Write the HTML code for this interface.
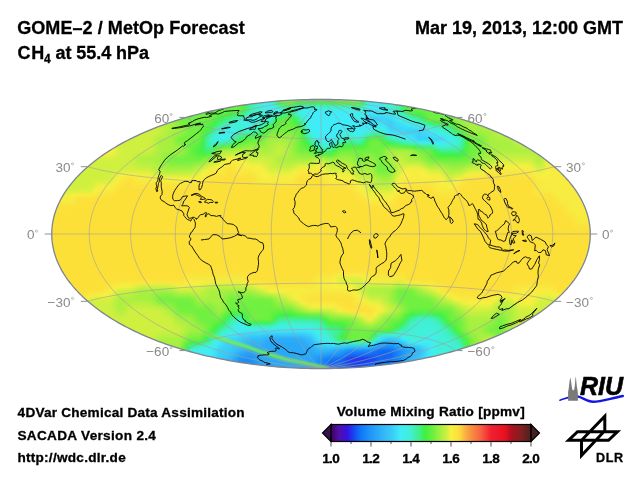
<!DOCTYPE html>
<html><head><meta charset="utf-8"><style>
html,body{margin:0;padding:0;background:#fff;width:640px;height:480px;overflow:hidden}
svg{position:absolute;left:0;top:0}
text{font-family:"Liberation Sans",Arial,Helvetica,sans-serif}
.b{font-weight:bold;fill:#000;stroke:#000;stroke-width:0.3px}
.lab{font-size:13.5px;fill:#8a8a8a}
.lab circle{fill:none;stroke:#a0a0a0;stroke-width:0.7}
.deg{font-size:7px}
</style></head><body>
<svg width="640" height="480" viewBox="0 0 640 480">
<defs><filter id="bl" x="-5%" y="-5%" width="110%" height="110%" color-interpolation-filters="sRGB"><feGaussianBlur stdDeviation="1.5"/></filter><filter id="bl1" x="-10%" y="-50%" width="120%" height="200%"><feGaussianBlur stdDeviation="1"/></filter><clipPath id="ec"><path d="M590.27,234 590.23,231.65 590.1,229.3 589.9,226.95 589.61,224.61 589.24,222.27 588.79,219.93 588.26,217.59 587.65,215.26 586.95,212.94 586.18,210.62 585.32,208.31 584.38,206.01 583.36,203.71 582.27,201.43 581.09,199.15 579.84,196.89 578.5,194.64 577.09,192.4 575.6,190.17 574.03,187.95 572.38,185.75 570.66,183.57 568.86,181.39 566.99,179.24 565.04,177.1 563.01,174.98 560.92,172.88 558.75,170.79 556.51,168.73 554.19,166.68 551.81,164.66 549.35,162.66 546.83,160.67 544.23,158.71 541.57,156.78 538.84,154.86 536.05,152.98 533.18,151.11 530.26,149.27 527.27,147.46 524.22,145.67 521.1,143.91 517.93,142.18 514.69,140.48 511.4,138.8 508.05,137.15 504.64,135.54 501.17,133.95 497.65,132.39 494.08,130.87 490.45,129.37 486.78,127.91 483.05,126.48 479.27,125.08 475.44,123.71 471.57,122.38 467.65,121.09 463.69,119.82 459.68,118.6 455.63,117.4 451.54,116.25 447.41,115.13 443.24,114.04 439.04,112.99 434.8,111.98 430.52,111.01 426.21,110.07 421.87,109.17 417.5,108.31 413.09,107.49 408.66,106.7 404.21,105.96 399.73,105.25 395.22,104.58 390.69,103.95 386.14,103.37 381.57,102.82 376.98,102.31 372.38,101.84 367.76,101.41 363.12,101.02 358.47,100.68 353.82,100.37 349.15,100.1 344.47,99.88 339.78,99.69 335.09,99.55 330.4,99.45 325.7,99.39 321,99.37 316.3,99.39 311.6,99.45 306.91,99.55 302.22,99.69 297.53,99.88 292.85,100.1 288.18,100.37 283.53,100.68 278.88,101.02 274.24,101.41 269.62,101.84 265.02,102.31 260.43,102.82 255.86,103.37 251.31,103.95 246.78,104.58 242.27,105.25 237.79,105.96 233.34,106.7 228.91,107.49 224.5,108.31 220.13,109.17 215.79,110.07 211.48,111.01 207.2,111.98 202.96,112.99 198.76,114.04 194.59,115.13 190.46,116.25 186.37,117.4 182.32,118.6 178.31,119.82 174.35,121.09 170.43,122.38 166.56,123.71 162.73,125.08 158.95,126.48 155.22,127.91 151.55,129.37 147.92,130.87 144.35,132.39 140.83,133.95 137.36,135.54 133.95,137.15 130.6,138.8 127.31,140.48 124.07,142.18 120.9,143.91 117.78,145.67 114.73,147.46 111.74,149.27 108.82,151.11 105.95,152.98 103.16,154.86 100.43,156.78 97.77,158.71 95.17,160.67 92.65,162.66 90.19,164.66 87.81,166.68 85.49,168.73 83.25,170.79 81.08,172.88 78.99,174.98 76.96,177.1 75.01,179.24 73.14,181.39 71.34,183.57 69.62,185.75 67.97,187.95 66.4,190.17 64.91,192.4 63.5,194.64 62.16,196.89 60.91,199.15 59.73,201.43 58.64,203.71 57.62,206.01 56.68,208.31 55.82,210.62 55.05,212.94 54.35,215.26 53.74,217.59 53.21,219.93 52.76,222.27 52.39,224.61 52.1,226.95 51.9,229.3 51.77,231.65 51.73,234 51.77,236.35 51.9,238.7 52.1,241.05 52.39,243.39 52.76,245.73 53.21,248.07 53.74,250.41 54.35,252.74 55.05,255.06 55.82,257.38 56.68,259.69 57.62,261.99 58.64,264.29 59.73,266.57 60.91,268.85 62.16,271.11 63.5,273.36 64.91,275.6 66.4,277.83 67.97,280.05 69.62,282.25 71.34,284.43 73.14,286.61 75.01,288.76 76.96,290.9 78.99,293.02 81.08,295.12 83.25,297.21 85.49,299.27 87.81,301.32 90.19,303.34 92.65,305.34 95.17,307.33 97.77,309.29 100.43,311.22 103.16,313.14 105.95,315.02 108.82,316.89 111.74,318.73 114.73,320.54 117.78,322.33 120.9,324.09 124.07,325.82 127.31,327.52 130.6,329.2 133.95,330.85 137.36,332.46 140.83,334.05 144.35,335.61 147.92,337.13 151.55,338.63 155.22,340.09 158.95,341.52 162.73,342.92 166.56,344.29 170.43,345.62 174.35,346.91 178.31,348.18 182.32,349.4 186.37,350.6 190.46,351.75 194.59,352.87 198.76,353.96 202.96,355.01 207.2,356.02 211.48,356.99 215.79,357.93 220.13,358.83 224.5,359.69 228.91,360.51 233.34,361.3 237.79,362.04 242.27,362.75 246.78,363.42 251.31,364.05 255.86,364.63 260.43,365.18 265.02,365.69 269.62,366.16 274.24,366.59 278.88,366.98 283.53,367.32 288.18,367.63 292.85,367.9 297.53,368.12 302.22,368.31 306.91,368.45 311.6,368.55 316.3,368.61 321,368.63 325.7,368.61 330.4,368.55 335.09,368.45 339.78,368.31 344.47,368.12 349.15,367.9 353.82,367.63 358.47,367.32 363.12,366.98 367.76,366.59 372.38,366.16 376.98,365.69 381.57,365.18 386.14,364.63 390.69,364.05 395.22,363.42 399.73,362.75 404.21,362.04 408.66,361.3 413.09,360.51 417.5,359.69 421.87,358.83 426.21,357.93 430.52,356.99 434.8,356.02 439.04,355.01 443.24,353.96 447.41,352.87 451.54,351.75 455.63,350.6 459.68,349.4 463.69,348.18 467.65,346.91 471.57,345.62 475.44,344.29 479.27,342.92 483.05,341.52 486.78,340.09 490.45,338.63 494.08,337.13 497.65,335.61 501.17,334.05 504.64,332.46 508.05,330.85 511.4,329.2 514.69,327.52 517.93,325.82 521.1,324.09 524.22,322.33 527.27,320.54 530.26,318.73 533.18,316.89 536.05,315.02 538.84,313.14 541.57,311.22 544.23,309.29 546.83,307.33 549.35,305.34 551.81,303.34 554.19,301.32 556.51,299.27 558.75,297.21 560.92,295.12 563.01,293.02 565.04,290.9 566.99,288.76 568.86,286.61 570.66,284.43 572.38,282.25 574.03,280.05 575.6,277.83 577.09,275.6 578.5,273.36 579.84,271.11 581.09,268.85 582.27,266.57 583.36,264.29 584.38,261.99 585.32,259.69 586.18,257.38 586.95,255.06 587.65,252.74 588.26,250.41 588.79,248.07 589.24,245.73 589.61,243.39 589.9,241.05 590.1,238.7 590.23,236.35 590.27,234Z"/></clipPath></defs>
<g clip-path="url(#ec)"><g filter="url(#bl)"><rect x="181" y="97" width="60" height="4" fill="#70f040"/><rect x="241" y="97" width="4" height="4" fill="#50f040"/><rect x="245" y="97" width="4" height="4" fill="#40f068"/><rect x="249" y="97" width="4" height="4" fill="#40f0a4"/><rect x="253" y="97" width="4" height="4" fill="#40f0c0"/><rect x="257" y="97" width="4" height="4" fill="#40f0d4"/><rect x="261" y="97" width="4" height="4" fill="#40f0e0"/><rect x="265" y="97" width="4" height="4" fill="#40ecf0"/><rect x="269" y="97" width="4" height="4" fill="#40f0e8"/><rect x="273" y="97" width="4" height="4" fill="#40f074"/><rect x="277" y="97" width="4" height="4" fill="#8cf040"/><rect x="281" y="97" width="8" height="4" fill="#a8f040"/><rect x="289" y="97" width="4" height="4" fill="#a0f040"/><rect x="293" y="97" width="4" height="4" fill="#8cf040"/><rect x="297" y="97" width="4" height="4" fill="#74f040"/><rect x="301" y="97" width="28" height="4" fill="#70f040"/><rect x="329" y="97" width="4" height="4" fill="#74f040"/><rect x="333" y="97" width="4" height="4" fill="#8cf040"/><rect x="337" y="97" width="4" height="4" fill="#a0f040"/><rect x="341" y="97" width="20" height="4" fill="#a8f040"/><rect x="361" y="97" width="4" height="4" fill="#54f040"/><rect x="365" y="97" width="4" height="4" fill="#40f0c0"/><rect x="369" y="97" width="12" height="4" fill="#40ecf8"/><rect x="381" y="97" width="4" height="4" fill="#40ecf0"/><rect x="385" y="97" width="4" height="4" fill="#40f0e0"/><rect x="389" y="97" width="4" height="4" fill="#40f0d4"/><rect x="393" y="97" width="4" height="4" fill="#40f0c0"/><rect x="397" y="97" width="4" height="4" fill="#40f0a4"/><rect x="401" y="97" width="4" height="4" fill="#40f068"/><rect x="405" y="97" width="4" height="4" fill="#50f040"/><rect x="409" y="97" width="40" height="4" fill="#70f040"/><rect x="181" y="101" width="60" height="4" fill="#70f040"/><rect x="241" y="101" width="4" height="4" fill="#50f040"/><rect x="245" y="101" width="4" height="4" fill="#40f068"/><rect x="249" y="101" width="4" height="4" fill="#40f0a4"/><rect x="253" y="101" width="4" height="4" fill="#40f0c0"/><rect x="257" y="101" width="4" height="4" fill="#40f0d4"/><rect x="261" y="101" width="4" height="4" fill="#40f0e0"/><rect x="265" y="101" width="4" height="4" fill="#40ecf0"/><rect x="269" y="101" width="4" height="4" fill="#40ecec"/><rect x="273" y="101" width="4" height="4" fill="#40f0b0"/><rect x="277" y="101" width="4" height="4" fill="#48f040"/><rect x="281" y="101" width="4" height="4" fill="#5cf040"/><rect x="285" y="101" width="4" height="4" fill="#68f040"/><rect x="289" y="101" width="4" height="4" fill="#6cf040"/><rect x="293" y="101" width="4" height="4" fill="#54f040"/><rect x="297" y="101" width="4" height="4" fill="#40f048"/><rect x="301" y="101" width="28" height="4" fill="#40f054"/><rect x="329" y="101" width="4" height="4" fill="#40f04c"/><rect x="333" y="101" width="4" height="4" fill="#48f040"/><rect x="337" y="101" width="4" height="4" fill="#50f040"/><rect x="341" y="101" width="8" height="4" fill="#54f040"/><rect x="349" y="101" width="4" height="4" fill="#58f040"/><rect x="353" y="101" width="4" height="4" fill="#5cf040"/><rect x="357" y="101" width="4" height="4" fill="#60f040"/><rect x="361" y="101" width="4" height="4" fill="#40f060"/><rect x="365" y="101" width="4" height="4" fill="#40f0d4"/><rect x="369" y="101" width="12" height="4" fill="#40ecf8"/><rect x="381" y="101" width="4" height="4" fill="#40ecf0"/><rect x="385" y="101" width="4" height="4" fill="#40f0e0"/><rect x="389" y="101" width="4" height="4" fill="#40f0d4"/><rect x="393" y="101" width="4" height="4" fill="#40f0c0"/><rect x="397" y="101" width="4" height="4" fill="#40f0a4"/><rect x="401" y="101" width="4" height="4" fill="#40f068"/><rect x="405" y="101" width="4" height="4" fill="#50f040"/><rect x="409" y="101" width="40" height="4" fill="#70f040"/><rect x="181" y="105" width="60" height="4" fill="#70f040"/><rect x="241" y="105" width="4" height="4" fill="#50f040"/><rect x="245" y="105" width="4" height="4" fill="#40f068"/><rect x="249" y="105" width="4" height="4" fill="#40f0a4"/><rect x="253" y="105" width="4" height="4" fill="#40f0c0"/><rect x="257" y="105" width="4" height="4" fill="#40f0d4"/><rect x="261" y="105" width="4" height="4" fill="#40f0e0"/><rect x="265" y="105" width="4" height="4" fill="#40ecf0"/><rect x="269" y="105" width="4" height="4" fill="#40ecf4"/><rect x="273" y="105" width="4" height="4" fill="#40f0e0"/><rect x="277" y="105" width="4" height="4" fill="#40f0c8"/><rect x="281" y="105" width="4" height="4" fill="#40f0a0"/><rect x="285" y="105" width="4" height="4" fill="#40f074"/><rect x="289" y="105" width="4" height="4" fill="#40f05c"/><rect x="293" y="105" width="4" height="4" fill="#40f098"/><rect x="297" y="105" width="4" height="4" fill="#40f0c8"/><rect x="301" y="105" width="32" height="4" fill="#40f0d0"/><rect x="333" y="105" width="4" height="4" fill="#40f0c8"/><rect x="337" y="105" width="12" height="4" fill="#40f0c0"/><rect x="349" y="105" width="4" height="4" fill="#40f0b8"/><rect x="353" y="105" width="4" height="4" fill="#40f0a8"/><rect x="357" y="105" width="4" height="4" fill="#40f094"/><rect x="361" y="105" width="4" height="4" fill="#40f0bc"/><rect x="365" y="105" width="4" height="4" fill="#40f0e4"/><rect x="369" y="105" width="12" height="4" fill="#40ecf8"/><rect x="381" y="105" width="4" height="4" fill="#40ecf0"/><rect x="385" y="105" width="4" height="4" fill="#40f0e0"/><rect x="389" y="105" width="4" height="4" fill="#40f0d4"/><rect x="393" y="105" width="4" height="4" fill="#40f0c0"/><rect x="397" y="105" width="4" height="4" fill="#40f0a4"/><rect x="401" y="105" width="4" height="4" fill="#40f068"/><rect x="405" y="105" width="4" height="4" fill="#50f040"/><rect x="409" y="105" width="40" height="4" fill="#70f040"/><rect x="449" y="105" width="4" height="4" fill="#74f040"/><rect x="453" y="105" width="4" height="4" fill="#8cf040"/><rect x="173" y="109" width="4" height="4" fill="#8cf040"/><rect x="177" y="109" width="4" height="4" fill="#74f040"/><rect x="181" y="109" width="32" height="4" fill="#70f040"/><rect x="213" y="109" width="4" height="4" fill="#6cf040"/><rect x="217" y="109" width="8" height="4" fill="#68f040"/><rect x="225" y="109" width="4" height="4" fill="#64f040"/><rect x="229" y="109" width="12" height="4" fill="#60f040"/><rect x="241" y="109" width="4" height="4" fill="#48f040"/><rect x="245" y="109" width="4" height="4" fill="#40f080"/><rect x="249" y="109" width="4" height="4" fill="#40f0b0"/><rect x="253" y="109" width="4" height="4" fill="#40f0c8"/><rect x="257" y="109" width="4" height="4" fill="#40f0d4"/><rect x="261" y="109" width="4" height="4" fill="#40f0e0"/><rect x="265" y="109" width="4" height="4" fill="#40ecec"/><rect x="269" y="109" width="4" height="4" fill="#40ecf4"/><rect x="273" y="109" width="4" height="4" fill="#40ecf0"/><rect x="277" y="109" width="4" height="4" fill="#40ecec"/><rect x="281" y="109" width="4" height="4" fill="#40f0d8"/><rect x="285" y="109" width="4" height="4" fill="#40f0b4"/><rect x="289" y="109" width="4" height="4" fill="#40f09c"/><rect x="293" y="109" width="4" height="4" fill="#40f0d0"/><rect x="297" y="109" width="4" height="4" fill="#40ecec"/><rect x="301" y="109" width="4" height="4" fill="#40ecf4"/><rect x="305" y="109" width="44" height="4" fill="#40ecf8"/><rect x="349" y="109" width="4" height="4" fill="#40ecf4"/><rect x="353" y="109" width="4" height="4" fill="#40ece8"/><rect x="357" y="109" width="4" height="4" fill="#40f0e0"/><rect x="361" y="109" width="4" height="4" fill="#40f0e4"/><rect x="365" y="109" width="4" height="4" fill="#40ecf0"/><rect x="369" y="109" width="12" height="4" fill="#40e8f8"/><rect x="381" y="109" width="4" height="4" fill="#40ecf4"/><rect x="385" y="109" width="4" height="4" fill="#40f0e8"/><rect x="389" y="109" width="4" height="4" fill="#40f0dc"/><rect x="393" y="109" width="4" height="4" fill="#40f0cc"/><rect x="397" y="109" width="4" height="4" fill="#40f0b0"/><rect x="401" y="109" width="4" height="4" fill="#40f080"/><rect x="405" y="109" width="4" height="4" fill="#48f040"/><rect x="409" y="109" width="12" height="4" fill="#60f040"/><rect x="421" y="109" width="4" height="4" fill="#68f040"/><rect x="425" y="109" width="4" height="4" fill="#6cf040"/><rect x="429" y="109" width="20" height="4" fill="#70f040"/><rect x="449" y="109" width="4" height="4" fill="#74f040"/><rect x="453" y="109" width="4" height="4" fill="#8cf040"/><rect x="457" y="109" width="4" height="4" fill="#a0f040"/><rect x="461" y="109" width="28" height="4" fill="#a8f040"/><rect x="161" y="113" width="8" height="4" fill="#a8f040"/><rect x="169" y="113" width="4" height="4" fill="#a0f040"/><rect x="173" y="113" width="4" height="4" fill="#8cf040"/><rect x="177" y="113" width="4" height="4" fill="#74f040"/><rect x="181" y="113" width="28" height="4" fill="#70f040"/><rect x="209" y="113" width="4" height="4" fill="#6cf040"/><rect x="213" y="113" width="4" height="4" fill="#60f040"/><rect x="217" y="113" width="4" height="4" fill="#58f040"/><rect x="221" y="113" width="4" height="4" fill="#50f040"/><rect x="225" y="113" width="4" height="4" fill="#48f040"/><rect x="229" y="113" width="4" height="4" fill="#40f044"/><rect x="233" y="113" width="4" height="4" fill="#40f058"/><rect x="237" y="113" width="4" height="4" fill="#40f070"/><rect x="241" y="113" width="4" height="4" fill="#40f098"/><rect x="245" y="113" width="4" height="4" fill="#40f0c0"/><rect x="249" y="113" width="12" height="4" fill="#40f0d8"/><rect x="261" y="113" width="4" height="4" fill="#40f0dc"/><rect x="265" y="113" width="8" height="4" fill="#40f0e4"/><rect x="273" y="113" width="4" height="4" fill="#40f0d0"/><rect x="277" y="113" width="4" height="4" fill="#40f0a8"/><rect x="281" y="113" width="4" height="4" fill="#40f088"/><rect x="285" y="113" width="4" height="4" fill="#40f060"/><rect x="289" y="113" width="4" height="4" fill="#40f054"/><rect x="293" y="113" width="4" height="4" fill="#40f09c"/><rect x="297" y="113" width="4" height="4" fill="#40f0d0"/><rect x="301" y="113" width="4" height="4" fill="#40f0e0"/><rect x="305" y="113" width="4" height="4" fill="#40ecf0"/><rect x="309" y="113" width="44" height="4" fill="#40ecf8"/><rect x="353" y="113" width="4" height="4" fill="#40ecf0"/><rect x="357" y="113" width="4" height="4" fill="#40ece8"/><rect x="361" y="113" width="4" height="4" fill="#40ecf0"/><rect x="365" y="113" width="4" height="4" fill="#40e8f8"/><rect x="369" y="113" width="12" height="4" fill="#3ce0f8"/><rect x="381" y="113" width="4" height="4" fill="#40e0f8"/><rect x="385" y="113" width="4" height="4" fill="#40e8f8"/><rect x="389" y="113" width="4" height="4" fill="#40ecf4"/><rect x="393" y="113" width="4" height="4" fill="#40f0e8"/><rect x="397" y="113" width="4" height="4" fill="#40f0dc"/><rect x="401" y="113" width="4" height="4" fill="#40f0c0"/><rect x="405" y="113" width="4" height="4" fill="#40f098"/><rect x="409" y="113" width="4" height="4" fill="#40f070"/><rect x="413" y="113" width="4" height="4" fill="#40f058"/><rect x="417" y="113" width="4" height="4" fill="#40f044"/><rect x="421" y="113" width="4" height="4" fill="#4cf040"/><rect x="425" y="113" width="4" height="4" fill="#60f040"/><rect x="429" y="113" width="20" height="4" fill="#70f040"/><rect x="449" y="113" width="4" height="4" fill="#74f040"/><rect x="453" y="113" width="4" height="4" fill="#8cf040"/><rect x="457" y="113" width="4" height="4" fill="#a0f040"/><rect x="461" y="113" width="28" height="4" fill="#a8f040"/><rect x="149" y="117" width="4" height="4" fill="#ccf040"/><rect x="153" y="117" width="4" height="4" fill="#bcf040"/><rect x="157" y="117" width="4" height="4" fill="#acf040"/><rect x="161" y="117" width="8" height="4" fill="#a8f040"/><rect x="169" y="117" width="4" height="4" fill="#a0f040"/><rect x="173" y="117" width="4" height="4" fill="#8cf040"/><rect x="177" y="117" width="4" height="4" fill="#74f040"/><rect x="181" y="117" width="28" height="4" fill="#70f040"/><rect x="209" y="117" width="4" height="4" fill="#68f040"/><rect x="213" y="117" width="4" height="4" fill="#58f040"/><rect x="217" y="117" width="4" height="4" fill="#48f040"/><rect x="221" y="117" width="4" height="4" fill="#40f050"/><rect x="225" y="117" width="4" height="4" fill="#40f078"/><rect x="229" y="117" width="4" height="4" fill="#40f098"/><rect x="233" y="117" width="4" height="4" fill="#40f0b0"/><rect x="237" y="117" width="4" height="4" fill="#40f0c8"/><rect x="241" y="117" width="4" height="4" fill="#40f0d8"/><rect x="245" y="117" width="4" height="4" fill="#40f0e8"/><rect x="249" y="117" width="4" height="4" fill="#40ecf0"/><rect x="253" y="117" width="4" height="4" fill="#40f0e4"/><rect x="257" y="117" width="4" height="4" fill="#40f0dc"/><rect x="261" y="117" width="8" height="4" fill="#40f0d8"/><rect x="269" y="117" width="4" height="4" fill="#40f0d4"/><rect x="273" y="117" width="4" height="4" fill="#40f08c"/><rect x="277" y="117" width="4" height="4" fill="#50f040"/><rect x="281" y="117" width="4" height="4" fill="#5cf040"/><rect x="285" y="117" width="4" height="4" fill="#60f040"/><rect x="289" y="117" width="4" height="4" fill="#58f040"/><rect x="293" y="117" width="4" height="4" fill="#40f054"/><rect x="297" y="117" width="4" height="4" fill="#40f09c"/><rect x="301" y="117" width="4" height="4" fill="#40f0d0"/><rect x="305" y="117" width="4" height="4" fill="#40f0e8"/><rect x="309" y="117" width="48" height="4" fill="#40ecf8"/><rect x="357" y="117" width="4" height="4" fill="#40ecf4"/><rect x="361" y="117" width="4" height="4" fill="#40e8f8"/><rect x="365" y="117" width="4" height="4" fill="#3cdcf8"/><rect x="369" y="117" width="12" height="4" fill="#38d0f8"/><rect x="381" y="117" width="4" height="4" fill="#38d4f8"/><rect x="385" y="117" width="4" height="4" fill="#3cd4f8"/><rect x="389" y="117" width="4" height="4" fill="#3cd8f8"/><rect x="393" y="117" width="4" height="4" fill="#40e4f8"/><rect x="397" y="117" width="4" height="4" fill="#40ecf4"/><rect x="401" y="117" width="4" height="4" fill="#40f0e8"/><rect x="405" y="117" width="4" height="4" fill="#40f0d8"/><rect x="409" y="117" width="4" height="4" fill="#40f0c8"/><rect x="413" y="117" width="4" height="4" fill="#40f0b0"/><rect x="417" y="117" width="4" height="4" fill="#40f098"/><rect x="421" y="117" width="4" height="4" fill="#40f058"/><rect x="425" y="117" width="4" height="4" fill="#54f040"/><rect x="429" y="117" width="20" height="4" fill="#70f040"/><rect x="449" y="117" width="4" height="4" fill="#74f040"/><rect x="453" y="117" width="4" height="4" fill="#8cf040"/><rect x="457" y="117" width="4" height="4" fill="#a0f040"/><rect x="461" y="117" width="28" height="4" fill="#a8f040"/><rect x="489" y="117" width="4" height="4" fill="#acf040"/><rect x="97" y="121" width="52" height="4" fill="#d0f040"/><rect x="149" y="121" width="4" height="4" fill="#ccf040"/><rect x="153" y="121" width="4" height="4" fill="#c0f040"/><rect x="157" y="121" width="4" height="4" fill="#b8f040"/><rect x="161" y="121" width="4" height="4" fill="#b0f040"/><rect x="165" y="121" width="4" height="4" fill="#acf040"/><rect x="169" y="121" width="4" height="4" fill="#a4f040"/><rect x="173" y="121" width="4" height="4" fill="#94f040"/><rect x="177" y="121" width="4" height="4" fill="#84f040"/><rect x="181" y="121" width="4" height="4" fill="#78f040"/><rect x="185" y="121" width="4" height="4" fill="#74f040"/><rect x="189" y="121" width="12" height="4" fill="#70f040"/><rect x="201" y="121" width="4" height="4" fill="#68f040"/><rect x="205" y="121" width="4" height="4" fill="#60f040"/><rect x="209" y="121" width="4" height="4" fill="#58f040"/><rect x="213" y="121" width="4" height="4" fill="#40f040"/><rect x="217" y="121" width="4" height="4" fill="#40f070"/><rect x="221" y="121" width="4" height="4" fill="#40f098"/><rect x="225" y="121" width="4" height="4" fill="#40f0b0"/><rect x="229" y="121" width="4" height="4" fill="#40f0c8"/><rect x="233" y="121" width="4" height="4" fill="#40f0d0"/><rect x="237" y="121" width="4" height="4" fill="#40f0d8"/><rect x="241" y="121" width="4" height="4" fill="#40f0e0"/><rect x="245" y="121" width="4" height="4" fill="#40f0e8"/><rect x="249" y="121" width="4" height="4" fill="#40ecec"/><rect x="253" y="121" width="4" height="4" fill="#40f0e0"/><rect x="257" y="121" width="4" height="4" fill="#40f0d0"/><rect x="261" y="121" width="4" height="4" fill="#40f0c0"/><rect x="265" y="121" width="4" height="4" fill="#40f0b0"/><rect x="269" y="121" width="4" height="4" fill="#40f098"/><rect x="273" y="121" width="4" height="4" fill="#40f044"/><rect x="277" y="121" width="4" height="4" fill="#60f040"/><rect x="281" y="121" width="8" height="4" fill="#70f040"/><rect x="289" y="121" width="4" height="4" fill="#68f040"/><rect x="293" y="121" width="4" height="4" fill="#4cf040"/><rect x="297" y="121" width="4" height="4" fill="#40f058"/><rect x="301" y="121" width="4" height="4" fill="#40f0a8"/><rect x="305" y="121" width="4" height="4" fill="#40f0e0"/><rect x="309" y="121" width="52" height="4" fill="#40ecf8"/><rect x="361" y="121" width="4" height="4" fill="#40e8f8"/><rect x="365" y="121" width="4" height="4" fill="#3ce0f8"/><rect x="369" y="121" width="4" height="4" fill="#3cd8f8"/><rect x="373" y="121" width="4" height="4" fill="#3cdcf8"/><rect x="377" y="121" width="4" height="4" fill="#3ce0f8"/><rect x="381" y="121" width="4" height="4" fill="#3cdcf8"/><rect x="385" y="121" width="4" height="4" fill="#3cd4f8"/><rect x="389" y="121" width="4" height="4" fill="#38d0f8"/><rect x="393" y="121" width="4" height="4" fill="#3cd8f8"/><rect x="397" y="121" width="4" height="4" fill="#40e0f8"/><rect x="401" y="121" width="4" height="4" fill="#40e8f8"/><rect x="405" y="121" width="4" height="4" fill="#40ecf0"/><rect x="409" y="121" width="4" height="4" fill="#40f0e8"/><rect x="413" y="121" width="4" height="4" fill="#40f0e0"/><rect x="417" y="121" width="4" height="4" fill="#40f0d8"/><rect x="421" y="121" width="4" height="4" fill="#40f0b8"/><rect x="425" y="121" width="4" height="4" fill="#40f088"/><rect x="429" y="121" width="4" height="4" fill="#40f050"/><rect x="433" y="121" width="4" height="4" fill="#40f044"/><rect x="437" y="121" width="4" height="4" fill="#44f040"/><rect x="441" y="121" width="4" height="4" fill="#48f040"/><rect x="445" y="121" width="4" height="4" fill="#4cf040"/><rect x="449" y="121" width="4" height="4" fill="#58f040"/><rect x="453" y="121" width="4" height="4" fill="#70f040"/><rect x="457" y="121" width="4" height="4" fill="#90f040"/><rect x="461" y="121" width="4" height="4" fill="#9cf040"/><rect x="465" y="121" width="4" height="4" fill="#a4f040"/><rect x="469" y="121" width="20" height="4" fill="#a8f040"/><rect x="489" y="121" width="4" height="4" fill="#acf040"/><rect x="493" y="121" width="4" height="4" fill="#bcf040"/><rect x="497" y="121" width="4" height="4" fill="#ccf040"/><rect x="101" y="125" width="52" height="4" fill="#d0f040"/><rect x="153" y="125" width="4" height="4" fill="#c8f040"/><rect x="157" y="125" width="4" height="4" fill="#c4f040"/><rect x="161" y="125" width="4" height="4" fill="#bcf040"/><rect x="165" y="125" width="4" height="4" fill="#b0f040"/><rect x="169" y="125" width="4" height="4" fill="#a8f040"/><rect x="173" y="125" width="4" height="4" fill="#a0f040"/><rect x="177" y="125" width="4" height="4" fill="#98f040"/><rect x="181" y="125" width="4" height="4" fill="#8cf040"/><rect x="185" y="125" width="4" height="4" fill="#78f040"/><rect x="189" y="125" width="12" height="4" fill="#70f040"/><rect x="201" y="125" width="4" height="4" fill="#60f040"/><rect x="205" y="125" width="4" height="4" fill="#58f040"/><rect x="209" y="125" width="4" height="4" fill="#48f040"/><rect x="213" y="125" width="4" height="4" fill="#40f078"/><rect x="217" y="125" width="4" height="4" fill="#40f0ac"/><rect x="221" y="125" width="4" height="4" fill="#40f0cc"/><rect x="225" y="125" width="4" height="4" fill="#40f0dc"/><rect x="229" y="125" width="4" height="4" fill="#40f0e4"/><rect x="233" y="125" width="4" height="4" fill="#40f0e0"/><rect x="237" y="125" width="4" height="4" fill="#40f0d8"/><rect x="241" y="125" width="4" height="4" fill="#40f0dc"/><rect x="245" y="125" width="8" height="4" fill="#40f0e0"/><rect x="253" y="125" width="4" height="4" fill="#40f0d0"/><rect x="257" y="125" width="4" height="4" fill="#40f0b8"/><rect x="261" y="125" width="4" height="4" fill="#40f094"/><rect x="265" y="125" width="4" height="4" fill="#40f060"/><rect x="269" y="125" width="4" height="4" fill="#48f040"/><rect x="273" y="125" width="4" height="4" fill="#58f040"/><rect x="277" y="125" width="4" height="4" fill="#68f040"/><rect x="281" y="125" width="8" height="4" fill="#70f040"/><rect x="289" y="125" width="4" height="4" fill="#6cf040"/><rect x="293" y="125" width="4" height="4" fill="#60f040"/><rect x="297" y="125" width="4" height="4" fill="#54f040"/><rect x="301" y="125" width="4" height="4" fill="#40f080"/><rect x="305" y="125" width="4" height="4" fill="#40f0d8"/><rect x="309" y="125" width="52" height="4" fill="#40ecf8"/><rect x="361" y="125" width="8" height="4" fill="#40e8f8"/><rect x="369" y="125" width="4" height="4" fill="#40e4f8"/><rect x="373" y="125" width="4" height="4" fill="#40ecf8"/><rect x="377" y="125" width="4" height="4" fill="#40ecec"/><rect x="381" y="125" width="4" height="4" fill="#40ecf8"/><rect x="385" y="125" width="4" height="4" fill="#3cdcf8"/><rect x="389" y="125" width="4" height="4" fill="#38d0f8"/><rect x="393" y="125" width="4" height="4" fill="#3cd4f8"/><rect x="397" y="125" width="8" height="4" fill="#3cd8f8"/><rect x="405" y="125" width="4" height="4" fill="#3ce0f8"/><rect x="409" y="125" width="4" height="4" fill="#40e0f8"/><rect x="413" y="125" width="4" height="4" fill="#40e4f8"/><rect x="417" y="125" width="4" height="4" fill="#40e8f8"/><rect x="421" y="125" width="4" height="4" fill="#40ecf0"/><rect x="425" y="125" width="4" height="4" fill="#40f0e0"/><rect x="429" y="125" width="4" height="4" fill="#40f0d0"/><rect x="433" y="125" width="4" height="4" fill="#40f0bc"/><rect x="437" y="125" width="4" height="4" fill="#40f0a8"/><rect x="441" y="125" width="4" height="4" fill="#40f098"/><rect x="445" y="125" width="4" height="4" fill="#40f080"/><rect x="449" y="125" width="4" height="4" fill="#40f058"/><rect x="453" y="125" width="4" height="4" fill="#54f040"/><rect x="457" y="125" width="4" height="4" fill="#78f040"/><rect x="461" y="125" width="4" height="4" fill="#8cf040"/><rect x="465" y="125" width="4" height="4" fill="#9cf040"/><rect x="469" y="125" width="20" height="4" fill="#a8f040"/><rect x="489" y="125" width="4" height="4" fill="#acf040"/><rect x="493" y="125" width="4" height="4" fill="#bcf040"/><rect x="497" y="125" width="4" height="4" fill="#ccf040"/><rect x="501" y="125" width="68" height="4" fill="#d0f040"/><rect x="105" y="129" width="52" height="4" fill="#d0f040"/><rect x="157" y="129" width="4" height="4" fill="#ccf040"/><rect x="161" y="129" width="4" height="4" fill="#c0f040"/><rect x="165" y="129" width="4" height="4" fill="#b4f040"/><rect x="169" y="129" width="4" height="4" fill="#a8f040"/><rect x="173" y="129" width="8" height="4" fill="#a4f040"/><rect x="181" y="129" width="4" height="4" fill="#94f040"/><rect x="185" y="129" width="4" height="4" fill="#80f040"/><rect x="189" y="129" width="12" height="4" fill="#70f040"/><rect x="201" y="129" width="4" height="4" fill="#5cf040"/><rect x="205" y="129" width="4" height="4" fill="#48f040"/><rect x="209" y="129" width="4" height="4" fill="#40f068"/><rect x="213" y="129" width="4" height="4" fill="#40f0a8"/><rect x="217" y="129" width="4" height="4" fill="#40f0d4"/><rect x="221" y="129" width="4" height="4" fill="#40f0e4"/><rect x="225" y="129" width="4" height="4" fill="#40ecec"/><rect x="229" y="129" width="4" height="4" fill="#40ecf0"/><rect x="233" y="129" width="4" height="4" fill="#40f0e4"/><rect x="237" y="129" width="4" height="4" fill="#40f0d4"/><rect x="241" y="129" width="8" height="4" fill="#40f0d0"/><rect x="249" y="129" width="4" height="4" fill="#40f0c8"/><rect x="253" y="129" width="4" height="4" fill="#40f0b0"/><rect x="257" y="129" width="4" height="4" fill="#40f098"/><rect x="261" y="129" width="4" height="4" fill="#40f058"/><rect x="265" y="129" width="4" height="4" fill="#58f040"/><rect x="269" y="129" width="24" height="4" fill="#74f040"/><rect x="293" y="129" width="8" height="4" fill="#70f040"/><rect x="301" y="129" width="4" height="4" fill="#40f050"/><rect x="305" y="129" width="4" height="4" fill="#40f0c8"/><rect x="309" y="129" width="4" height="4" fill="#40ecf0"/><rect x="313" y="129" width="4" height="4" fill="#40ecf4"/><rect x="317" y="129" width="20" height="4" fill="#40ecf8"/><rect x="337" y="129" width="12" height="4" fill="#40ecf4"/><rect x="349" y="129" width="4" height="4" fill="#40ecf0"/><rect x="353" y="129" width="8" height="4" fill="#40ecf4"/><rect x="361" y="129" width="8" height="4" fill="#40ecf0"/><rect x="369" y="129" width="4" height="4" fill="#40f0e8"/><rect x="373" y="129" width="4" height="4" fill="#40f0dc"/><rect x="377" y="129" width="4" height="4" fill="#40f0d0"/><rect x="381" y="129" width="4" height="4" fill="#40f0e0"/><rect x="385" y="129" width="4" height="4" fill="#40e8f8"/><rect x="389" y="129" width="8" height="4" fill="#3cd8f8"/><rect x="397" y="129" width="8" height="4" fill="#3cd4f8"/><rect x="405" y="129" width="4" height="4" fill="#38d4f8"/><rect x="409" y="129" width="12" height="4" fill="#38d0f8"/><rect x="421" y="129" width="4" height="4" fill="#3cd8f8"/><rect x="425" y="129" width="4" height="4" fill="#40e0f8"/><rect x="429" y="129" width="4" height="4" fill="#40ecf8"/><rect x="433" y="129" width="4" height="4" fill="#40ecec"/><rect x="437" y="129" width="4" height="4" fill="#40f0e0"/><rect x="441" y="129" width="4" height="4" fill="#40f0d4"/><rect x="445" y="129" width="4" height="4" fill="#40f0c0"/><rect x="449" y="129" width="4" height="4" fill="#40f0a0"/><rect x="453" y="129" width="4" height="4" fill="#40f058"/><rect x="457" y="129" width="4" height="4" fill="#58f040"/><rect x="461" y="129" width="4" height="4" fill="#70f040"/><rect x="465" y="129" width="4" height="4" fill="#90f040"/><rect x="469" y="129" width="12" height="4" fill="#a0f040"/><rect x="481" y="129" width="4" height="4" fill="#a4f040"/><rect x="485" y="129" width="4" height="4" fill="#a8f040"/><rect x="489" y="129" width="4" height="4" fill="#acf040"/><rect x="493" y="129" width="4" height="4" fill="#b8f040"/><rect x="497" y="129" width="4" height="4" fill="#c8f040"/><rect x="501" y="129" width="12" height="4" fill="#ccf040"/><rect x="513" y="129" width="52" height="4" fill="#d0f040"/><rect x="109" y="133" width="44" height="4" fill="#d0f040"/><rect x="153" y="133" width="4" height="4" fill="#c8f040"/><rect x="157" y="133" width="4" height="4" fill="#c0f040"/><rect x="161" y="133" width="4" height="4" fill="#b8f040"/><rect x="165" y="133" width="4" height="4" fill="#b0f040"/><rect x="169" y="133" width="4" height="4" fill="#a4f040"/><rect x="173" y="133" width="4" height="4" fill="#98f040"/><rect x="177" y="133" width="4" height="4" fill="#90f040"/><rect x="181" y="133" width="4" height="4" fill="#84f040"/><rect x="185" y="133" width="4" height="4" fill="#78f040"/><rect x="189" y="133" width="12" height="4" fill="#70f040"/><rect x="201" y="133" width="4" height="4" fill="#50f040"/><rect x="205" y="133" width="4" height="4" fill="#40f068"/><rect x="209" y="133" width="4" height="4" fill="#40f0a8"/><rect x="213" y="133" width="4" height="4" fill="#40f0d0"/><rect x="217" y="133" width="4" height="4" fill="#40f0e4"/><rect x="221" y="133" width="8" height="4" fill="#40f0e8"/><rect x="229" y="133" width="4" height="4" fill="#40f0e4"/><rect x="233" y="133" width="4" height="4" fill="#40f0d0"/><rect x="237" y="133" width="4" height="4" fill="#40f0a8"/><rect x="241" y="133" width="4" height="4" fill="#40f094"/><rect x="245" y="133" width="4" height="4" fill="#40f080"/><rect x="249" y="133" width="4" height="4" fill="#40f070"/><rect x="253" y="133" width="4" height="4" fill="#40f058"/><rect x="257" y="133" width="4" height="4" fill="#40f044"/><rect x="261" y="133" width="4" height="4" fill="#54f040"/><rect x="265" y="133" width="4" height="4" fill="#70f040"/><rect x="269" y="133" width="20" height="4" fill="#8cf040"/><rect x="289" y="133" width="4" height="4" fill="#88f040"/><rect x="293" y="133" width="4" height="4" fill="#7cf040"/><rect x="297" y="133" width="4" height="4" fill="#70f040"/><rect x="301" y="133" width="4" height="4" fill="#44f040"/><rect x="305" y="133" width="4" height="4" fill="#40f0a4"/><rect x="309" y="133" width="4" height="4" fill="#40f0dc"/><rect x="313" y="133" width="4" height="4" fill="#40f0e8"/><rect x="317" y="133" width="4" height="4" fill="#40ecf4"/><rect x="321" y="133" width="12" height="4" fill="#40ecf8"/><rect x="333" y="133" width="4" height="4" fill="#40ecf0"/><rect x="337" y="133" width="4" height="4" fill="#40ece8"/><rect x="341" y="133" width="4" height="4" fill="#40f0e4"/><rect x="345" y="133" width="4" height="4" fill="#40f0dc"/><rect x="349" y="133" width="4" height="4" fill="#40f0d8"/><rect x="353" y="133" width="4" height="4" fill="#40f0e0"/><rect x="357" y="133" width="4" height="4" fill="#40f0e8"/><rect x="361" y="133" width="4" height="4" fill="#40f0d8"/><rect x="365" y="133" width="4" height="4" fill="#40f0bc"/><rect x="369" y="133" width="4" height="4" fill="#40f098"/><rect x="373" y="133" width="4" height="4" fill="#40f08c"/><rect x="377" y="133" width="4" height="4" fill="#40f078"/><rect x="381" y="133" width="4" height="4" fill="#40f0a4"/><rect x="385" y="133" width="4" height="4" fill="#40f0d4"/><rect x="389" y="133" width="4" height="4" fill="#40ece8"/><rect x="393" y="133" width="4" height="4" fill="#40ecf0"/><rect x="397" y="133" width="4" height="4" fill="#40ecf8"/><rect x="401" y="133" width="4" height="4" fill="#40e8f8"/><rect x="405" y="133" width="4" height="4" fill="#40e0f8"/><rect x="409" y="133" width="4" height="4" fill="#3cdcf8"/><rect x="413" y="133" width="4" height="4" fill="#3cd8f8"/><rect x="417" y="133" width="4" height="4" fill="#38d0f8"/><rect x="421" y="133" width="4" height="4" fill="#3cd4f8"/><rect x="425" y="133" width="4" height="4" fill="#3cd8f8"/><rect x="429" y="133" width="4" height="4" fill="#3ce0f8"/><rect x="433" y="133" width="4" height="4" fill="#40e4f8"/><rect x="437" y="133" width="4" height="4" fill="#40ecf8"/><rect x="441" y="133" width="4" height="4" fill="#40ecf0"/><rect x="445" y="133" width="4" height="4" fill="#40f0e0"/><rect x="449" y="133" width="4" height="4" fill="#40f0d4"/><rect x="453" y="133" width="4" height="4" fill="#40f0b0"/><rect x="457" y="133" width="4" height="4" fill="#40f080"/><rect x="461" y="133" width="4" height="4" fill="#44f040"/><rect x="465" y="133" width="4" height="4" fill="#68f040"/><rect x="469" y="133" width="12" height="4" fill="#8cf040"/><rect x="481" y="133" width="4" height="4" fill="#94f040"/><rect x="485" y="133" width="4" height="4" fill="#a0f040"/><rect x="489" y="133" width="4" height="4" fill="#a8f040"/><rect x="493" y="133" width="4" height="4" fill="#b0f040"/><rect x="497" y="133" width="4" height="4" fill="#b8f040"/><rect x="501" y="133" width="8" height="4" fill="#bcf040"/><rect x="509" y="133" width="4" height="4" fill="#c0f040"/><rect x="513" y="133" width="4" height="4" fill="#c8f040"/><rect x="517" y="133" width="44" height="4" fill="#d0f040"/><rect x="109" y="137" width="40" height="4" fill="#d0f040"/><rect x="149" y="137" width="4" height="4" fill="#ccf040"/><rect x="153" y="137" width="4" height="4" fill="#c0f040"/><rect x="157" y="137" width="4" height="4" fill="#b0f040"/><rect x="161" y="137" width="4" height="4" fill="#acf040"/><rect x="165" y="137" width="4" height="4" fill="#a8f040"/><rect x="169" y="137" width="4" height="4" fill="#a4f040"/><rect x="173" y="137" width="4" height="4" fill="#90f040"/><rect x="177" y="137" width="4" height="4" fill="#78f040"/><rect x="181" y="137" width="20" height="4" fill="#70f040"/><rect x="201" y="137" width="4" height="4" fill="#48f040"/><rect x="205" y="137" width="4" height="4" fill="#40f098"/><rect x="209" y="137" width="4" height="4" fill="#40f0d4"/><rect x="213" y="137" width="4" height="4" fill="#40f0e4"/><rect x="217" y="137" width="4" height="4" fill="#40ecf0"/><rect x="221" y="137" width="4" height="4" fill="#40ecec"/><rect x="225" y="137" width="4" height="4" fill="#40f0e4"/><rect x="229" y="137" width="4" height="4" fill="#40f0d4"/><rect x="233" y="137" width="4" height="4" fill="#40f0a8"/><rect x="237" y="137" width="4" height="4" fill="#40f068"/><rect x="241" y="137" width="4" height="4" fill="#44f040"/><rect x="245" y="137" width="4" height="4" fill="#50f040"/><rect x="249" y="137" width="12" height="4" fill="#60f040"/><rect x="261" y="137" width="4" height="4" fill="#78f040"/><rect x="265" y="137" width="4" height="4" fill="#90f040"/><rect x="269" y="137" width="20" height="4" fill="#a0f040"/><rect x="289" y="137" width="4" height="4" fill="#9cf040"/><rect x="293" y="137" width="4" height="4" fill="#88f040"/><rect x="297" y="137" width="4" height="4" fill="#74f040"/><rect x="301" y="137" width="4" height="4" fill="#50f040"/><rect x="305" y="137" width="4" height="4" fill="#40f078"/><rect x="309" y="137" width="4" height="4" fill="#40f0b8"/><rect x="313" y="137" width="4" height="4" fill="#40f0dc"/><rect x="317" y="137" width="4" height="4" fill="#40ecf0"/><rect x="321" y="137" width="8" height="4" fill="#40ecf8"/><rect x="329" y="137" width="4" height="4" fill="#40ecf4"/><rect x="333" y="137" width="4" height="4" fill="#40ece8"/><rect x="337" y="137" width="4" height="4" fill="#40f0e0"/><rect x="341" y="137" width="4" height="4" fill="#40f0d4"/><rect x="345" y="137" width="4" height="4" fill="#40f0bc"/><rect x="349" y="137" width="4" height="4" fill="#40f0b0"/><rect x="353" y="137" width="4" height="4" fill="#40f0c8"/><rect x="357" y="137" width="4" height="4" fill="#40f0d8"/><rect x="361" y="137" width="4" height="4" fill="#40f0b0"/><rect x="365" y="137" width="4" height="4" fill="#40f054"/><rect x="369" y="137" width="4" height="4" fill="#58f040"/><rect x="373" y="137" width="8" height="4" fill="#5cf040"/><rect x="381" y="137" width="4" height="4" fill="#44f040"/><rect x="385" y="137" width="4" height="4" fill="#40f088"/><rect x="389" y="137" width="4" height="4" fill="#40f0b8"/><rect x="393" y="137" width="4" height="4" fill="#40f0d0"/><rect x="397" y="137" width="4" height="4" fill="#40f0dc"/><rect x="401" y="137" width="4" height="4" fill="#40f0e8"/><rect x="405" y="137" width="4" height="4" fill="#40ecf4"/><rect x="409" y="137" width="4" height="4" fill="#40e8f8"/><rect x="413" y="137" width="4" height="4" fill="#3cdcf8"/><rect x="417" y="137" width="16" height="4" fill="#38d0f8"/><rect x="433" y="137" width="8" height="4" fill="#3cd4f8"/><rect x="441" y="137" width="4" height="4" fill="#3ce0f8"/><rect x="445" y="137" width="4" height="4" fill="#40e8f8"/><rect x="449" y="137" width="4" height="4" fill="#40ecf0"/><rect x="453" y="137" width="4" height="4" fill="#40f0e0"/><rect x="457" y="137" width="4" height="4" fill="#40f0d0"/><rect x="461" y="137" width="4" height="4" fill="#40f094"/><rect x="465" y="137" width="4" height="4" fill="#4cf040"/><rect x="469" y="137" width="12" height="4" fill="#74f040"/><rect x="481" y="137" width="4" height="4" fill="#84f040"/><rect x="485" y="137" width="4" height="4" fill="#98f040"/><rect x="489" y="137" width="8" height="4" fill="#a8f040"/><rect x="497" y="137" width="12" height="4" fill="#acf040"/><rect x="509" y="137" width="4" height="4" fill="#b0f040"/><rect x="513" y="137" width="4" height="4" fill="#c0f040"/><rect x="517" y="137" width="4" height="4" fill="#ccf040"/><rect x="521" y="137" width="40" height="4" fill="#d0f040"/><rect x="101" y="141" width="4" height="4" fill="#f8f040"/><rect x="105" y="141" width="4" height="4" fill="#f0f040"/><rect x="109" y="141" width="4" height="4" fill="#e0f040"/><rect x="113" y="141" width="4" height="4" fill="#d8f040"/><rect x="117" y="141" width="32" height="4" fill="#d0f040"/><rect x="149" y="141" width="4" height="4" fill="#ccf040"/><rect x="153" y="141" width="4" height="4" fill="#bcf040"/><rect x="157" y="141" width="4" height="4" fill="#acf040"/><rect x="161" y="141" width="8" height="4" fill="#a8f040"/><rect x="169" y="141" width="4" height="4" fill="#a4f040"/><rect x="173" y="141" width="4" height="4" fill="#94f040"/><rect x="177" y="141" width="4" height="4" fill="#84f040"/><rect x="181" y="141" width="4" height="4" fill="#78f040"/><rect x="185" y="141" width="4" height="4" fill="#74f040"/><rect x="189" y="141" width="4" height="4" fill="#6cf040"/><rect x="193" y="141" width="4" height="4" fill="#68f040"/><rect x="197" y="141" width="4" height="4" fill="#60f040"/><rect x="201" y="141" width="4" height="4" fill="#40f040"/><rect x="205" y="141" width="4" height="4" fill="#40f09c"/><rect x="209" y="141" width="4" height="4" fill="#40f0cc"/><rect x="213" y="141" width="4" height="4" fill="#40f0c8"/><rect x="217" y="141" width="4" height="4" fill="#40f0c0"/><rect x="221" y="141" width="4" height="4" fill="#40f0b0"/><rect x="225" y="141" width="4" height="4" fill="#40f0a0"/><rect x="229" y="141" width="4" height="4" fill="#40f084"/><rect x="233" y="141" width="4" height="4" fill="#40f048"/><rect x="237" y="141" width="4" height="4" fill="#54f040"/><rect x="241" y="141" width="4" height="4" fill="#64f040"/><rect x="245" y="141" width="4" height="4" fill="#74f040"/><rect x="249" y="141" width="12" height="4" fill="#80f040"/><rect x="261" y="141" width="4" height="4" fill="#8cf040"/><rect x="265" y="141" width="4" height="4" fill="#9cf040"/><rect x="269" y="141" width="4" height="4" fill="#a8f040"/><rect x="273" y="141" width="4" height="4" fill="#b0f040"/><rect x="277" y="141" width="4" height="4" fill="#b4f040"/><rect x="281" y="141" width="4" height="4" fill="#b0f040"/><rect x="285" y="141" width="4" height="4" fill="#acf040"/><rect x="289" y="141" width="4" height="4" fill="#a0f040"/><rect x="293" y="141" width="4" height="4" fill="#8cf040"/><rect x="297" y="141" width="4" height="4" fill="#74f040"/><rect x="301" y="141" width="4" height="4" fill="#58f040"/><rect x="305" y="141" width="4" height="4" fill="#40f040"/><rect x="309" y="141" width="4" height="4" fill="#40f07c"/><rect x="313" y="141" width="4" height="4" fill="#40f0b8"/><rect x="317" y="141" width="4" height="4" fill="#40f0e0"/><rect x="321" y="141" width="8" height="4" fill="#40f0e4"/><rect x="329" y="141" width="4" height="4" fill="#40f0e0"/><rect x="333" y="141" width="4" height="4" fill="#40f0d0"/><rect x="337" y="141" width="4" height="4" fill="#40f0ac"/><rect x="341" y="141" width="4" height="4" fill="#40f098"/><rect x="345" y="141" width="4" height="4" fill="#40f080"/><rect x="349" y="141" width="4" height="4" fill="#40f070"/><rect x="353" y="141" width="4" height="4" fill="#40f08c"/><rect x="357" y="141" width="4" height="4" fill="#40f0a0"/><rect x="361" y="141" width="4" height="4" fill="#40f070"/><rect x="365" y="141" width="4" height="4" fill="#50f040"/><rect x="369" y="141" width="12" height="4" fill="#70f040"/><rect x="381" y="141" width="4" height="4" fill="#5cf040"/><rect x="385" y="141" width="4" height="4" fill="#48f040"/><rect x="389" y="141" width="4" height="4" fill="#40f050"/><rect x="393" y="141" width="4" height="4" fill="#40f070"/><rect x="397" y="141" width="4" height="4" fill="#40f088"/><rect x="401" y="141" width="4" height="4" fill="#40f0a0"/><rect x="405" y="141" width="4" height="4" fill="#40f0b0"/><rect x="409" y="141" width="4" height="4" fill="#40f0c8"/><rect x="413" y="141" width="4" height="4" fill="#40f0d8"/><rect x="417" y="141" width="4" height="4" fill="#40f0e4"/><rect x="421" y="141" width="8" height="4" fill="#40f0e8"/><rect x="429" y="141" width="4" height="4" fill="#40ece8"/><rect x="433" y="141" width="4" height="4" fill="#40ecf0"/><rect x="437" y="141" width="4" height="4" fill="#40ecf8"/><rect x="441" y="141" width="4" height="4" fill="#40ecf4"/><rect x="445" y="141" width="4" height="4" fill="#40ecec"/><rect x="449" y="141" width="4" height="4" fill="#40f0e4"/><rect x="453" y="141" width="4" height="4" fill="#40f0d8"/><rect x="457" y="141" width="4" height="4" fill="#40f0d0"/><rect x="461" y="141" width="4" height="4" fill="#40f098"/><rect x="465" y="141" width="4" height="4" fill="#48f040"/><rect x="469" y="141" width="12" height="4" fill="#70f040"/><rect x="481" y="141" width="4" height="4" fill="#80f040"/><rect x="485" y="141" width="4" height="4" fill="#98f040"/><rect x="489" y="141" width="20" height="4" fill="#a8f040"/><rect x="509" y="141" width="4" height="4" fill="#acf040"/><rect x="513" y="141" width="4" height="4" fill="#b8f040"/><rect x="517" y="141" width="4" height="4" fill="#c0f040"/><rect x="521" y="141" width="12" height="4" fill="#c4f040"/><rect x="533" y="141" width="4" height="4" fill="#c8f040"/><rect x="537" y="141" width="16" height="4" fill="#d0f040"/><rect x="97" y="145" width="8" height="4" fill="#f8ec40"/><rect x="105" y="145" width="8" height="4" fill="#f8f040"/><rect x="113" y="145" width="4" height="4" fill="#e4f040"/><rect x="117" y="145" width="4" height="4" fill="#d4f040"/><rect x="121" y="145" width="28" height="4" fill="#d0f040"/><rect x="149" y="145" width="4" height="4" fill="#ccf040"/><rect x="153" y="145" width="4" height="4" fill="#bcf040"/><rect x="157" y="145" width="4" height="4" fill="#acf040"/><rect x="161" y="145" width="12" height="4" fill="#a8f040"/><rect x="173" y="145" width="4" height="4" fill="#a0f040"/><rect x="177" y="145" width="4" height="4" fill="#98f040"/><rect x="181" y="145" width="4" height="4" fill="#8cf040"/><rect x="185" y="145" width="4" height="4" fill="#78f040"/><rect x="189" y="145" width="4" height="4" fill="#68f040"/><rect x="193" y="145" width="4" height="4" fill="#5cf040"/><rect x="197" y="145" width="4" height="4" fill="#50f040"/><rect x="201" y="145" width="4" height="4" fill="#40f050"/><rect x="205" y="145" width="4" height="4" fill="#40f090"/><rect x="209" y="145" width="4" height="4" fill="#40f0a4"/><rect x="213" y="145" width="4" height="4" fill="#40f068"/><rect x="217" y="145" width="4" height="4" fill="#50f040"/><rect x="221" y="145" width="4" height="4" fill="#58f040"/><rect x="225" y="145" width="4" height="4" fill="#60f040"/><rect x="229" y="145" width="4" height="4" fill="#68f040"/><rect x="233" y="145" width="4" height="4" fill="#74f040"/><rect x="237" y="145" width="4" height="4" fill="#80f040"/><rect x="241" y="145" width="4" height="4" fill="#8cf040"/><rect x="245" y="145" width="4" height="4" fill="#90f040"/><rect x="249" y="145" width="12" height="4" fill="#98f040"/><rect x="261" y="145" width="4" height="4" fill="#9cf040"/><rect x="265" y="145" width="4" height="4" fill="#a4f040"/><rect x="269" y="145" width="4" height="4" fill="#acf040"/><rect x="273" y="145" width="4" height="4" fill="#b8f040"/><rect x="277" y="145" width="4" height="4" fill="#c0f040"/><rect x="281" y="145" width="4" height="4" fill="#bcf040"/><rect x="285" y="145" width="4" height="4" fill="#b0f040"/><rect x="289" y="145" width="4" height="4" fill="#a0f040"/><rect x="293" y="145" width="4" height="4" fill="#8cf040"/><rect x="297" y="145" width="4" height="4" fill="#74f040"/><rect x="301" y="145" width="4" height="4" fill="#64f040"/><rect x="305" y="145" width="4" height="4" fill="#58f040"/><rect x="309" y="145" width="4" height="4" fill="#48f040"/><rect x="313" y="145" width="4" height="4" fill="#40f07c"/><rect x="317" y="145" width="4" height="4" fill="#40f0b8"/><rect x="321" y="145" width="8" height="4" fill="#40f0c8"/><rect x="329" y="145" width="4" height="4" fill="#40f0b8"/><rect x="333" y="145" width="4" height="4" fill="#40f08c"/><rect x="337" y="145" width="4" height="4" fill="#40f048"/><rect x="341" y="145" width="4" height="4" fill="#48f040"/><rect x="345" y="145" width="4" height="4" fill="#4cf040"/><rect x="349" y="145" width="4" height="4" fill="#50f040"/><rect x="353" y="145" width="4" height="4" fill="#4cf040"/><rect x="357" y="145" width="4" height="4" fill="#48f040"/><rect x="361" y="145" width="4" height="4" fill="#50f040"/><rect x="365" y="145" width="4" height="4" fill="#60f040"/><rect x="369" y="145" width="24" height="4" fill="#70f040"/><rect x="393" y="145" width="4" height="4" fill="#6cf040"/><rect x="397" y="145" width="4" height="4" fill="#64f040"/><rect x="401" y="145" width="4" height="4" fill="#60f040"/><rect x="405" y="145" width="4" height="4" fill="#58f040"/><rect x="409" y="145" width="4" height="4" fill="#50f040"/><rect x="413" y="145" width="4" height="4" fill="#40f040"/><rect x="417" y="145" width="4" height="4" fill="#40f068"/><rect x="421" y="145" width="8" height="4" fill="#40f074"/><rect x="429" y="145" width="4" height="4" fill="#40f080"/><rect x="433" y="145" width="4" height="4" fill="#40f0ac"/><rect x="437" y="145" width="8" height="4" fill="#40f0d0"/><rect x="445" y="145" width="4" height="4" fill="#40f0cc"/><rect x="449" y="145" width="4" height="4" fill="#40f0c4"/><rect x="453" y="145" width="4" height="4" fill="#40f0bc"/><rect x="457" y="145" width="4" height="4" fill="#40f0b4"/><rect x="461" y="145" width="4" height="4" fill="#40f080"/><rect x="465" y="145" width="4" height="4" fill="#4cf040"/><rect x="469" y="145" width="12" height="4" fill="#70f040"/><rect x="481" y="145" width="4" height="4" fill="#80f040"/><rect x="485" y="145" width="4" height="4" fill="#98f040"/><rect x="489" y="145" width="24" height="4" fill="#a8f040"/><rect x="513" y="145" width="4" height="4" fill="#b0f040"/><rect x="517" y="145" width="12" height="4" fill="#b4f040"/><rect x="529" y="145" width="4" height="4" fill="#b8f040"/><rect x="533" y="145" width="4" height="4" fill="#c0f040"/><rect x="537" y="145" width="4" height="4" fill="#ccf040"/><rect x="541" y="145" width="8" height="4" fill="#d0f040"/><rect x="89" y="149" width="4" height="4" fill="#d4f040"/><rect x="93" y="149" width="4" height="4" fill="#ecf040"/><rect x="97" y="149" width="4" height="4" fill="#f8f040"/><rect x="101" y="149" width="8" height="4" fill="#f8ec40"/><rect x="109" y="149" width="4" height="4" fill="#f8f040"/><rect x="113" y="149" width="4" height="4" fill="#ecf040"/><rect x="117" y="149" width="4" height="4" fill="#d4f040"/><rect x="121" y="149" width="16" height="4" fill="#d0f040"/><rect x="137" y="149" width="12" height="4" fill="#ccf040"/><rect x="149" y="149" width="4" height="4" fill="#c8f040"/><rect x="153" y="149" width="4" height="4" fill="#b8f040"/><rect x="157" y="149" width="4" height="4" fill="#acf040"/><rect x="161" y="149" width="4" height="4" fill="#a8f040"/><rect x="165" y="149" width="4" height="4" fill="#a4f040"/><rect x="169" y="149" width="12" height="4" fill="#a0f040"/><rect x="181" y="149" width="4" height="4" fill="#94f040"/><rect x="185" y="149" width="4" height="4" fill="#80f040"/><rect x="189" y="149" width="4" height="4" fill="#68f040"/><rect x="193" y="149" width="4" height="4" fill="#58f040"/><rect x="197" y="149" width="4" height="4" fill="#48f040"/><rect x="201" y="149" width="4" height="4" fill="#40f050"/><rect x="205" y="149" width="4" height="4" fill="#40f070"/><rect x="209" y="149" width="4" height="4" fill="#40f06c"/><rect x="213" y="149" width="4" height="4" fill="#5cf040"/><rect x="217" y="149" width="4" height="4" fill="#9cf040"/><rect x="221" y="149" width="4" height="4" fill="#acf040"/><rect x="225" y="149" width="20" height="4" fill="#b0f040"/><rect x="245" y="149" width="24" height="4" fill="#acf040"/><rect x="269" y="149" width="4" height="4" fill="#b0f040"/><rect x="273" y="149" width="4" height="4" fill="#bcf040"/><rect x="277" y="149" width="4" height="4" fill="#c8f040"/><rect x="281" y="149" width="4" height="4" fill="#c0f040"/><rect x="285" y="149" width="4" height="4" fill="#b4f040"/><rect x="289" y="149" width="4" height="4" fill="#a4f040"/><rect x="293" y="149" width="4" height="4" fill="#90f040"/><rect x="297" y="149" width="4" height="4" fill="#78f040"/><rect x="301" y="149" width="8" height="4" fill="#74f040"/><rect x="309" y="149" width="4" height="4" fill="#68f040"/><rect x="313" y="149" width="4" height="4" fill="#48f040"/><rect x="317" y="149" width="4" height="4" fill="#40f070"/><rect x="321" y="149" width="4" height="4" fill="#40f080"/><rect x="325" y="149" width="4" height="4" fill="#40f084"/><rect x="329" y="149" width="4" height="4" fill="#40f074"/><rect x="333" y="149" width="4" height="4" fill="#48f040"/><rect x="337" y="149" width="4" height="4" fill="#68f040"/><rect x="341" y="149" width="12" height="4" fill="#74f040"/><rect x="353" y="149" width="16" height="4" fill="#70f040"/><rect x="369" y="149" width="4" height="4" fill="#74f040"/><rect x="373" y="149" width="8" height="4" fill="#70f040"/><rect x="381" y="149" width="4" height="4" fill="#80f040"/><rect x="385" y="149" width="4" height="4" fill="#98f040"/><rect x="389" y="149" width="8" height="4" fill="#a8f040"/><rect x="397" y="149" width="8" height="4" fill="#acf040"/><rect x="405" y="149" width="4" height="4" fill="#a8f040"/><rect x="409" y="149" width="4" height="4" fill="#a4f040"/><rect x="413" y="149" width="4" height="4" fill="#90f040"/><rect x="417" y="149" width="4" height="4" fill="#78f040"/><rect x="421" y="149" width="8" height="4" fill="#70f040"/><rect x="429" y="149" width="4" height="4" fill="#64f040"/><rect x="433" y="149" width="4" height="4" fill="#44f040"/><rect x="437" y="149" width="4" height="4" fill="#40f080"/><rect x="441" y="149" width="20" height="4" fill="#40f090"/><rect x="461" y="149" width="4" height="4" fill="#40f058"/><rect x="465" y="149" width="4" height="4" fill="#54f040"/><rect x="469" y="149" width="8" height="4" fill="#70f040"/><rect x="477" y="149" width="4" height="4" fill="#74f040"/><rect x="481" y="149" width="4" height="4" fill="#84f040"/><rect x="485" y="149" width="4" height="4" fill="#98f040"/><rect x="489" y="149" width="8" height="4" fill="#a8f040"/><rect x="497" y="149" width="32" height="4" fill="#acf040"/><rect x="529" y="149" width="4" height="4" fill="#b0f040"/><rect x="533" y="149" width="4" height="4" fill="#bcf040"/><rect x="537" y="149" width="4" height="4" fill="#c8f040"/><rect x="541" y="149" width="8" height="4" fill="#d0f040"/><rect x="549" y="149" width="4" height="4" fill="#dcf040"/><rect x="49" y="153" width="40" height="4" fill="#d0f040"/><rect x="89" y="153" width="4" height="4" fill="#d4f040"/><rect x="93" y="153" width="4" height="4" fill="#e0f040"/><rect x="97" y="153" width="4" height="4" fill="#ecf040"/><rect x="101" y="153" width="8" height="4" fill="#f0f040"/><rect x="109" y="153" width="4" height="4" fill="#ecf040"/><rect x="113" y="153" width="4" height="4" fill="#e0f040"/><rect x="117" y="153" width="4" height="4" fill="#d4f040"/><rect x="121" y="153" width="12" height="4" fill="#d0f040"/><rect x="133" y="153" width="4" height="4" fill="#c8f040"/><rect x="137" y="153" width="4" height="4" fill="#c0f040"/><rect x="141" y="153" width="8" height="4" fill="#bcf040"/><rect x="149" y="153" width="4" height="4" fill="#b8f040"/><rect x="153" y="153" width="4" height="4" fill="#b0f040"/><rect x="157" y="153" width="4" height="4" fill="#a8f040"/><rect x="161" y="153" width="4" height="4" fill="#a0f040"/><rect x="165" y="153" width="4" height="4" fill="#94f040"/><rect x="169" y="153" width="12" height="4" fill="#8cf040"/><rect x="181" y="153" width="4" height="4" fill="#84f040"/><rect x="185" y="153" width="4" height="4" fill="#78f040"/><rect x="189" y="153" width="4" height="4" fill="#6cf040"/><rect x="193" y="153" width="4" height="4" fill="#60f040"/><rect x="197" y="153" width="4" height="4" fill="#58f040"/><rect x="201" y="153" width="8" height="4" fill="#54f040"/><rect x="209" y="153" width="4" height="4" fill="#5cf040"/><rect x="213" y="153" width="4" height="4" fill="#88f040"/><rect x="217" y="153" width="4" height="4" fill="#b0f040"/><rect x="221" y="153" width="4" height="4" fill="#c0f040"/><rect x="225" y="153" width="4" height="4" fill="#c8f040"/><rect x="229" y="153" width="12" height="4" fill="#d0f040"/><rect x="241" y="153" width="4" height="4" fill="#c8f040"/><rect x="245" y="153" width="4" height="4" fill="#c0f040"/><rect x="249" y="153" width="32" height="4" fill="#bcf040"/><rect x="281" y="153" width="4" height="4" fill="#b8f040"/><rect x="285" y="153" width="4" height="4" fill="#b0f040"/><rect x="289" y="153" width="4" height="4" fill="#a4f040"/><rect x="293" y="153" width="4" height="4" fill="#98f040"/><rect x="297" y="153" width="4" height="4" fill="#90f040"/><rect x="301" y="153" width="8" height="4" fill="#8cf040"/><rect x="309" y="153" width="4" height="4" fill="#88f040"/><rect x="313" y="153" width="4" height="4" fill="#78f040"/><rect x="317" y="153" width="4" height="4" fill="#6cf040"/><rect x="321" y="153" width="4" height="4" fill="#60f040"/><rect x="325" y="153" width="8" height="4" fill="#58f040"/><rect x="333" y="153" width="4" height="4" fill="#70f040"/><rect x="337" y="153" width="4" height="4" fill="#84f040"/><rect x="341" y="153" width="8" height="4" fill="#8cf040"/><rect x="349" y="153" width="4" height="4" fill="#88f040"/><rect x="353" y="153" width="4" height="4" fill="#7cf040"/><rect x="357" y="153" width="4" height="4" fill="#70f040"/><rect x="361" y="153" width="4" height="4" fill="#78f040"/><rect x="365" y="153" width="4" height="4" fill="#84f040"/><rect x="369" y="153" width="4" height="4" fill="#88f040"/><rect x="373" y="153" width="4" height="4" fill="#7cf040"/><rect x="377" y="153" width="4" height="4" fill="#70f040"/><rect x="381" y="153" width="4" height="4" fill="#80f040"/><rect x="385" y="153" width="4" height="4" fill="#98f040"/><rect x="389" y="153" width="4" height="4" fill="#a8f040"/><rect x="393" y="153" width="4" height="4" fill="#b0f040"/><rect x="397" y="153" width="8" height="4" fill="#b8f040"/><rect x="405" y="153" width="4" height="4" fill="#b0f040"/><rect x="409" y="153" width="4" height="4" fill="#a4f040"/><rect x="413" y="153" width="4" height="4" fill="#98f040"/><rect x="417" y="153" width="4" height="4" fill="#90f040"/><rect x="421" y="153" width="4" height="4" fill="#84f040"/><rect x="425" y="153" width="4" height="4" fill="#78f040"/><rect x="429" y="153" width="4" height="4" fill="#68f040"/><rect x="433" y="153" width="4" height="4" fill="#54f040"/><rect x="437" y="153" width="4" height="4" fill="#44f040"/><rect x="441" y="153" width="20" height="4" fill="#40f040"/><rect x="461" y="153" width="4" height="4" fill="#4cf040"/><rect x="465" y="153" width="4" height="4" fill="#60f040"/><rect x="469" y="153" width="4" height="4" fill="#70f040"/><rect x="473" y="153" width="4" height="4" fill="#7cf040"/><rect x="477" y="153" width="4" height="4" fill="#88f040"/><rect x="481" y="153" width="4" height="4" fill="#94f040"/><rect x="485" y="153" width="4" height="4" fill="#a0f040"/><rect x="489" y="153" width="4" height="4" fill="#a8f040"/><rect x="493" y="153" width="4" height="4" fill="#b0f040"/><rect x="497" y="153" width="4" height="4" fill="#b8f040"/><rect x="501" y="153" width="40" height="4" fill="#bcf040"/><rect x="541" y="153" width="4" height="4" fill="#c8f040"/><rect x="545" y="153" width="4" height="4" fill="#dcf040"/><rect x="549" y="153" width="4" height="4" fill="#f0f040"/><rect x="553" y="153" width="4" height="4" fill="#f8f040"/><rect x="49" y="157" width="44" height="4" fill="#d0f040"/><rect x="93" y="157" width="8" height="4" fill="#d4f040"/><rect x="101" y="157" width="8" height="4" fill="#d8f040"/><rect x="109" y="157" width="8" height="4" fill="#d4f040"/><rect x="117" y="157" width="12" height="4" fill="#d0f040"/><rect x="129" y="157" width="4" height="4" fill="#ccf040"/><rect x="133" y="157" width="4" height="4" fill="#c0f040"/><rect x="137" y="157" width="4" height="4" fill="#b0f040"/><rect x="141" y="157" width="12" height="4" fill="#acf040"/><rect x="153" y="157" width="8" height="4" fill="#a8f040"/><rect x="161" y="157" width="4" height="4" fill="#98f040"/><rect x="165" y="157" width="4" height="4" fill="#84f040"/><rect x="169" y="157" width="12" height="4" fill="#74f040"/><rect x="181" y="157" width="12" height="4" fill="#70f040"/><rect x="193" y="157" width="4" height="4" fill="#6cf040"/><rect x="197" y="157" width="4" height="4" fill="#68f040"/><rect x="201" y="157" width="4" height="4" fill="#78f040"/><rect x="205" y="157" width="4" height="4" fill="#88f040"/><rect x="209" y="157" width="4" height="4" fill="#9cf040"/><rect x="213" y="157" width="4" height="4" fill="#b0f040"/><rect x="217" y="157" width="4" height="4" fill="#c8f040"/><rect x="221" y="157" width="4" height="4" fill="#d8f040"/><rect x="225" y="157" width="4" height="4" fill="#f0f040"/><rect x="229" y="157" width="12" height="4" fill="#f8f040"/><rect x="241" y="157" width="4" height="4" fill="#f0f040"/><rect x="245" y="157" width="4" height="4" fill="#d8f040"/><rect x="249" y="157" width="20" height="4" fill="#ccf040"/><rect x="269" y="157" width="4" height="4" fill="#c8f040"/><rect x="273" y="157" width="4" height="4" fill="#bcf040"/><rect x="277" y="157" width="4" height="4" fill="#b0f040"/><rect x="281" y="157" width="4" height="4" fill="#acf040"/><rect x="285" y="157" width="8" height="4" fill="#a8f040"/><rect x="293" y="157" width="8" height="4" fill="#a4f040"/><rect x="301" y="157" width="8" height="4" fill="#a0f040"/><rect x="309" y="157" width="4" height="4" fill="#a4f040"/><rect x="313" y="157" width="4" height="4" fill="#b0f040"/><rect x="317" y="157" width="4" height="4" fill="#b8f040"/><rect x="321" y="157" width="4" height="4" fill="#b0f040"/><rect x="325" y="157" width="4" height="4" fill="#a0f040"/><rect x="329" y="157" width="4" height="4" fill="#98f040"/><rect x="333" y="157" width="4" height="4" fill="#9cf040"/><rect x="337" y="157" width="12" height="4" fill="#a0f040"/><rect x="349" y="157" width="4" height="4" fill="#9cf040"/><rect x="353" y="157" width="4" height="4" fill="#88f040"/><rect x="357" y="157" width="4" height="4" fill="#74f040"/><rect x="361" y="157" width="4" height="4" fill="#80f040"/><rect x="365" y="157" width="4" height="4" fill="#94f040"/><rect x="369" y="157" width="4" height="4" fill="#9cf040"/><rect x="373" y="157" width="4" height="4" fill="#88f040"/><rect x="377" y="157" width="4" height="4" fill="#74f040"/><rect x="381" y="157" width="4" height="4" fill="#80f040"/><rect x="385" y="157" width="4" height="4" fill="#98f040"/><rect x="389" y="157" width="4" height="4" fill="#acf040"/><rect x="393" y="157" width="4" height="4" fill="#b8f040"/><rect x="397" y="157" width="4" height="4" fill="#c8f040"/><rect x="401" y="157" width="4" height="4" fill="#c0f040"/><rect x="405" y="157" width="4" height="4" fill="#b4f040"/><rect x="409" y="157" width="4" height="4" fill="#a8f040"/><rect x="413" y="157" width="8" height="4" fill="#a4f040"/><rect x="421" y="157" width="4" height="4" fill="#94f040"/><rect x="425" y="157" width="4" height="4" fill="#80f040"/><rect x="429" y="157" width="4" height="4" fill="#6cf040"/><rect x="433" y="157" width="4" height="4" fill="#68f040"/><rect x="437" y="157" width="24" height="4" fill="#64f040"/><rect x="461" y="157" width="4" height="4" fill="#68f040"/><rect x="465" y="157" width="4" height="4" fill="#6cf040"/><rect x="469" y="157" width="4" height="4" fill="#74f040"/><rect x="473" y="157" width="4" height="4" fill="#88f040"/><rect x="477" y="157" width="4" height="4" fill="#9cf040"/><rect x="481" y="157" width="4" height="4" fill="#a4f040"/><rect x="485" y="157" width="4" height="4" fill="#a8f040"/><rect x="489" y="157" width="4" height="4" fill="#acf040"/><rect x="493" y="157" width="4" height="4" fill="#b8f040"/><rect x="497" y="157" width="4" height="4" fill="#c8f040"/><rect x="501" y="157" width="28" height="4" fill="#ccf040"/><rect x="529" y="157" width="4" height="4" fill="#c8f040"/><rect x="533" y="157" width="4" height="4" fill="#bcf040"/><rect x="537" y="157" width="4" height="4" fill="#b0f040"/><rect x="541" y="157" width="4" height="4" fill="#c0f040"/><rect x="545" y="157" width="4" height="4" fill="#e8f040"/><rect x="549" y="157" width="44" height="4" fill="#f8ec40"/><rect x="49" y="161" width="80" height="4" fill="#d0f040"/><rect x="129" y="161" width="4" height="4" fill="#ccf040"/><rect x="133" y="161" width="4" height="4" fill="#c0f040"/><rect x="137" y="161" width="4" height="4" fill="#b8f040"/><rect x="141" y="161" width="12" height="4" fill="#b4f040"/><rect x="153" y="161" width="4" height="4" fill="#b0f040"/><rect x="157" y="161" width="4" height="4" fill="#a8f040"/><rect x="161" y="161" width="4" height="4" fill="#9cf040"/><rect x="165" y="161" width="4" height="4" fill="#8cf040"/><rect x="169" y="161" width="24" height="4" fill="#80f040"/><rect x="193" y="161" width="4" height="4" fill="#88f040"/><rect x="197" y="161" width="4" height="4" fill="#8cf040"/><rect x="201" y="161" width="4" height="4" fill="#9cf040"/><rect x="205" y="161" width="4" height="4" fill="#b0f040"/><rect x="209" y="161" width="4" height="4" fill="#c4f040"/><rect x="213" y="161" width="4" height="4" fill="#d0f040"/><rect x="217" y="161" width="4" height="4" fill="#e0f040"/><rect x="221" y="161" width="4" height="4" fill="#f4f040"/><rect x="225" y="161" width="4" height="4" fill="#f8ec40"/><rect x="229" y="161" width="4" height="4" fill="#f8e83c"/><rect x="233" y="161" width="4" height="4" fill="#f8e840"/><rect x="237" y="161" width="4" height="4" fill="#f8ec40"/><rect x="241" y="161" width="4" height="4" fill="#f8f040"/><rect x="245" y="161" width="4" height="4" fill="#f0f040"/><rect x="249" y="161" width="12" height="4" fill="#e0f040"/><rect x="261" y="161" width="4" height="4" fill="#dcf040"/><rect x="265" y="161" width="4" height="4" fill="#d4f040"/><rect x="269" y="161" width="4" height="4" fill="#ccf040"/><rect x="273" y="161" width="4" height="4" fill="#c0f040"/><rect x="277" y="161" width="4" height="4" fill="#b8f040"/><rect x="281" y="161" width="12" height="4" fill="#b4f040"/><rect x="293" y="161" width="4" height="4" fill="#b8f040"/><rect x="297" y="161" width="12" height="4" fill="#c0f040"/><rect x="309" y="161" width="4" height="4" fill="#c4f040"/><rect x="313" y="161" width="4" height="4" fill="#d0f040"/><rect x="317" y="161" width="4" height="4" fill="#e0f040"/><rect x="321" y="161" width="4" height="4" fill="#d0f040"/><rect x="325" y="161" width="4" height="4" fill="#c0f040"/><rect x="329" y="161" width="20" height="4" fill="#b4f040"/><rect x="349" y="161" width="4" height="4" fill="#b0f040"/><rect x="353" y="161" width="4" height="4" fill="#98f040"/><rect x="357" y="161" width="4" height="4" fill="#84f040"/><rect x="361" y="161" width="4" height="4" fill="#8cf040"/><rect x="365" y="161" width="4" height="4" fill="#9cf040"/><rect x="369" y="161" width="4" height="4" fill="#a0f040"/><rect x="373" y="161" width="4" height="4" fill="#8cf040"/><rect x="377" y="161" width="4" height="4" fill="#74f040"/><rect x="381" y="161" width="4" height="4" fill="#78f040"/><rect x="385" y="161" width="4" height="4" fill="#8cf040"/><rect x="389" y="161" width="4" height="4" fill="#9cf040"/><rect x="393" y="161" width="4" height="4" fill="#b4f040"/><rect x="397" y="161" width="4" height="4" fill="#c8f040"/><rect x="401" y="161" width="4" height="4" fill="#ccf040"/><rect x="405" y="161" width="4" height="4" fill="#c4f040"/><rect x="409" y="161" width="12" height="4" fill="#c0f040"/><rect x="421" y="161" width="4" height="4" fill="#b0f040"/><rect x="425" y="161" width="4" height="4" fill="#9cf040"/><rect x="429" y="161" width="12" height="4" fill="#8cf040"/><rect x="441" y="161" width="4" height="4" fill="#88f040"/><rect x="445" y="161" width="4" height="4" fill="#84f040"/><rect x="449" y="161" width="12" height="4" fill="#80f040"/><rect x="461" y="161" width="4" height="4" fill="#84f040"/><rect x="465" y="161" width="4" height="4" fill="#88f040"/><rect x="469" y="161" width="4" height="4" fill="#90f040"/><rect x="473" y="161" width="4" height="4" fill="#a0f040"/><rect x="477" y="161" width="4" height="4" fill="#b0f040"/><rect x="481" y="161" width="4" height="4" fill="#b8f040"/><rect x="485" y="161" width="4" height="4" fill="#bcf040"/><rect x="489" y="161" width="4" height="4" fill="#c4f040"/><rect x="493" y="161" width="4" height="4" fill="#d0f040"/><rect x="497" y="161" width="32" height="4" fill="#e0f040"/><rect x="529" y="161" width="4" height="4" fill="#dcf040"/><rect x="533" y="161" width="4" height="4" fill="#c8f040"/><rect x="537" y="161" width="4" height="4" fill="#b8f040"/><rect x="541" y="161" width="4" height="4" fill="#c8f040"/><rect x="545" y="161" width="4" height="4" fill="#ecf040"/><rect x="549" y="161" width="44" height="4" fill="#f8ec40"/><rect x="49" y="165" width="84" height="4" fill="#d0f040"/><rect x="133" y="165" width="4" height="4" fill="#c8f040"/><rect x="137" y="165" width="12" height="4" fill="#c4f040"/><rect x="149" y="165" width="4" height="4" fill="#c0f040"/><rect x="153" y="165" width="4" height="4" fill="#b8f040"/><rect x="157" y="165" width="4" height="4" fill="#acf040"/><rect x="161" y="165" width="4" height="4" fill="#a4f040"/><rect x="165" y="165" width="4" height="4" fill="#9cf040"/><rect x="169" y="165" width="24" height="4" fill="#98f040"/><rect x="193" y="165" width="4" height="4" fill="#a8f040"/><rect x="197" y="165" width="4" height="4" fill="#b0f040"/><rect x="201" y="165" width="4" height="4" fill="#c0f040"/><rect x="205" y="165" width="4" height="4" fill="#d4f040"/><rect x="209" y="165" width="4" height="4" fill="#e8f040"/><rect x="213" y="165" width="4" height="4" fill="#f0f040"/><rect x="217" y="165" width="4" height="4" fill="#f8f040"/><rect x="221" y="165" width="4" height="4" fill="#f8ec40"/><rect x="225" y="165" width="4" height="4" fill="#f8e83c"/><rect x="229" y="165" width="4" height="4" fill="#fce43c"/><rect x="233" y="165" width="4" height="4" fill="#f8e83c"/><rect x="237" y="165" width="8" height="4" fill="#f8ec40"/><rect x="245" y="165" width="16" height="4" fill="#f8f040"/><rect x="261" y="165" width="4" height="4" fill="#ecf040"/><rect x="265" y="165" width="4" height="4" fill="#dcf040"/><rect x="269" y="165" width="4" height="4" fill="#d0f040"/><rect x="273" y="165" width="4" height="4" fill="#c8f040"/><rect x="277" y="165" width="12" height="4" fill="#c4f040"/><rect x="289" y="165" width="4" height="4" fill="#c8f040"/><rect x="293" y="165" width="4" height="4" fill="#d4f040"/><rect x="297" y="165" width="4" height="4" fill="#e4f040"/><rect x="301" y="165" width="12" height="4" fill="#e8f040"/><rect x="313" y="165" width="4" height="4" fill="#f0f040"/><rect x="317" y="165" width="4" height="4" fill="#f8f040"/><rect x="321" y="165" width="4" height="4" fill="#e8f040"/><rect x="325" y="165" width="4" height="4" fill="#d0f040"/><rect x="329" y="165" width="20" height="4" fill="#c4f040"/><rect x="349" y="165" width="4" height="4" fill="#c0f040"/><rect x="353" y="165" width="4" height="4" fill="#b0f040"/><rect x="357" y="165" width="8" height="4" fill="#9cf040"/><rect x="365" y="165" width="4" height="4" fill="#a4f040"/><rect x="369" y="165" width="4" height="4" fill="#a0f040"/><rect x="373" y="165" width="4" height="4" fill="#8cf040"/><rect x="377" y="165" width="8" height="4" fill="#74f040"/><rect x="385" y="165" width="4" height="4" fill="#78f040"/><rect x="389" y="165" width="4" height="4" fill="#88f040"/><rect x="393" y="165" width="4" height="4" fill="#a8f040"/><rect x="397" y="165" width="4" height="4" fill="#c8f040"/><rect x="401" y="165" width="4" height="4" fill="#d8f040"/><rect x="405" y="165" width="4" height="4" fill="#e0f040"/><rect x="409" y="165" width="12" height="4" fill="#e8f040"/><rect x="421" y="165" width="4" height="4" fill="#d4f040"/><rect x="425" y="165" width="4" height="4" fill="#c0f040"/><rect x="429" y="165" width="12" height="4" fill="#b4f040"/><rect x="441" y="165" width="4" height="4" fill="#acf040"/><rect x="445" y="165" width="4" height="4" fill="#a0f040"/><rect x="449" y="165" width="12" height="4" fill="#98f040"/><rect x="461" y="165" width="4" height="4" fill="#a0f040"/><rect x="465" y="165" width="4" height="4" fill="#acf040"/><rect x="469" y="165" width="4" height="4" fill="#b8f040"/><rect x="473" y="165" width="4" height="4" fill="#bcf040"/><rect x="477" y="165" width="4" height="4" fill="#c0f040"/><rect x="481" y="165" width="4" height="4" fill="#ccf040"/><rect x="485" y="165" width="4" height="4" fill="#dcf040"/><rect x="489" y="165" width="4" height="4" fill="#e8f040"/><rect x="493" y="165" width="4" height="4" fill="#f0f040"/><rect x="497" y="165" width="32" height="4" fill="#f8f040"/><rect x="529" y="165" width="4" height="4" fill="#f4f040"/><rect x="533" y="165" width="4" height="4" fill="#dcf040"/><rect x="537" y="165" width="4" height="4" fill="#c8f040"/><rect x="541" y="165" width="4" height="4" fill="#d4f040"/><rect x="545" y="165" width="4" height="4" fill="#f4f040"/><rect x="549" y="165" width="44" height="4" fill="#f8ec40"/><rect x="49" y="169" width="64" height="4" fill="#d0f040"/><rect x="113" y="169" width="8" height="4" fill="#d4f040"/><rect x="121" y="169" width="8" height="4" fill="#d8f040"/><rect x="129" y="169" width="4" height="4" fill="#dcf040"/><rect x="133" y="169" width="16" height="4" fill="#d8f040"/><rect x="149" y="169" width="4" height="4" fill="#d0f040"/><rect x="153" y="169" width="4" height="4" fill="#c0f040"/><rect x="157" y="169" width="4" height="4" fill="#b4f040"/><rect x="161" y="169" width="28" height="4" fill="#b0f040"/><rect x="189" y="169" width="4" height="4" fill="#b4f040"/><rect x="193" y="169" width="4" height="4" fill="#c0f040"/><rect x="197" y="169" width="4" height="4" fill="#d0f040"/><rect x="201" y="169" width="4" height="4" fill="#e8f040"/><rect x="205" y="169" width="4" height="4" fill="#f8f040"/><rect x="209" y="169" width="12" height="4" fill="#f8e840"/><rect x="221" y="169" width="4" height="4" fill="#f8e83c"/><rect x="225" y="169" width="4" height="4" fill="#fce03c"/><rect x="229" y="169" width="4" height="4" fill="#fce038"/><rect x="233" y="169" width="4" height="4" fill="#fce43c"/><rect x="237" y="169" width="16" height="4" fill="#f8e840"/><rect x="253" y="169" width="8" height="4" fill="#f8ec40"/><rect x="261" y="169" width="4" height="4" fill="#f8f040"/><rect x="265" y="169" width="4" height="4" fill="#e8f040"/><rect x="269" y="169" width="20" height="4" fill="#d8f040"/><rect x="289" y="169" width="4" height="4" fill="#dcf040"/><rect x="293" y="169" width="4" height="4" fill="#f4f040"/><rect x="297" y="169" width="4" height="4" fill="#f8ec40"/><rect x="301" y="169" width="20" height="4" fill="#f8e840"/><rect x="321" y="169" width="4" height="4" fill="#f8f040"/><rect x="325" y="169" width="4" height="4" fill="#e8f040"/><rect x="329" y="169" width="20" height="4" fill="#d8f040"/><rect x="349" y="169" width="4" height="4" fill="#d0f040"/><rect x="353" y="169" width="4" height="4" fill="#c0f040"/><rect x="357" y="169" width="4" height="4" fill="#b0f040"/><rect x="361" y="169" width="8" height="4" fill="#acf040"/><rect x="369" y="169" width="4" height="4" fill="#a8f040"/><rect x="373" y="169" width="4" height="4" fill="#90f040"/><rect x="377" y="169" width="4" height="4" fill="#78f040"/><rect x="381" y="169" width="8" height="4" fill="#74f040"/><rect x="389" y="169" width="4" height="4" fill="#80f040"/><rect x="393" y="169" width="4" height="4" fill="#a8f040"/><rect x="397" y="169" width="4" height="4" fill="#ccf040"/><rect x="401" y="169" width="4" height="4" fill="#e8f040"/><rect x="405" y="169" width="4" height="4" fill="#f8f040"/><rect x="409" y="169" width="12" height="4" fill="#f8ec40"/><rect x="421" y="169" width="4" height="4" fill="#f8f040"/><rect x="425" y="169" width="4" height="4" fill="#e8f040"/><rect x="429" y="169" width="12" height="4" fill="#d8f040"/><rect x="441" y="169" width="4" height="4" fill="#c8f040"/><rect x="445" y="169" width="4" height="4" fill="#b8f040"/><rect x="449" y="169" width="4" height="4" fill="#acf040"/><rect x="453" y="169" width="8" height="4" fill="#b0f040"/><rect x="461" y="169" width="4" height="4" fill="#bcf040"/><rect x="465" y="169" width="4" height="4" fill="#ccf040"/><rect x="469" y="169" width="12" height="4" fill="#dcf040"/><rect x="481" y="169" width="4" height="4" fill="#ecf040"/><rect x="485" y="169" width="4" height="4" fill="#f8f040"/><rect x="489" y="169" width="40" height="4" fill="#f8e840"/><rect x="529" y="169" width="4" height="4" fill="#f8ec40"/><rect x="533" y="169" width="4" height="4" fill="#f4f040"/><rect x="537" y="169" width="4" height="4" fill="#dcf040"/><rect x="541" y="169" width="4" height="4" fill="#e8f040"/><rect x="545" y="169" width="4" height="4" fill="#f8f040"/><rect x="549" y="169" width="44" height="4" fill="#f8ec40"/><rect x="49" y="173" width="60" height="4" fill="#d0f040"/><rect x="109" y="173" width="4" height="4" fill="#d4f040"/><rect x="113" y="173" width="4" height="4" fill="#e0f040"/><rect x="117" y="173" width="4" height="4" fill="#ecf040"/><rect x="121" y="173" width="8" height="4" fill="#f8f040"/><rect x="129" y="173" width="4" height="4" fill="#f8ec40"/><rect x="133" y="173" width="4" height="4" fill="#f8f040"/><rect x="137" y="173" width="12" height="4" fill="#f0f040"/><rect x="149" y="173" width="4" height="4" fill="#ecf040"/><rect x="153" y="173" width="4" height="4" fill="#e0f040"/><rect x="157" y="173" width="4" height="4" fill="#d4f040"/><rect x="161" y="173" width="28" height="4" fill="#d0f040"/><rect x="189" y="173" width="4" height="4" fill="#d4f040"/><rect x="193" y="173" width="4" height="4" fill="#e0f040"/><rect x="197" y="173" width="4" height="4" fill="#ecf040"/><rect x="201" y="173" width="4" height="4" fill="#f8f040"/><rect x="205" y="173" width="4" height="4" fill="#f8e840"/><rect x="209" y="173" width="12" height="4" fill="#f8e43c"/><rect x="221" y="173" width="4" height="4" fill="#fce43c"/><rect x="225" y="173" width="4" height="4" fill="#fce03c"/><rect x="229" y="173" width="4" height="4" fill="#fce038"/><rect x="233" y="173" width="4" height="4" fill="#fce03c"/><rect x="237" y="173" width="8" height="4" fill="#fce43c"/><rect x="245" y="173" width="8" height="4" fill="#f8e43c"/><rect x="253" y="173" width="4" height="4" fill="#f8e83c"/><rect x="257" y="173" width="4" height="4" fill="#f8ec40"/><rect x="261" y="173" width="8" height="4" fill="#f8f040"/><rect x="269" y="173" width="20" height="4" fill="#f0f040"/><rect x="289" y="173" width="4" height="4" fill="#f4f040"/><rect x="293" y="173" width="4" height="4" fill="#f8ec40"/><rect x="297" y="173" width="4" height="4" fill="#f8e83c"/><rect x="301" y="173" width="4" height="4" fill="#fce43c"/><rect x="305" y="173" width="16" height="4" fill="#f8e43c"/><rect x="321" y="173" width="4" height="4" fill="#f8e840"/><rect x="325" y="173" width="4" height="4" fill="#f8f040"/><rect x="329" y="173" width="20" height="4" fill="#f0f040"/><rect x="349" y="173" width="4" height="4" fill="#e8f040"/><rect x="353" y="173" width="4" height="4" fill="#d0f040"/><rect x="357" y="173" width="4" height="4" fill="#c0f040"/><rect x="361" y="173" width="8" height="4" fill="#bcf040"/><rect x="369" y="173" width="4" height="4" fill="#b8f040"/><rect x="373" y="173" width="4" height="4" fill="#a4f040"/><rect x="377" y="173" width="4" height="4" fill="#90f040"/><rect x="381" y="173" width="8" height="4" fill="#8cf040"/><rect x="389" y="173" width="4" height="4" fill="#94f040"/><rect x="393" y="173" width="4" height="4" fill="#b8f040"/><rect x="397" y="173" width="4" height="4" fill="#e0f040"/><rect x="401" y="173" width="8" height="4" fill="#f8f040"/><rect x="409" y="173" width="12" height="4" fill="#f8ec40"/><rect x="421" y="173" width="8" height="4" fill="#f8f040"/><rect x="429" y="173" width="12" height="4" fill="#f0f040"/><rect x="441" y="173" width="4" height="4" fill="#dcf040"/><rect x="445" y="173" width="4" height="4" fill="#c8f040"/><rect x="449" y="173" width="4" height="4" fill="#c0f040"/><rect x="453" y="173" width="4" height="4" fill="#c8f040"/><rect x="457" y="173" width="4" height="4" fill="#d0f040"/><rect x="461" y="173" width="4" height="4" fill="#e0f040"/><rect x="465" y="173" width="4" height="4" fill="#f8f040"/><rect x="469" y="173" width="12" height="4" fill="#f8ec40"/><rect x="481" y="173" width="4" height="4" fill="#f8e840"/><rect x="485" y="173" width="4" height="4" fill="#f8e83c"/><rect x="489" y="173" width="40" height="4" fill="#f8e43c"/><rect x="529" y="173" width="4" height="4" fill="#f8e83c"/><rect x="533" y="173" width="4" height="4" fill="#f8ec40"/><rect x="537" y="173" width="4" height="4" fill="#f4f040"/><rect x="541" y="173" width="8" height="4" fill="#f8f040"/><rect x="549" y="173" width="44" height="4" fill="#f8ec40"/><rect x="49" y="177" width="60" height="4" fill="#d0f040"/><rect x="109" y="177" width="4" height="4" fill="#d4f040"/><rect x="113" y="177" width="4" height="4" fill="#ecf040"/><rect x="117" y="177" width="4" height="4" fill="#f8f040"/><rect x="121" y="177" width="4" height="4" fill="#f8e840"/><rect x="125" y="177" width="4" height="4" fill="#fce43c"/><rect x="129" y="177" width="4" height="4" fill="#fce03c"/><rect x="133" y="177" width="4" height="4" fill="#f8e83c"/><rect x="137" y="177" width="16" height="4" fill="#f8ec40"/><rect x="153" y="177" width="44" height="4" fill="#f8f040"/><rect x="197" y="177" width="4" height="4" fill="#f8ec40"/><rect x="201" y="177" width="4" height="4" fill="#f8e840"/><rect x="205" y="177" width="4" height="4" fill="#fce43c"/><rect x="209" y="177" width="40" height="4" fill="#fce038"/><rect x="249" y="177" width="4" height="4" fill="#fce03c"/><rect x="253" y="177" width="4" height="4" fill="#f8e43c"/><rect x="257" y="177" width="4" height="4" fill="#f8e840"/><rect x="261" y="177" width="32" height="4" fill="#f8ec40"/><rect x="293" y="177" width="4" height="4" fill="#f8e83c"/><rect x="297" y="177" width="4" height="4" fill="#fce03c"/><rect x="301" y="177" width="20" height="4" fill="#fce038"/><rect x="321" y="177" width="4" height="4" fill="#fce43c"/><rect x="325" y="177" width="4" height="4" fill="#f8e840"/><rect x="329" y="177" width="20" height="4" fill="#f8ec40"/><rect x="349" y="177" width="4" height="4" fill="#f8f040"/><rect x="353" y="177" width="4" height="4" fill="#e8f040"/><rect x="357" y="177" width="4" height="4" fill="#d0f040"/><rect x="361" y="177" width="8" height="4" fill="#ccf040"/><rect x="369" y="177" width="4" height="4" fill="#c8f040"/><rect x="373" y="177" width="4" height="4" fill="#b8f040"/><rect x="377" y="177" width="4" height="4" fill="#a8f040"/><rect x="381" y="177" width="8" height="4" fill="#a0f040"/><rect x="389" y="177" width="4" height="4" fill="#acf040"/><rect x="393" y="177" width="4" height="4" fill="#ccf040"/><rect x="397" y="177" width="4" height="4" fill="#f8f040"/><rect x="401" y="177" width="40" height="4" fill="#f8ec40"/><rect x="441" y="177" width="4" height="4" fill="#f4f040"/><rect x="445" y="177" width="4" height="4" fill="#dcf040"/><rect x="449" y="177" width="4" height="4" fill="#d0f040"/><rect x="453" y="177" width="4" height="4" fill="#e4f040"/><rect x="457" y="177" width="4" height="4" fill="#f8f040"/><rect x="461" y="177" width="4" height="4" fill="#f8e840"/><rect x="465" y="177" width="4" height="4" fill="#f8e43c"/><rect x="469" y="177" width="20" height="4" fill="#fce03c"/><rect x="489" y="177" width="40" height="4" fill="#fce038"/><rect x="529" y="177" width="4" height="4" fill="#fce03c"/><rect x="533" y="177" width="4" height="4" fill="#f8e83c"/><rect x="537" y="177" width="56" height="4" fill="#f8ec40"/><rect x="49" y="181" width="44" height="4" fill="#d0f040"/><rect x="93" y="181" width="4" height="4" fill="#d8f040"/><rect x="97" y="181" width="12" height="4" fill="#e0f040"/><rect x="109" y="181" width="4" height="4" fill="#e8f040"/><rect x="113" y="181" width="4" height="4" fill="#f8f040"/><rect x="117" y="181" width="4" height="4" fill="#f8e840"/><rect x="121" y="181" width="4" height="4" fill="#fce43c"/><rect x="125" y="181" width="4" height="4" fill="#fce03c"/><rect x="129" y="181" width="4" height="4" fill="#fce038"/><rect x="133" y="181" width="4" height="4" fill="#fce43c"/><rect x="137" y="181" width="64" height="4" fill="#f8e83c"/><rect x="201" y="181" width="4" height="4" fill="#fce43c"/><rect x="205" y="181" width="4" height="4" fill="#fce03c"/><rect x="209" y="181" width="44" height="4" fill="#fce038"/><rect x="253" y="181" width="4" height="4" fill="#fce43c"/><rect x="257" y="181" width="36" height="4" fill="#f8e83c"/><rect x="293" y="181" width="4" height="4" fill="#fce43c"/><rect x="297" y="181" width="24" height="4" fill="#fce038"/><rect x="321" y="181" width="4" height="4" fill="#fce03c"/><rect x="325" y="181" width="4" height="4" fill="#fce43c"/><rect x="329" y="181" width="20" height="4" fill="#f8e83c"/><rect x="349" y="181" width="4" height="4" fill="#f8e840"/><rect x="353" y="181" width="4" height="4" fill="#f8f040"/><rect x="357" y="181" width="4" height="4" fill="#e8f040"/><rect x="361" y="181" width="4" height="4" fill="#dcf040"/><rect x="365" y="181" width="4" height="4" fill="#d4f040"/><rect x="369" y="181" width="4" height="4" fill="#ccf040"/><rect x="373" y="181" width="4" height="4" fill="#c0f040"/><rect x="377" y="181" width="4" height="4" fill="#b8f040"/><rect x="381" y="181" width="8" height="4" fill="#b4f040"/><rect x="389" y="181" width="4" height="4" fill="#bcf040"/><rect x="393" y="181" width="4" height="4" fill="#d8f040"/><rect x="397" y="181" width="4" height="4" fill="#f8f040"/><rect x="401" y="181" width="8" height="4" fill="#f8e840"/><rect x="409" y="181" width="24" height="4" fill="#f8e83c"/><rect x="433" y="181" width="4" height="4" fill="#f8e840"/><rect x="437" y="181" width="4" height="4" fill="#f8ec40"/><rect x="441" y="181" width="4" height="4" fill="#f8f040"/><rect x="445" y="181" width="4" height="4" fill="#f0f040"/><rect x="449" y="181" width="4" height="4" fill="#e8f040"/><rect x="453" y="181" width="4" height="4" fill="#f8f040"/><rect x="457" y="181" width="4" height="4" fill="#f8e840"/><rect x="461" y="181" width="4" height="4" fill="#fce43c"/><rect x="465" y="181" width="4" height="4" fill="#fce03c"/><rect x="469" y="181" width="64" height="4" fill="#fce038"/><rect x="533" y="181" width="4" height="4" fill="#f8e43c"/><rect x="537" y="181" width="4" height="4" fill="#f8e840"/><rect x="541" y="181" width="52" height="4" fill="#f8ec40"/><rect x="49" y="185" width="40" height="4" fill="#d0f040"/><rect x="89" y="185" width="4" height="4" fill="#d4f040"/><rect x="93" y="185" width="4" height="4" fill="#e4f040"/><rect x="97" y="185" width="16" height="4" fill="#f8f040"/><rect x="113" y="185" width="4" height="4" fill="#f8e840"/><rect x="117" y="185" width="4" height="4" fill="#fce43c"/><rect x="121" y="185" width="4" height="4" fill="#fce03c"/><rect x="125" y="185" width="8" height="4" fill="#fce038"/><rect x="133" y="185" width="72" height="4" fill="#fce03c"/><rect x="205" y="185" width="48" height="4" fill="#fce038"/><rect x="253" y="185" width="44" height="4" fill="#fce03c"/><rect x="297" y="185" width="28" height="4" fill="#fce038"/><rect x="325" y="185" width="24" height="4" fill="#fce03c"/><rect x="349" y="185" width="4" height="4" fill="#fce43c"/><rect x="353" y="185" width="4" height="4" fill="#f8e840"/><rect x="357" y="185" width="4" height="4" fill="#f8f040"/><rect x="361" y="185" width="4" height="4" fill="#ecf040"/><rect x="365" y="185" width="4" height="4" fill="#dcf040"/><rect x="369" y="185" width="4" height="4" fill="#d0f040"/><rect x="373" y="185" width="4" height="4" fill="#c8f040"/><rect x="377" y="185" width="12" height="4" fill="#c4f040"/><rect x="389" y="185" width="4" height="4" fill="#c8f040"/><rect x="393" y="185" width="4" height="4" fill="#e4f040"/><rect x="397" y="185" width="4" height="4" fill="#f8ec40"/><rect x="401" y="185" width="4" height="4" fill="#f8e840"/><rect x="405" y="185" width="4" height="4" fill="#f8e43c"/><rect x="409" y="185" width="20" height="4" fill="#fce03c"/><rect x="429" y="185" width="4" height="4" fill="#fce43c"/><rect x="433" y="185" width="4" height="4" fill="#f8e83c"/><rect x="437" y="185" width="8" height="4" fill="#f8ec40"/><rect x="445" y="185" width="8" height="4" fill="#f8f040"/><rect x="453" y="185" width="4" height="4" fill="#f8e840"/><rect x="457" y="185" width="4" height="4" fill="#fce43c"/><rect x="461" y="185" width="4" height="4" fill="#fce03c"/><rect x="465" y="185" width="68" height="4" fill="#fce038"/><rect x="533" y="185" width="4" height="4" fill="#f8e43c"/><rect x="537" y="185" width="4" height="4" fill="#f8e840"/><rect x="541" y="185" width="52" height="4" fill="#f8ec40"/><rect x="49" y="189" width="28" height="4" fill="#d8f040"/><rect x="77" y="189" width="12" height="4" fill="#dcf040"/><rect x="89" y="189" width="4" height="4" fill="#e0f040"/><rect x="93" y="189" width="4" height="4" fill="#f8f040"/><rect x="97" y="189" width="4" height="4" fill="#f8ec40"/><rect x="101" y="189" width="12" height="4" fill="#f8e840"/><rect x="113" y="189" width="4" height="4" fill="#fce43c"/><rect x="117" y="189" width="236" height="4" fill="#fce038"/><rect x="353" y="189" width="4" height="4" fill="#fce43c"/><rect x="357" y="189" width="4" height="4" fill="#f8e840"/><rect x="361" y="189" width="4" height="4" fill="#f8f040"/><rect x="365" y="189" width="4" height="4" fill="#e8f040"/><rect x="369" y="189" width="20" height="4" fill="#d8f040"/><rect x="389" y="189" width="4" height="4" fill="#dcf040"/><rect x="393" y="189" width="4" height="4" fill="#f4f040"/><rect x="397" y="189" width="4" height="4" fill="#f8ec40"/><rect x="401" y="189" width="4" height="4" fill="#f8e83c"/><rect x="405" y="189" width="4" height="4" fill="#fce03c"/><rect x="409" y="189" width="24" height="4" fill="#fce038"/><rect x="433" y="189" width="4" height="4" fill="#fce43c"/><rect x="437" y="189" width="16" height="4" fill="#f8e840"/><rect x="453" y="189" width="4" height="4" fill="#fce43c"/><rect x="457" y="189" width="76" height="4" fill="#fce038"/><rect x="533" y="189" width="4" height="4" fill="#fce43c"/><rect x="537" y="189" width="16" height="4" fill="#f8e840"/><rect x="553" y="189" width="40" height="4" fill="#f8ec40"/><rect x="49" y="193" width="24" height="4" fill="#f0f040"/><rect x="73" y="193" width="4" height="4" fill="#f8f040"/><rect x="77" y="193" width="16" height="4" fill="#f8ec40"/><rect x="93" y="193" width="4" height="4" fill="#f8e83c"/><rect x="97" y="193" width="12" height="4" fill="#f8e43c"/><rect x="109" y="193" width="4" height="4" fill="#fce43c"/><rect x="113" y="193" width="4" height="4" fill="#fce03c"/><rect x="117" y="193" width="236" height="4" fill="#fce038"/><rect x="353" y="193" width="4" height="4" fill="#fce03c"/><rect x="357" y="193" width="4" height="4" fill="#fce43c"/><rect x="361" y="193" width="4" height="4" fill="#f8e840"/><rect x="365" y="193" width="4" height="4" fill="#f8f040"/><rect x="369" y="193" width="20" height="4" fill="#f0f040"/><rect x="389" y="193" width="4" height="4" fill="#f4f040"/><rect x="393" y="193" width="4" height="4" fill="#f8ec40"/><rect x="397" y="193" width="4" height="4" fill="#f8e83c"/><rect x="401" y="193" width="4" height="4" fill="#fce43c"/><rect x="405" y="193" width="4" height="4" fill="#fce03c"/><rect x="409" y="193" width="24" height="4" fill="#fce038"/><rect x="433" y="193" width="4" height="4" fill="#fce03c"/><rect x="437" y="193" width="4" height="4" fill="#fce43c"/><rect x="441" y="193" width="8" height="4" fill="#f8e43c"/><rect x="449" y="193" width="4" height="4" fill="#fce43c"/><rect x="453" y="193" width="4" height="4" fill="#fce03c"/><rect x="457" y="193" width="76" height="4" fill="#fce038"/><rect x="533" y="193" width="4" height="4" fill="#fce03c"/><rect x="537" y="193" width="4" height="4" fill="#fce43c"/><rect x="541" y="193" width="12" height="4" fill="#f8e43c"/><rect x="553" y="193" width="4" height="4" fill="#f8e83c"/><rect x="557" y="193" width="36" height="4" fill="#f8ec40"/><rect x="49" y="197" width="24" height="4" fill="#f8ec40"/><rect x="73" y="197" width="4" height="4" fill="#f8e83c"/><rect x="77" y="197" width="20" height="4" fill="#fce03c"/><rect x="97" y="197" width="264" height="4" fill="#fce038"/><rect x="361" y="197" width="4" height="4" fill="#fce43c"/><rect x="365" y="197" width="4" height="4" fill="#f8e840"/><rect x="369" y="197" width="24" height="4" fill="#f8ec40"/><rect x="393" y="197" width="4" height="4" fill="#f8e83c"/><rect x="397" y="197" width="4" height="4" fill="#fce03c"/><rect x="401" y="197" width="148" height="4" fill="#fce038"/><rect x="549" y="197" width="4" height="4" fill="#fce03c"/><rect x="553" y="197" width="4" height="4" fill="#f8e43c"/><rect x="557" y="197" width="4" height="4" fill="#f8e840"/><rect x="561" y="197" width="32" height="4" fill="#f8ec40"/><rect x="49" y="201" width="24" height="4" fill="#f8e83c"/><rect x="73" y="201" width="4" height="4" fill="#fce43c"/><rect x="77" y="201" width="284" height="4" fill="#fce038"/><rect x="361" y="201" width="4" height="4" fill="#fce03c"/><rect x="365" y="201" width="4" height="4" fill="#fce43c"/><rect x="369" y="201" width="24" height="4" fill="#f8e83c"/><rect x="393" y="201" width="4" height="4" fill="#fce43c"/><rect x="397" y="201" width="156" height="4" fill="#fce038"/><rect x="553" y="201" width="4" height="4" fill="#fce43c"/><rect x="557" y="201" width="4" height="4" fill="#f8e83c"/><rect x="561" y="201" width="8" height="4" fill="#f8e840"/><rect x="569" y="201" width="24" height="4" fill="#f8ec40"/><rect x="49" y="205" width="28" height="4" fill="#fce03c"/><rect x="77" y="205" width="288" height="4" fill="#fce038"/><rect x="365" y="205" width="32" height="4" fill="#fce03c"/><rect x="397" y="205" width="156" height="4" fill="#fce038"/><rect x="553" y="205" width="8" height="4" fill="#fce03c"/><rect x="561" y="205" width="4" height="4" fill="#f8e43c"/><rect x="565" y="205" width="4" height="4" fill="#f8e840"/><rect x="569" y="205" width="24" height="4" fill="#f8ec40"/><rect x="49" y="209" width="512" height="4" fill="#fce038"/><rect x="561" y="209" width="4" height="4" fill="#fce03c"/><rect x="565" y="209" width="4" height="4" fill="#f8e83c"/><rect x="569" y="209" width="4" height="4" fill="#f8e840"/><rect x="573" y="209" width="20" height="4" fill="#f8ec40"/><rect x="49" y="213" width="512" height="4" fill="#fce038"/><rect x="561" y="213" width="4" height="4" fill="#fce03c"/><rect x="565" y="213" width="4" height="4" fill="#fce43c"/><rect x="569" y="213" width="4" height="4" fill="#f8e43c"/><rect x="573" y="213" width="4" height="4" fill="#f8e83c"/><rect x="577" y="213" width="16" height="4" fill="#f8ec40"/><rect x="49" y="217" width="520" height="4" fill="#fce038"/><rect x="569" y="217" width="4" height="4" fill="#fce03c"/><rect x="573" y="217" width="4" height="4" fill="#f8e43c"/><rect x="577" y="217" width="4" height="4" fill="#f8e840"/><rect x="581" y="217" width="12" height="4" fill="#f8ec40"/><rect x="49" y="221" width="524" height="4" fill="#fce038"/><rect x="573" y="221" width="4" height="4" fill="#fce43c"/><rect x="577" y="221" width="16" height="4" fill="#f8e83c"/><rect x="49" y="225" width="524" height="4" fill="#fce038"/><rect x="573" y="225" width="20" height="4" fill="#fce03c"/><rect x="49" y="229" width="544" height="4" fill="#fce038"/><rect x="49" y="233" width="544" height="4" fill="#fce038"/><rect x="49" y="237" width="544" height="4" fill="#fce038"/><rect x="49" y="241" width="544" height="4" fill="#fce038"/><rect x="49" y="245" width="544" height="4" fill="#fce038"/><rect x="49" y="249" width="544" height="4" fill="#fce038"/><rect x="49" y="253" width="544" height="4" fill="#fce038"/><rect x="49" y="257" width="544" height="4" fill="#fce038"/><rect x="49" y="261" width="544" height="4" fill="#fce038"/><rect x="49" y="265" width="544" height="4" fill="#fce038"/><rect x="49" y="269" width="284" height="4" fill="#fce038"/><rect x="333" y="269" width="36" height="4" fill="#fce03c"/><rect x="369" y="269" width="224" height="4" fill="#fce038"/><rect x="49" y="273" width="132" height="4" fill="#fce038"/><rect x="181" y="273" width="4" height="4" fill="#fce03c"/><rect x="185" y="273" width="4" height="4" fill="#fce43c"/><rect x="189" y="273" width="52" height="4" fill="#f8e43c"/><rect x="241" y="273" width="4" height="4" fill="#fce43c"/><rect x="245" y="273" width="4" height="4" fill="#fce03c"/><rect x="249" y="273" width="64" height="4" fill="#fce038"/><rect x="313" y="273" width="4" height="4" fill="#fce03c"/><rect x="317" y="273" width="4" height="4" fill="#fce43c"/><rect x="321" y="273" width="12" height="4" fill="#f8e43c"/><rect x="333" y="273" width="4" height="4" fill="#f8e83c"/><rect x="337" y="273" width="24" height="4" fill="#f8ec40"/><rect x="361" y="273" width="4" height="4" fill="#f8e840"/><rect x="365" y="273" width="4" height="4" fill="#f8e83c"/><rect x="369" y="273" width="32" height="4" fill="#f8e43c"/><rect x="401" y="273" width="4" height="4" fill="#fce43c"/><rect x="405" y="273" width="4" height="4" fill="#fce03c"/><rect x="409" y="273" width="184" height="4" fill="#fce038"/><rect x="49" y="277" width="132" height="4" fill="#fce038"/><rect x="181" y="277" width="4" height="4" fill="#fce03c"/><rect x="185" y="277" width="4" height="4" fill="#f8e83c"/><rect x="189" y="277" width="52" height="4" fill="#f8e840"/><rect x="241" y="277" width="4" height="4" fill="#f8e83c"/><rect x="245" y="277" width="4" height="4" fill="#fce03c"/><rect x="249" y="277" width="64" height="4" fill="#fce038"/><rect x="313" y="277" width="4" height="4" fill="#fce43c"/><rect x="317" y="277" width="12" height="4" fill="#f8e840"/><rect x="329" y="277" width="4" height="4" fill="#f8ec40"/><rect x="333" y="277" width="4" height="4" fill="#f8f040"/><rect x="337" y="277" width="4" height="4" fill="#e0f040"/><rect x="341" y="277" width="20" height="4" fill="#dcf040"/><rect x="361" y="277" width="4" height="4" fill="#ecf040"/><rect x="365" y="277" width="4" height="4" fill="#f8f040"/><rect x="369" y="277" width="32" height="4" fill="#f8e840"/><rect x="401" y="277" width="4" height="4" fill="#f8e83c"/><rect x="405" y="277" width="4" height="4" fill="#fce03c"/><rect x="409" y="277" width="184" height="4" fill="#fce038"/><rect x="49" y="281" width="56" height="4" fill="#fce038"/><rect x="105" y="281" width="8" height="4" fill="#fce03c"/><rect x="113" y="281" width="4" height="4" fill="#fce43c"/><rect x="117" y="281" width="20" height="4" fill="#f8e83c"/><rect x="137" y="281" width="36" height="4" fill="#f8e840"/><rect x="173" y="281" width="8" height="4" fill="#f8e83c"/><rect x="181" y="281" width="4" height="4" fill="#f8e840"/><rect x="185" y="281" width="4" height="4" fill="#f8ec40"/><rect x="189" y="281" width="12" height="4" fill="#f8f040"/><rect x="201" y="281" width="4" height="4" fill="#f4f040"/><rect x="205" y="281" width="4" height="4" fill="#ecf040"/><rect x="209" y="281" width="32" height="4" fill="#e8f040"/><rect x="241" y="281" width="4" height="4" fill="#f4f040"/><rect x="245" y="281" width="4" height="4" fill="#f8ec40"/><rect x="249" y="281" width="4" height="4" fill="#f8e840"/><rect x="253" y="281" width="8" height="4" fill="#f8e83c"/><rect x="261" y="281" width="4" height="4" fill="#f8e43c"/><rect x="265" y="281" width="4" height="4" fill="#fce43c"/><rect x="269" y="281" width="40" height="4" fill="#fce03c"/><rect x="309" y="281" width="4" height="4" fill="#fce43c"/><rect x="313" y="281" width="4" height="4" fill="#f8e83c"/><rect x="317" y="281" width="16" height="4" fill="#f8ec40"/><rect x="333" y="281" width="4" height="4" fill="#f8f040"/><rect x="337" y="281" width="4" height="4" fill="#e8f040"/><rect x="341" y="281" width="12" height="4" fill="#e0f040"/><rect x="353" y="281" width="4" height="4" fill="#d8f040"/><rect x="357" y="281" width="4" height="4" fill="#d0f040"/><rect x="361" y="281" width="4" height="4" fill="#d8f040"/><rect x="365" y="281" width="4" height="4" fill="#e0f040"/><rect x="369" y="281" width="24" height="4" fill="#e8f040"/><rect x="393" y="281" width="4" height="4" fill="#dcf040"/><rect x="397" y="281" width="4" height="4" fill="#d0f040"/><rect x="401" y="281" width="4" height="4" fill="#dcf040"/><rect x="405" y="281" width="4" height="4" fill="#ecf040"/><rect x="409" y="281" width="4" height="4" fill="#f8f040"/><rect x="413" y="281" width="8" height="4" fill="#f8ec40"/><rect x="421" y="281" width="4" height="4" fill="#f8e840"/><rect x="425" y="281" width="8" height="4" fill="#f8e83c"/><rect x="433" y="281" width="4" height="4" fill="#fce43c"/><rect x="437" y="281" width="8" height="4" fill="#fce03c"/><rect x="445" y="281" width="68" height="4" fill="#fce038"/><rect x="513" y="281" width="44" height="4" fill="#fce03c"/><rect x="557" y="281" width="36" height="4" fill="#fce038"/><rect x="49" y="285" width="52" height="4" fill="#fce038"/><rect x="101" y="285" width="4" height="4" fill="#fce03c"/><rect x="105" y="285" width="4" height="4" fill="#fce43c"/><rect x="109" y="285" width="4" height="4" fill="#f8e83c"/><rect x="113" y="285" width="4" height="4" fill="#f8ec40"/><rect x="117" y="285" width="4" height="4" fill="#f8f040"/><rect x="121" y="285" width="8" height="4" fill="#f4f040"/><rect x="129" y="285" width="4" height="4" fill="#f0f040"/><rect x="133" y="285" width="4" height="4" fill="#e0f040"/><rect x="137" y="285" width="4" height="4" fill="#d0f040"/><rect x="141" y="285" width="28" height="4" fill="#ccf040"/><rect x="169" y="285" width="4" height="4" fill="#d0f040"/><rect x="173" y="285" width="4" height="4" fill="#e0f040"/><rect x="177" y="285" width="8" height="4" fill="#f0f040"/><rect x="185" y="285" width="4" height="4" fill="#e8f040"/><rect x="189" y="285" width="12" height="4" fill="#e0f040"/><rect x="201" y="285" width="4" height="4" fill="#d4f040"/><rect x="205" y="285" width="4" height="4" fill="#c8f040"/><rect x="209" y="285" width="32" height="4" fill="#c0f040"/><rect x="241" y="285" width="4" height="4" fill="#c4f040"/><rect x="245" y="285" width="4" height="4" fill="#c8f040"/><rect x="249" y="285" width="4" height="4" fill="#d0f040"/><rect x="253" y="285" width="4" height="4" fill="#e0f040"/><rect x="257" y="285" width="4" height="4" fill="#f0f040"/><rect x="261" y="285" width="4" height="4" fill="#f8f040"/><rect x="265" y="285" width="4" height="4" fill="#f8e840"/><rect x="269" y="285" width="44" height="4" fill="#f8e83c"/><rect x="313" y="285" width="4" height="4" fill="#f8e840"/><rect x="317" y="285" width="16" height="4" fill="#f8ec40"/><rect x="333" y="285" width="20" height="4" fill="#f8f040"/><rect x="353" y="285" width="4" height="4" fill="#e4f040"/><rect x="357" y="285" width="4" height="4" fill="#d4f040"/><rect x="361" y="285" width="4" height="4" fill="#ccf040"/><rect x="365" y="285" width="4" height="4" fill="#c4f040"/><rect x="369" y="285" width="20" height="4" fill="#c0f040"/><rect x="389" y="285" width="4" height="4" fill="#bcf040"/><rect x="393" y="285" width="4" height="4" fill="#acf040"/><rect x="397" y="285" width="4" height="4" fill="#a0f040"/><rect x="401" y="285" width="4" height="4" fill="#9cf040"/><rect x="405" y="285" width="4" height="4" fill="#a4f040"/><rect x="409" y="285" width="4" height="4" fill="#a8f040"/><rect x="413" y="285" width="4" height="4" fill="#b8f040"/><rect x="417" y="285" width="4" height="4" fill="#c8f040"/><rect x="421" y="285" width="4" height="4" fill="#d8f040"/><rect x="425" y="285" width="4" height="4" fill="#e8f040"/><rect x="429" y="285" width="4" height="4" fill="#f8f040"/><rect x="433" y="285" width="4" height="4" fill="#f8ec40"/><rect x="437" y="285" width="4" height="4" fill="#f8e83c"/><rect x="441" y="285" width="4" height="4" fill="#fce43c"/><rect x="445" y="285" width="4" height="4" fill="#fce03c"/><rect x="449" y="285" width="64" height="4" fill="#fce038"/><rect x="513" y="285" width="4" height="4" fill="#fce43c"/><rect x="517" y="285" width="36" height="4" fill="#f8e83c"/><rect x="553" y="285" width="4" height="4" fill="#fce43c"/><rect x="557" y="285" width="36" height="4" fill="#fce038"/><rect x="49" y="289" width="36" height="4" fill="#fce038"/><rect x="85" y="289" width="16" height="4" fill="#fce03c"/><rect x="101" y="289" width="4" height="4" fill="#fce43c"/><rect x="105" y="289" width="4" height="4" fill="#f8e840"/><rect x="109" y="289" width="4" height="4" fill="#f8f040"/><rect x="113" y="289" width="4" height="4" fill="#e8f040"/><rect x="117" y="289" width="4" height="4" fill="#d0f040"/><rect x="121" y="289" width="8" height="4" fill="#ccf040"/><rect x="129" y="289" width="4" height="4" fill="#c8f040"/><rect x="133" y="289" width="4" height="4" fill="#b8f040"/><rect x="137" y="289" width="4" height="4" fill="#acf040"/><rect x="141" y="289" width="12" height="4" fill="#a8f040"/><rect x="153" y="289" width="8" height="4" fill="#a4f040"/><rect x="161" y="289" width="8" height="4" fill="#a0f040"/><rect x="169" y="289" width="4" height="4" fill="#a8f040"/><rect x="173" y="289" width="4" height="4" fill="#b4f040"/><rect x="177" y="289" width="4" height="4" fill="#c4f040"/><rect x="181" y="289" width="16" height="4" fill="#c8f040"/><rect x="197" y="289" width="4" height="4" fill="#ccf040"/><rect x="201" y="289" width="4" height="4" fill="#c0f040"/><rect x="205" y="289" width="4" height="4" fill="#b4f040"/><rect x="209" y="289" width="16" height="4" fill="#a8f040"/><rect x="225" y="289" width="4" height="4" fill="#a4f040"/><rect x="229" y="289" width="20" height="4" fill="#a0f040"/><rect x="249" y="289" width="4" height="4" fill="#a8f040"/><rect x="253" y="289" width="4" height="4" fill="#b4f040"/><rect x="257" y="289" width="4" height="4" fill="#c4f040"/><rect x="261" y="289" width="4" height="4" fill="#d0f040"/><rect x="265" y="289" width="4" height="4" fill="#e8f040"/><rect x="269" y="289" width="16" height="4" fill="#f8f040"/><rect x="285" y="289" width="24" height="4" fill="#f8ec40"/><rect x="309" y="289" width="40" height="4" fill="#f8e840"/><rect x="349" y="289" width="4" height="4" fill="#f8ec40"/><rect x="353" y="289" width="4" height="4" fill="#f4f040"/><rect x="357" y="289" width="4" height="4" fill="#dcf040"/><rect x="361" y="289" width="4" height="4" fill="#c8f040"/><rect x="365" y="289" width="4" height="4" fill="#b8f040"/><rect x="369" y="289" width="16" height="4" fill="#acf040"/><rect x="385" y="289" width="4" height="4" fill="#a8f040"/><rect x="389" y="289" width="4" height="4" fill="#a0f040"/><rect x="393" y="289" width="4" height="4" fill="#8cf040"/><rect x="397" y="289" width="4" height="4" fill="#74f040"/><rect x="401" y="289" width="8" height="4" fill="#70f040"/><rect x="409" y="289" width="4" height="4" fill="#74f040"/><rect x="413" y="289" width="4" height="4" fill="#88f040"/><rect x="417" y="289" width="4" height="4" fill="#9cf040"/><rect x="421" y="289" width="4" height="4" fill="#acf040"/><rect x="425" y="289" width="4" height="4" fill="#bcf040"/><rect x="429" y="289" width="4" height="4" fill="#ccf040"/><rect x="433" y="289" width="4" height="4" fill="#e0f040"/><rect x="437" y="289" width="4" height="4" fill="#f8f040"/><rect x="441" y="289" width="4" height="4" fill="#f8e840"/><rect x="445" y="289" width="4" height="4" fill="#f8e43c"/><rect x="449" y="289" width="8" height="4" fill="#fce03c"/><rect x="457" y="289" width="36" height="4" fill="#fce038"/><rect x="493" y="289" width="20" height="4" fill="#fce03c"/><rect x="513" y="289" width="4" height="4" fill="#f8e83c"/><rect x="517" y="289" width="4" height="4" fill="#f8e840"/><rect x="521" y="289" width="32" height="4" fill="#f8ec40"/><rect x="553" y="289" width="4" height="4" fill="#f8e83c"/><rect x="557" y="289" width="28" height="4" fill="#fce03c"/><rect x="49" y="293" width="32" height="4" fill="#fce038"/><rect x="81" y="293" width="4" height="4" fill="#fce03c"/><rect x="85" y="293" width="4" height="4" fill="#f8e83c"/><rect x="89" y="293" width="12" height="4" fill="#f8ec40"/><rect x="101" y="293" width="8" height="4" fill="#f8f040"/><rect x="109" y="293" width="4" height="4" fill="#e8f040"/><rect x="113" y="293" width="4" height="4" fill="#d0f040"/><rect x="117" y="293" width="4" height="4" fill="#c0f040"/><rect x="121" y="293" width="8" height="4" fill="#bcf040"/><rect x="129" y="293" width="4" height="4" fill="#b8f040"/><rect x="133" y="293" width="4" height="4" fill="#b0f040"/><rect x="137" y="293" width="12" height="4" fill="#a8f040"/><rect x="149" y="293" width="4" height="4" fill="#a4f040"/><rect x="153" y="293" width="4" height="4" fill="#98f040"/><rect x="157" y="293" width="4" height="4" fill="#90f040"/><rect x="161" y="293" width="12" height="4" fill="#8cf040"/><rect x="173" y="293" width="4" height="4" fill="#98f040"/><rect x="177" y="293" width="12" height="4" fill="#a0f040"/><rect x="189" y="293" width="4" height="4" fill="#a4f040"/><rect x="193" y="293" width="4" height="4" fill="#b0f040"/><rect x="197" y="293" width="8" height="4" fill="#b8f040"/><rect x="205" y="293" width="4" height="4" fill="#b0f040"/><rect x="209" y="293" width="12" height="4" fill="#a8f040"/><rect x="221" y="293" width="4" height="4" fill="#a0f040"/><rect x="225" y="293" width="4" height="4" fill="#94f040"/><rect x="229" y="293" width="24" height="4" fill="#8cf040"/><rect x="253" y="293" width="4" height="4" fill="#98f040"/><rect x="257" y="293" width="4" height="4" fill="#a0f040"/><rect x="261" y="293" width="4" height="4" fill="#a8f040"/><rect x="265" y="293" width="4" height="4" fill="#b0f040"/><rect x="269" y="293" width="4" height="4" fill="#b8f040"/><rect x="273" y="293" width="4" height="4" fill="#c4f040"/><rect x="277" y="293" width="4" height="4" fill="#ccf040"/><rect x="281" y="293" width="4" height="4" fill="#d8f040"/><rect x="285" y="293" width="4" height="4" fill="#e4f040"/><rect x="289" y="293" width="4" height="4" fill="#f0f040"/><rect x="293" y="293" width="4" height="4" fill="#f8f040"/><rect x="297" y="293" width="4" height="4" fill="#f8ec40"/><rect x="301" y="293" width="4" height="4" fill="#f8e840"/><rect x="305" y="293" width="4" height="4" fill="#f8e83c"/><rect x="309" y="293" width="12" height="4" fill="#f8e43c"/><rect x="321" y="293" width="4" height="4" fill="#fce43c"/><rect x="325" y="293" width="16" height="4" fill="#f8e43c"/><rect x="341" y="293" width="4" height="4" fill="#fce43c"/><rect x="345" y="293" width="4" height="4" fill="#f8e43c"/><rect x="349" y="293" width="4" height="4" fill="#f8e83c"/><rect x="353" y="293" width="4" height="4" fill="#f8ec40"/><rect x="357" y="293" width="4" height="4" fill="#f4f040"/><rect x="361" y="293" width="4" height="4" fill="#dcf040"/><rect x="365" y="293" width="4" height="4" fill="#c8f040"/><rect x="369" y="293" width="12" height="4" fill="#bcf040"/><rect x="381" y="293" width="4" height="4" fill="#b8f040"/><rect x="385" y="293" width="4" height="4" fill="#b0f040"/><rect x="389" y="293" width="4" height="4" fill="#a0f040"/><rect x="393" y="293" width="4" height="4" fill="#8cf040"/><rect x="397" y="293" width="4" height="4" fill="#74f040"/><rect x="401" y="293" width="12" height="4" fill="#70f040"/><rect x="413" y="293" width="4" height="4" fill="#7cf040"/><rect x="417" y="293" width="4" height="4" fill="#88f040"/><rect x="421" y="293" width="4" height="4" fill="#90f040"/><rect x="425" y="293" width="4" height="4" fill="#98f040"/><rect x="429" y="293" width="4" height="4" fill="#a8f040"/><rect x="433" y="293" width="4" height="4" fill="#b8f040"/><rect x="437" y="293" width="4" height="4" fill="#ccf040"/><rect x="441" y="293" width="4" height="4" fill="#e0f040"/><rect x="445" y="293" width="4" height="4" fill="#f8f040"/><rect x="449" y="293" width="4" height="4" fill="#f8ec40"/><rect x="453" y="293" width="4" height="4" fill="#f8e83c"/><rect x="457" y="293" width="36" height="4" fill="#f8e43c"/><rect x="493" y="293" width="4" height="4" fill="#f8e83c"/><rect x="497" y="293" width="36" height="4" fill="#f8ec40"/><rect x="533" y="293" width="4" height="4" fill="#f8f040"/><rect x="537" y="293" width="16" height="4" fill="#f0f040"/><rect x="553" y="293" width="4" height="4" fill="#f8f040"/><rect x="557" y="293" width="24" height="4" fill="#f8ec40"/><rect x="49" y="297" width="32" height="4" fill="#fce038"/><rect x="81" y="297" width="4" height="4" fill="#f8e43c"/><rect x="85" y="297" width="4" height="4" fill="#f8f040"/><rect x="89" y="297" width="12" height="4" fill="#dcf040"/><rect x="101" y="297" width="8" height="4" fill="#d8f040"/><rect x="109" y="297" width="4" height="4" fill="#d0f040"/><rect x="113" y="297" width="4" height="4" fill="#c0f040"/><rect x="117" y="297" width="4" height="4" fill="#b0f040"/><rect x="121" y="297" width="12" height="4" fill="#acf040"/><rect x="133" y="297" width="16" height="4" fill="#a8f040"/><rect x="149" y="297" width="4" height="4" fill="#a4f040"/><rect x="153" y="297" width="4" height="4" fill="#90f040"/><rect x="157" y="297" width="4" height="4" fill="#78f040"/><rect x="161" y="297" width="12" height="4" fill="#74f040"/><rect x="173" y="297" width="16" height="4" fill="#78f040"/><rect x="189" y="297" width="4" height="4" fill="#80f040"/><rect x="193" y="297" width="4" height="4" fill="#90f040"/><rect x="197" y="297" width="4" height="4" fill="#a8f040"/><rect x="201" y="297" width="4" height="4" fill="#acf040"/><rect x="205" y="297" width="16" height="4" fill="#a8f040"/><rect x="221" y="297" width="4" height="4" fill="#98f040"/><rect x="225" y="297" width="4" height="4" fill="#84f040"/><rect x="229" y="297" width="24" height="4" fill="#74f040"/><rect x="253" y="297" width="12" height="4" fill="#78f040"/><rect x="265" y="297" width="4" height="4" fill="#7cf040"/><rect x="269" y="297" width="4" height="4" fill="#80f040"/><rect x="273" y="297" width="4" height="4" fill="#98f040"/><rect x="277" y="297" width="4" height="4" fill="#acf040"/><rect x="281" y="297" width="4" height="4" fill="#bcf040"/><rect x="285" y="297" width="4" height="4" fill="#c8f040"/><rect x="289" y="297" width="4" height="4" fill="#dcf040"/><rect x="293" y="297" width="4" height="4" fill="#f0f040"/><rect x="297" y="297" width="4" height="4" fill="#f8ec40"/><rect x="301" y="297" width="4" height="4" fill="#f8e83c"/><rect x="305" y="297" width="4" height="4" fill="#fce43c"/><rect x="309" y="297" width="40" height="4" fill="#fce038"/><rect x="349" y="297" width="4" height="4" fill="#fce03c"/><rect x="353" y="297" width="4" height="4" fill="#f8e83c"/><rect x="357" y="297" width="4" height="4" fill="#f8ec40"/><rect x="361" y="297" width="4" height="4" fill="#f4f040"/><rect x="365" y="297" width="4" height="4" fill="#dcf040"/><rect x="369" y="297" width="12" height="4" fill="#ccf040"/><rect x="381" y="297" width="4" height="4" fill="#c0f040"/><rect x="385" y="297" width="4" height="4" fill="#b4f040"/><rect x="389" y="297" width="4" height="4" fill="#a0f040"/><rect x="393" y="297" width="4" height="4" fill="#8cf040"/><rect x="397" y="297" width="4" height="4" fill="#74f040"/><rect x="401" y="297" width="16" height="4" fill="#70f040"/><rect x="417" y="297" width="8" height="4" fill="#74f040"/><rect x="425" y="297" width="4" height="4" fill="#78f040"/><rect x="429" y="297" width="4" height="4" fill="#80f040"/><rect x="433" y="297" width="4" height="4" fill="#94f040"/><rect x="437" y="297" width="4" height="4" fill="#acf040"/><rect x="441" y="297" width="4" height="4" fill="#bcf040"/><rect x="445" y="297" width="4" height="4" fill="#ccf040"/><rect x="449" y="297" width="4" height="4" fill="#e0f040"/><rect x="453" y="297" width="4" height="4" fill="#f8f040"/><rect x="457" y="297" width="4" height="4" fill="#f8ec40"/><rect x="461" y="297" width="28" height="4" fill="#f8e840"/><rect x="489" y="297" width="4" height="4" fill="#f8ec40"/><rect x="493" y="297" width="4" height="4" fill="#f8f040"/><rect x="497" y="297" width="4" height="4" fill="#e0f040"/><rect x="501" y="297" width="8" height="4" fill="#dcf040"/><rect x="509" y="297" width="4" height="4" fill="#e0f040"/><rect x="513" y="297" width="4" height="4" fill="#f4f040"/><rect x="517" y="297" width="16" height="4" fill="#f8ec40"/><rect x="533" y="297" width="4" height="4" fill="#f0f040"/><rect x="537" y="297" width="4" height="4" fill="#dcf040"/><rect x="541" y="297" width="16" height="4" fill="#d8f040"/><rect x="557" y="297" width="24" height="4" fill="#dcf040"/><rect x="73" y="301" width="4" height="4" fill="#fce03c"/><rect x="77" y="301" width="4" height="4" fill="#f8e43c"/><rect x="81" y="301" width="4" height="4" fill="#f8ec40"/><rect x="85" y="301" width="4" height="4" fill="#e8f040"/><rect x="89" y="301" width="20" height="4" fill="#d0f040"/><rect x="109" y="301" width="4" height="4" fill="#ccf040"/><rect x="113" y="301" width="4" height="4" fill="#bcf040"/><rect x="117" y="301" width="8" height="4" fill="#acf040"/><rect x="125" y="301" width="4" height="4" fill="#b0f040"/><rect x="129" y="301" width="20" height="4" fill="#b4f040"/><rect x="149" y="301" width="4" height="4" fill="#b0f040"/><rect x="153" y="301" width="4" height="4" fill="#a0f040"/><rect x="157" y="301" width="4" height="4" fill="#90f040"/><rect x="161" y="301" width="4" height="4" fill="#88f040"/><rect x="165" y="301" width="4" height="4" fill="#84f040"/><rect x="169" y="301" width="4" height="4" fill="#80f040"/><rect x="173" y="301" width="4" height="4" fill="#78f040"/><rect x="177" y="301" width="16" height="4" fill="#70f040"/><rect x="193" y="301" width="4" height="4" fill="#84f040"/><rect x="197" y="301" width="4" height="4" fill="#94f040"/><rect x="201" y="301" width="12" height="4" fill="#98f040"/><rect x="213" y="301" width="4" height="4" fill="#a0f040"/><rect x="217" y="301" width="4" height="4" fill="#a8f040"/><rect x="221" y="301" width="4" height="4" fill="#98f040"/><rect x="225" y="301" width="4" height="4" fill="#80f040"/><rect x="229" y="301" width="44" height="4" fill="#70f040"/><rect x="273" y="301" width="4" height="4" fill="#84f040"/><rect x="277" y="301" width="4" height="4" fill="#94f040"/><rect x="281" y="301" width="4" height="4" fill="#a0f040"/><rect x="285" y="301" width="4" height="4" fill="#acf040"/><rect x="289" y="301" width="4" height="4" fill="#b8f040"/><rect x="293" y="301" width="4" height="4" fill="#c8f040"/><rect x="297" y="301" width="4" height="4" fill="#e0f040"/><rect x="301" y="301" width="4" height="4" fill="#f8f040"/><rect x="305" y="301" width="4" height="4" fill="#f8e840"/><rect x="309" y="301" width="24" height="4" fill="#f8e83c"/><rect x="333" y="301" width="4" height="4" fill="#fce43c"/><rect x="337" y="301" width="8" height="4" fill="#fce03c"/><rect x="345" y="301" width="8" height="4" fill="#fce038"/><rect x="353" y="301" width="4" height="4" fill="#fce43c"/><rect x="357" y="301" width="4" height="4" fill="#f8e83c"/><rect x="361" y="301" width="4" height="4" fill="#f8e840"/><rect x="365" y="301" width="4" height="4" fill="#f8f040"/><rect x="369" y="301" width="4" height="4" fill="#f0f040"/><rect x="373" y="301" width="4" height="4" fill="#ecf040"/><rect x="377" y="301" width="4" height="4" fill="#e4f040"/><rect x="381" y="301" width="4" height="4" fill="#d0f040"/><rect x="385" y="301" width="4" height="4" fill="#c0f040"/><rect x="389" y="301" width="4" height="4" fill="#b0f040"/><rect x="393" y="301" width="4" height="4" fill="#98f040"/><rect x="397" y="301" width="4" height="4" fill="#84f040"/><rect x="401" y="301" width="4" height="4" fill="#78f040"/><rect x="405" y="301" width="4" height="4" fill="#74f040"/><rect x="409" y="301" width="24" height="4" fill="#70f040"/><rect x="433" y="301" width="4" height="4" fill="#84f040"/><rect x="437" y="301" width="4" height="4" fill="#94f040"/><rect x="441" y="301" width="4" height="4" fill="#a0f040"/><rect x="445" y="301" width="4" height="4" fill="#acf040"/><rect x="449" y="301" width="4" height="4" fill="#b8f040"/><rect x="453" y="301" width="4" height="4" fill="#c8f040"/><rect x="457" y="301" width="4" height="4" fill="#e0f040"/><rect x="461" y="301" width="4" height="4" fill="#ecf040"/><rect x="465" y="301" width="4" height="4" fill="#f4f040"/><rect x="469" y="301" width="20" height="4" fill="#f8f040"/><rect x="489" y="301" width="4" height="4" fill="#f4f040"/><rect x="493" y="301" width="4" height="4" fill="#dcf040"/><rect x="497" y="301" width="4" height="4" fill="#c8f040"/><rect x="501" y="301" width="8" height="4" fill="#c4f040"/><rect x="509" y="301" width="4" height="4" fill="#c8f040"/><rect x="513" y="301" width="4" height="4" fill="#dcf040"/><rect x="517" y="301" width="4" height="4" fill="#f4f040"/><rect x="521" y="301" width="12" height="4" fill="#f8f040"/><rect x="533" y="301" width="4" height="4" fill="#e4f040"/><rect x="537" y="301" width="4" height="4" fill="#d4f040"/><rect x="541" y="301" width="40" height="4" fill="#d0f040"/><rect x="77" y="305" width="4" height="4" fill="#f8f040"/><rect x="81" y="305" width="4" height="4" fill="#e8f040"/><rect x="85" y="305" width="4" height="4" fill="#dcf040"/><rect x="89" y="305" width="20" height="4" fill="#d0f040"/><rect x="109" y="305" width="4" height="4" fill="#ccf040"/><rect x="113" y="305" width="4" height="4" fill="#bcf040"/><rect x="117" y="305" width="4" height="4" fill="#acf040"/><rect x="121" y="305" width="4" height="4" fill="#b0f040"/><rect x="125" y="305" width="4" height="4" fill="#bcf040"/><rect x="129" y="305" width="20" height="4" fill="#c4f040"/><rect x="149" y="305" width="4" height="4" fill="#c0f040"/><rect x="153" y="305" width="4" height="4" fill="#bcf040"/><rect x="157" y="305" width="4" height="4" fill="#b8f040"/><rect x="161" y="305" width="4" height="4" fill="#acf040"/><rect x="165" y="305" width="4" height="4" fill="#a0f040"/><rect x="169" y="305" width="4" height="4" fill="#94f040"/><rect x="173" y="305" width="4" height="4" fill="#84f040"/><rect x="177" y="305" width="16" height="4" fill="#70f040"/><rect x="193" y="305" width="4" height="4" fill="#78f040"/><rect x="197" y="305" width="12" height="4" fill="#80f040"/><rect x="209" y="305" width="4" height="4" fill="#84f040"/><rect x="213" y="305" width="4" height="4" fill="#94f040"/><rect x="217" y="305" width="4" height="4" fill="#a4f040"/><rect x="221" y="305" width="4" height="4" fill="#98f040"/><rect x="225" y="305" width="4" height="4" fill="#80f040"/><rect x="229" y="305" width="44" height="4" fill="#70f040"/><rect x="273" y="305" width="4" height="4" fill="#78f040"/><rect x="277" y="305" width="4" height="4" fill="#80f040"/><rect x="281" y="305" width="4" height="4" fill="#84f040"/><rect x="285" y="305" width="4" height="4" fill="#88f040"/><rect x="289" y="305" width="4" height="4" fill="#90f040"/><rect x="293" y="305" width="4" height="4" fill="#a8f040"/><rect x="297" y="305" width="4" height="4" fill="#bcf040"/><rect x="301" y="305" width="4" height="4" fill="#ccf040"/><rect x="305" y="305" width="4" height="4" fill="#e0f040"/><rect x="309" y="305" width="20" height="4" fill="#f4f040"/><rect x="329" y="305" width="4" height="4" fill="#f8f040"/><rect x="333" y="305" width="4" height="4" fill="#f8ec40"/><rect x="337" y="305" width="4" height="4" fill="#f8e83c"/><rect x="341" y="305" width="4" height="4" fill="#fce43c"/><rect x="345" y="305" width="4" height="4" fill="#fce03c"/><rect x="349" y="305" width="4" height="4" fill="#fce038"/><rect x="353" y="305" width="8" height="4" fill="#fce03c"/><rect x="361" y="305" width="4" height="4" fill="#fce43c"/><rect x="365" y="305" width="4" height="4" fill="#f8e43c"/><rect x="369" y="305" width="4" height="4" fill="#f8e83c"/><rect x="373" y="305" width="4" height="4" fill="#f8ec40"/><rect x="377" y="305" width="4" height="4" fill="#f8f040"/><rect x="381" y="305" width="4" height="4" fill="#e8f040"/><rect x="385" y="305" width="4" height="4" fill="#d0f040"/><rect x="389" y="305" width="4" height="4" fill="#c0f040"/><rect x="393" y="305" width="4" height="4" fill="#b0f040"/><rect x="397" y="305" width="4" height="4" fill="#9cf040"/><rect x="401" y="305" width="4" height="4" fill="#8cf040"/><rect x="405" y="305" width="4" height="4" fill="#78f040"/><rect x="409" y="305" width="24" height="4" fill="#70f040"/><rect x="433" y="305" width="4" height="4" fill="#78f040"/><rect x="437" y="305" width="4" height="4" fill="#80f040"/><rect x="441" y="305" width="4" height="4" fill="#84f040"/><rect x="445" y="305" width="4" height="4" fill="#88f040"/><rect x="449" y="305" width="4" height="4" fill="#90f040"/><rect x="453" y="305" width="4" height="4" fill="#a8f040"/><rect x="457" y="305" width="4" height="4" fill="#bcf040"/><rect x="461" y="305" width="4" height="4" fill="#c8f040"/><rect x="465" y="305" width="4" height="4" fill="#d4f040"/><rect x="469" y="305" width="20" height="4" fill="#e0f040"/><rect x="489" y="305" width="4" height="4" fill="#dcf040"/><rect x="493" y="305" width="4" height="4" fill="#c8f040"/><rect x="497" y="305" width="4" height="4" fill="#b8f040"/><rect x="501" y="305" width="8" height="4" fill="#b4f040"/><rect x="509" y="305" width="4" height="4" fill="#b8f040"/><rect x="513" y="305" width="4" height="4" fill="#c8f040"/><rect x="517" y="305" width="4" height="4" fill="#dcf040"/><rect x="521" y="305" width="12" height="4" fill="#e0f040"/><rect x="533" y="305" width="4" height="4" fill="#d8f040"/><rect x="537" y="305" width="44" height="4" fill="#d0f040"/><rect x="81" y="309" width="28" height="4" fill="#d0f040"/><rect x="109" y="309" width="4" height="4" fill="#ccf040"/><rect x="113" y="309" width="4" height="4" fill="#c0f040"/><rect x="117" y="309" width="4" height="4" fill="#b0f040"/><rect x="121" y="309" width="4" height="4" fill="#b8f040"/><rect x="125" y="309" width="4" height="4" fill="#c4f040"/><rect x="129" y="309" width="32" height="4" fill="#d0f040"/><rect x="161" y="309" width="4" height="4" fill="#c4f040"/><rect x="165" y="309" width="4" height="4" fill="#b8f040"/><rect x="169" y="309" width="4" height="4" fill="#a8f040"/><rect x="173" y="309" width="4" height="4" fill="#90f040"/><rect x="177" y="309" width="4" height="4" fill="#78f040"/><rect x="181" y="309" width="12" height="4" fill="#74f040"/><rect x="193" y="309" width="16" height="4" fill="#70f040"/><rect x="209" y="309" width="4" height="4" fill="#74f040"/><rect x="213" y="309" width="4" height="4" fill="#88f040"/><rect x="217" y="309" width="4" height="4" fill="#9cf040"/><rect x="221" y="309" width="4" height="4" fill="#90f040"/><rect x="225" y="309" width="4" height="4" fill="#78f040"/><rect x="229" y="309" width="16" height="4" fill="#60f040"/><rect x="245" y="309" width="4" height="4" fill="#68f040"/><rect x="249" y="309" width="20" height="4" fill="#70f040"/><rect x="269" y="309" width="4" height="4" fill="#6cf040"/><rect x="273" y="309" width="4" height="4" fill="#68f040"/><rect x="277" y="309" width="12" height="4" fill="#64f040"/><rect x="289" y="309" width="4" height="4" fill="#68f040"/><rect x="293" y="309" width="4" height="4" fill="#7cf040"/><rect x="297" y="309" width="4" height="4" fill="#90f040"/><rect x="301" y="309" width="4" height="4" fill="#a0f040"/><rect x="305" y="309" width="4" height="4" fill="#b0f040"/><rect x="309" y="309" width="12" height="4" fill="#bcf040"/><rect x="321" y="309" width="4" height="4" fill="#c0f040"/><rect x="325" y="309" width="4" height="4" fill="#c4f040"/><rect x="329" y="309" width="4" height="4" fill="#c8f040"/><rect x="333" y="309" width="4" height="4" fill="#dcf040"/><rect x="337" y="309" width="4" height="4" fill="#f4f040"/><rect x="341" y="309" width="4" height="4" fill="#f8ec40"/><rect x="345" y="309" width="4" height="4" fill="#f8e83c"/><rect x="349" y="309" width="8" height="4" fill="#fce43c"/><rect x="357" y="309" width="16" height="4" fill="#fce03c"/><rect x="373" y="309" width="4" height="4" fill="#f8e83c"/><rect x="377" y="309" width="4" height="4" fill="#f8ec40"/><rect x="381" y="309" width="4" height="4" fill="#ecf040"/><rect x="385" y="309" width="4" height="4" fill="#d4f040"/><rect x="389" y="309" width="4" height="4" fill="#c4f040"/><rect x="393" y="309" width="4" height="4" fill="#b4f040"/><rect x="397" y="309" width="4" height="4" fill="#a8f040"/><rect x="401" y="309" width="4" height="4" fill="#90f040"/><rect x="405" y="309" width="4" height="4" fill="#78f040"/><rect x="409" y="309" width="32" height="4" fill="#60f040"/><rect x="441" y="309" width="4" height="4" fill="#68f040"/><rect x="445" y="309" width="4" height="4" fill="#6cf040"/><rect x="449" y="309" width="4" height="4" fill="#74f040"/><rect x="453" y="309" width="4" height="4" fill="#88f040"/><rect x="457" y="309" width="4" height="4" fill="#9cf040"/><rect x="461" y="309" width="4" height="4" fill="#b0f040"/><rect x="465" y="309" width="4" height="4" fill="#c0f040"/><rect x="469" y="309" width="20" height="4" fill="#ccf040"/><rect x="489" y="309" width="4" height="4" fill="#c8f040"/><rect x="493" y="309" width="4" height="4" fill="#b8f040"/><rect x="497" y="309" width="4" height="4" fill="#a8f040"/><rect x="501" y="309" width="4" height="4" fill="#a4f040"/><rect x="505" y="309" width="4" height="4" fill="#a8f040"/><rect x="509" y="309" width="4" height="4" fill="#acf040"/><rect x="513" y="309" width="4" height="4" fill="#bcf040"/><rect x="517" y="309" width="4" height="4" fill="#ccf040"/><rect x="521" y="309" width="72" height="4" fill="#d0f040"/><rect x="81" y="313" width="32" height="4" fill="#d0f040"/><rect x="113" y="313" width="4" height="4" fill="#c8f040"/><rect x="117" y="313" width="8" height="4" fill="#c0f040"/><rect x="125" y="313" width="4" height="4" fill="#c8f040"/><rect x="129" y="313" width="32" height="4" fill="#d0f040"/><rect x="161" y="313" width="4" height="4" fill="#c8f040"/><rect x="165" y="313" width="4" height="4" fill="#c0f040"/><rect x="169" y="313" width="4" height="4" fill="#b8f040"/><rect x="173" y="313" width="4" height="4" fill="#a4f040"/><rect x="177" y="313" width="4" height="4" fill="#90f040"/><rect x="181" y="313" width="8" height="4" fill="#8cf040"/><rect x="189" y="313" width="4" height="4" fill="#88f040"/><rect x="193" y="313" width="4" height="4" fill="#7cf040"/><rect x="197" y="313" width="16" height="4" fill="#70f040"/><rect x="213" y="313" width="4" height="4" fill="#7cf040"/><rect x="217" y="313" width="4" height="4" fill="#88f040"/><rect x="221" y="313" width="4" height="4" fill="#70f040"/><rect x="225" y="313" width="4" height="4" fill="#54f040"/><rect x="229" y="313" width="4" height="4" fill="#40f044"/><rect x="233" y="313" width="4" height="4" fill="#40f058"/><rect x="237" y="313" width="4" height="4" fill="#40f070"/><rect x="241" y="313" width="4" height="4" fill="#40f044"/><rect x="245" y="313" width="4" height="4" fill="#58f040"/><rect x="249" y="313" width="20" height="4" fill="#70f040"/><rect x="269" y="313" width="4" height="4" fill="#68f040"/><rect x="273" y="313" width="4" height="4" fill="#54f040"/><rect x="277" y="313" width="4" height="4" fill="#44f040"/><rect x="281" y="313" width="12" height="4" fill="#40f040"/><rect x="293" y="313" width="4" height="4" fill="#4cf040"/><rect x="297" y="313" width="4" height="4" fill="#54f040"/><rect x="301" y="313" width="4" height="4" fill="#58f040"/><rect x="305" y="313" width="4" height="4" fill="#60f040"/><rect x="309" y="313" width="12" height="4" fill="#68f040"/><rect x="321" y="313" width="4" height="4" fill="#78f040"/><rect x="325" y="313" width="4" height="4" fill="#90f040"/><rect x="329" y="313" width="4" height="4" fill="#a4f040"/><rect x="333" y="313" width="4" height="4" fill="#acf040"/><rect x="337" y="313" width="4" height="4" fill="#b4f040"/><rect x="341" y="313" width="4" height="4" fill="#bcf040"/><rect x="345" y="313" width="4" height="4" fill="#c4f040"/><rect x="349" y="313" width="4" height="4" fill="#ccf040"/><rect x="353" y="313" width="4" height="4" fill="#d8f040"/><rect x="357" y="313" width="4" height="4" fill="#e8f040"/><rect x="361" y="313" width="4" height="4" fill="#f8f040"/><rect x="365" y="313" width="4" height="4" fill="#f8e840"/><rect x="369" y="313" width="4" height="4" fill="#f8e83c"/><rect x="373" y="313" width="4" height="4" fill="#f8f040"/><rect x="377" y="313" width="4" height="4" fill="#d8f040"/><rect x="381" y="313" width="4" height="4" fill="#c0f040"/><rect x="385" y="313" width="4" height="4" fill="#b0f040"/><rect x="389" y="313" width="4" height="4" fill="#a0f040"/><rect x="393" y="313" width="4" height="4" fill="#98f040"/><rect x="397" y="313" width="4" height="4" fill="#8cf040"/><rect x="401" y="313" width="4" height="4" fill="#70f040"/><rect x="405" y="313" width="4" height="4" fill="#54f040"/><rect x="409" y="313" width="4" height="4" fill="#40f044"/><rect x="413" y="313" width="4" height="4" fill="#40f058"/><rect x="417" y="313" width="4" height="4" fill="#40f070"/><rect x="421" y="313" width="8" height="4" fill="#40f074"/><rect x="429" y="313" width="4" height="4" fill="#40f070"/><rect x="433" y="313" width="4" height="4" fill="#40f058"/><rect x="437" y="313" width="4" height="4" fill="#40f044"/><rect x="441" y="313" width="4" height="4" fill="#4cf040"/><rect x="445" y="313" width="4" height="4" fill="#60f040"/><rect x="449" y="313" width="4" height="4" fill="#70f040"/><rect x="453" y="313" width="4" height="4" fill="#7cf040"/><rect x="457" y="313" width="4" height="4" fill="#88f040"/><rect x="461" y="313" width="4" height="4" fill="#98f040"/><rect x="465" y="313" width="4" height="4" fill="#b0f040"/><rect x="469" y="313" width="20" height="4" fill="#bcf040"/><rect x="489" y="313" width="4" height="4" fill="#b8f040"/><rect x="493" y="313" width="4" height="4" fill="#a4f040"/><rect x="497" y="313" width="4" height="4" fill="#90f040"/><rect x="501" y="313" width="4" height="4" fill="#94f040"/><rect x="505" y="313" width="4" height="4" fill="#a0f040"/><rect x="509" y="313" width="4" height="4" fill="#acf040"/><rect x="513" y="313" width="4" height="4" fill="#bcf040"/><rect x="517" y="313" width="4" height="4" fill="#ccf040"/><rect x="521" y="313" width="72" height="4" fill="#d0f040"/><rect x="77" y="317" width="40" height="4" fill="#d0f040"/><rect x="117" y="317" width="8" height="4" fill="#ccf040"/><rect x="125" y="317" width="40" height="4" fill="#d0f040"/><rect x="165" y="317" width="4" height="4" fill="#ccf040"/><rect x="169" y="317" width="4" height="4" fill="#c8f040"/><rect x="173" y="317" width="4" height="4" fill="#b8f040"/><rect x="177" y="317" width="4" height="4" fill="#a8f040"/><rect x="181" y="317" width="8" height="4" fill="#a0f040"/><rect x="189" y="317" width="4" height="4" fill="#9cf040"/><rect x="193" y="317" width="4" height="4" fill="#88f040"/><rect x="197" y="317" width="4" height="4" fill="#74f040"/><rect x="201" y="317" width="16" height="4" fill="#70f040"/><rect x="217" y="317" width="4" height="4" fill="#74f040"/><rect x="221" y="317" width="4" height="4" fill="#58f040"/><rect x="225" y="317" width="4" height="4" fill="#40f058"/><rect x="229" y="317" width="4" height="4" fill="#40f098"/><rect x="233" y="317" width="4" height="4" fill="#40f0b0"/><rect x="237" y="317" width="4" height="4" fill="#40f0c8"/><rect x="241" y="317" width="4" height="4" fill="#40f098"/><rect x="245" y="317" width="4" height="4" fill="#48f040"/><rect x="249" y="317" width="20" height="4" fill="#70f040"/><rect x="269" y="317" width="4" height="4" fill="#64f040"/><rect x="273" y="317" width="4" height="4" fill="#44f040"/><rect x="277" y="317" width="4" height="4" fill="#40f080"/><rect x="281" y="317" width="12" height="4" fill="#40f090"/><rect x="293" y="317" width="4" height="4" fill="#40f08c"/><rect x="297" y="317" width="4" height="4" fill="#40f088"/><rect x="301" y="317" width="4" height="4" fill="#40f084"/><rect x="305" y="317" width="16" height="4" fill="#40f080"/><rect x="321" y="317" width="4" height="4" fill="#40f048"/><rect x="325" y="317" width="4" height="4" fill="#5cf040"/><rect x="329" y="317" width="4" height="4" fill="#78f040"/><rect x="333" y="317" width="8" height="4" fill="#7cf040"/><rect x="341" y="317" width="8" height="4" fill="#80f040"/><rect x="349" y="317" width="4" height="4" fill="#88f040"/><rect x="353" y="317" width="4" height="4" fill="#9cf040"/><rect x="357" y="317" width="4" height="4" fill="#b0f040"/><rect x="361" y="317" width="4" height="4" fill="#c8f040"/><rect x="365" y="317" width="4" height="4" fill="#f0f040"/><rect x="369" y="317" width="4" height="4" fill="#f8ec40"/><rect x="373" y="317" width="4" height="4" fill="#d8f040"/><rect x="377" y="317" width="4" height="4" fill="#b8f040"/><rect x="381" y="317" width="4" height="4" fill="#a0f040"/><rect x="385" y="317" width="4" height="4" fill="#88f040"/><rect x="389" y="317" width="8" height="4" fill="#78f040"/><rect x="397" y="317" width="4" height="4" fill="#74f040"/><rect x="401" y="317" width="4" height="4" fill="#58f040"/><rect x="405" y="317" width="4" height="4" fill="#40f058"/><rect x="409" y="317" width="4" height="4" fill="#40f098"/><rect x="413" y="317" width="4" height="4" fill="#40f0b0"/><rect x="417" y="317" width="4" height="4" fill="#40f0c8"/><rect x="421" y="317" width="8" height="4" fill="#40f0cc"/><rect x="429" y="317" width="4" height="4" fill="#40f0c8"/><rect x="433" y="317" width="4" height="4" fill="#40f0b0"/><rect x="437" y="317" width="4" height="4" fill="#40f098"/><rect x="441" y="317" width="4" height="4" fill="#40f058"/><rect x="445" y="317" width="4" height="4" fill="#54f040"/><rect x="449" y="317" width="8" height="4" fill="#70f040"/><rect x="457" y="317" width="4" height="4" fill="#74f040"/><rect x="461" y="317" width="4" height="4" fill="#84f040"/><rect x="465" y="317" width="4" height="4" fill="#9cf040"/><rect x="469" y="317" width="20" height="4" fill="#acf040"/><rect x="489" y="317" width="4" height="4" fill="#a8f040"/><rect x="493" y="317" width="4" height="4" fill="#90f040"/><rect x="497" y="317" width="4" height="4" fill="#78f040"/><rect x="501" y="317" width="4" height="4" fill="#84f040"/><rect x="505" y="317" width="4" height="4" fill="#98f040"/><rect x="509" y="317" width="4" height="4" fill="#acf040"/><rect x="513" y="317" width="4" height="4" fill="#bcf040"/><rect x="517" y="317" width="4" height="4" fill="#ccf040"/><rect x="521" y="317" width="72" height="4" fill="#d0f040"/><rect x="69" y="321" width="100" height="4" fill="#d0f040"/><rect x="169" y="321" width="4" height="4" fill="#ccf040"/><rect x="173" y="321" width="4" height="4" fill="#c0f040"/><rect x="177" y="321" width="4" height="4" fill="#b8f040"/><rect x="181" y="321" width="4" height="4" fill="#b0f040"/><rect x="185" y="321" width="4" height="4" fill="#acf040"/><rect x="189" y="321" width="4" height="4" fill="#a4f040"/><rect x="193" y="321" width="4" height="4" fill="#94f040"/><rect x="197" y="321" width="4" height="4" fill="#84f040"/><rect x="201" y="321" width="4" height="4" fill="#78f040"/><rect x="205" y="321" width="4" height="4" fill="#74f040"/><rect x="209" y="321" width="4" height="4" fill="#6cf040"/><rect x="213" y="321" width="4" height="4" fill="#60f040"/><rect x="217" y="321" width="4" height="4" fill="#54f040"/><rect x="221" y="321" width="4" height="4" fill="#40f04c"/><rect x="225" y="321" width="4" height="4" fill="#40f090"/><rect x="229" y="321" width="4" height="4" fill="#40f0b8"/><rect x="233" y="321" width="4" height="4" fill="#40f0d0"/><rect x="237" y="321" width="4" height="4" fill="#40f0e0"/><rect x="241" y="321" width="4" height="4" fill="#40f0cc"/><rect x="245" y="321" width="4" height="4" fill="#40f090"/><rect x="249" y="321" width="20" height="4" fill="#40f054"/><rect x="269" y="321" width="4" height="4" fill="#40f060"/><rect x="273" y="321" width="4" height="4" fill="#40f098"/><rect x="277" y="321" width="4" height="4" fill="#40f0bc"/><rect x="281" y="321" width="28" height="4" fill="#40f0c8"/><rect x="309" y="321" width="4" height="4" fill="#40f0c4"/><rect x="313" y="321" width="4" height="4" fill="#40f0bc"/><rect x="317" y="321" width="4" height="4" fill="#40f0b4"/><rect x="321" y="321" width="4" height="4" fill="#40f090"/><rect x="325" y="321" width="4" height="4" fill="#40f04c"/><rect x="329" y="321" width="12" height="4" fill="#50f040"/><rect x="341" y="321" width="4" height="4" fill="#58f040"/><rect x="345" y="321" width="4" height="4" fill="#64f040"/><rect x="349" y="321" width="4" height="4" fill="#70f040"/><rect x="353" y="321" width="4" height="4" fill="#84f040"/><rect x="357" y="321" width="4" height="4" fill="#94f040"/><rect x="361" y="321" width="4" height="4" fill="#a8f040"/><rect x="365" y="321" width="4" height="4" fill="#c0f040"/><rect x="369" y="321" width="4" height="4" fill="#c8f040"/><rect x="373" y="321" width="4" height="4" fill="#b4f040"/><rect x="377" y="321" width="4" height="4" fill="#9cf040"/><rect x="381" y="321" width="4" height="4" fill="#8cf040"/><rect x="385" y="321" width="4" height="4" fill="#78f040"/><rect x="389" y="321" width="4" height="4" fill="#6cf040"/><rect x="393" y="321" width="4" height="4" fill="#60f040"/><rect x="397" y="321" width="4" height="4" fill="#54f040"/><rect x="401" y="321" width="4" height="4" fill="#40f04c"/><rect x="405" y="321" width="4" height="4" fill="#40f090"/><rect x="409" y="321" width="4" height="4" fill="#40f0b8"/><rect x="413" y="321" width="4" height="4" fill="#40f0c8"/><rect x="417" y="321" width="16" height="4" fill="#40f0d8"/><rect x="433" y="321" width="4" height="4" fill="#40f0c8"/><rect x="437" y="321" width="4" height="4" fill="#40f0b8"/><rect x="441" y="321" width="4" height="4" fill="#40f090"/><rect x="445" y="321" width="4" height="4" fill="#40f04c"/><rect x="449" y="321" width="4" height="4" fill="#54f040"/><rect x="453" y="321" width="4" height="4" fill="#60f040"/><rect x="457" y="321" width="4" height="4" fill="#6cf040"/><rect x="461" y="321" width="4" height="4" fill="#80f040"/><rect x="465" y="321" width="4" height="4" fill="#98f040"/><rect x="469" y="321" width="12" height="4" fill="#a8f040"/><rect x="481" y="321" width="4" height="4" fill="#a4f040"/><rect x="485" y="321" width="4" height="4" fill="#9cf040"/><rect x="489" y="321" width="4" height="4" fill="#94f040"/><rect x="493" y="321" width="4" height="4" fill="#84f040"/><rect x="497" y="321" width="4" height="4" fill="#70f040"/><rect x="501" y="321" width="4" height="4" fill="#80f040"/><rect x="505" y="321" width="4" height="4" fill="#98f040"/><rect x="509" y="321" width="4" height="4" fill="#acf040"/><rect x="513" y="321" width="4" height="4" fill="#bcf040"/><rect x="517" y="321" width="4" height="4" fill="#ccf040"/><rect x="521" y="321" width="72" height="4" fill="#d0f040"/><rect x="69" y="325" width="104" height="4" fill="#d0f040"/><rect x="173" y="325" width="4" height="4" fill="#c8f040"/><rect x="177" y="325" width="4" height="4" fill="#c4f040"/><rect x="181" y="325" width="4" height="4" fill="#bcf040"/><rect x="185" y="325" width="4" height="4" fill="#b0f040"/><rect x="189" y="325" width="4" height="4" fill="#a8f040"/><rect x="193" y="325" width="4" height="4" fill="#a0f040"/><rect x="197" y="325" width="4" height="4" fill="#98f040"/><rect x="201" y="325" width="4" height="4" fill="#8cf040"/><rect x="205" y="325" width="4" height="4" fill="#78f040"/><rect x="209" y="325" width="4" height="4" fill="#68f040"/><rect x="213" y="325" width="4" height="4" fill="#4cf040"/><rect x="217" y="325" width="4" height="4" fill="#40f058"/><rect x="221" y="325" width="4" height="4" fill="#40f090"/><rect x="225" y="325" width="4" height="4" fill="#40f0b0"/><rect x="229" y="325" width="4" height="4" fill="#40f0d0"/><rect x="233" y="325" width="4" height="4" fill="#40f0e0"/><rect x="237" y="325" width="4" height="4" fill="#40ecec"/><rect x="241" y="325" width="4" height="4" fill="#40f0e8"/><rect x="245" y="325" width="4" height="4" fill="#40f0d8"/><rect x="249" y="325" width="20" height="4" fill="#40f0d0"/><rect x="269" y="325" width="4" height="4" fill="#40f0d4"/><rect x="273" y="325" width="4" height="4" fill="#40f0dc"/><rect x="277" y="325" width="36" height="4" fill="#40f0e4"/><rect x="313" y="325" width="4" height="4" fill="#40f0d8"/><rect x="317" y="325" width="4" height="4" fill="#40f0d0"/><rect x="321" y="325" width="4" height="4" fill="#40f0b0"/><rect x="325" y="325" width="4" height="4" fill="#40f090"/><rect x="329" y="325" width="12" height="4" fill="#40f068"/><rect x="341" y="325" width="4" height="4" fill="#40f040"/><rect x="345" y="325" width="4" height="4" fill="#58f040"/><rect x="349" y="325" width="4" height="4" fill="#70f040"/><rect x="353" y="325" width="4" height="4" fill="#78f040"/><rect x="357" y="325" width="4" height="4" fill="#80f040"/><rect x="361" y="325" width="4" height="4" fill="#88f040"/><rect x="365" y="325" width="4" height="4" fill="#90f040"/><rect x="369" y="325" width="4" height="4" fill="#98f040"/><rect x="373" y="325" width="4" height="4" fill="#8cf040"/><rect x="377" y="325" width="4" height="4" fill="#80f040"/><rect x="381" y="325" width="4" height="4" fill="#78f040"/><rect x="385" y="325" width="4" height="4" fill="#74f040"/><rect x="389" y="325" width="4" height="4" fill="#68f040"/><rect x="393" y="325" width="4" height="4" fill="#4cf040"/><rect x="397" y="325" width="4" height="4" fill="#40f058"/><rect x="401" y="325" width="4" height="4" fill="#40f090"/><rect x="405" y="325" width="4" height="4" fill="#40f0b0"/><rect x="409" y="325" width="4" height="4" fill="#40f0d0"/><rect x="413" y="325" width="4" height="4" fill="#40f0d4"/><rect x="417" y="325" width="16" height="4" fill="#40f0d8"/><rect x="433" y="325" width="4" height="4" fill="#40f0d4"/><rect x="437" y="325" width="4" height="4" fill="#40f0d0"/><rect x="441" y="325" width="4" height="4" fill="#40f0b0"/><rect x="445" y="325" width="4" height="4" fill="#40f090"/><rect x="449" y="325" width="4" height="4" fill="#40f058"/><rect x="453" y="325" width="4" height="4" fill="#4cf040"/><rect x="457" y="325" width="4" height="4" fill="#68f040"/><rect x="461" y="325" width="4" height="4" fill="#80f040"/><rect x="465" y="325" width="4" height="4" fill="#98f040"/><rect x="469" y="325" width="12" height="4" fill="#a8f040"/><rect x="481" y="325" width="4" height="4" fill="#9cf040"/><rect x="485" y="325" width="4" height="4" fill="#8cf040"/><rect x="489" y="325" width="4" height="4" fill="#80f040"/><rect x="493" y="325" width="4" height="4" fill="#78f040"/><rect x="497" y="325" width="4" height="4" fill="#70f040"/><rect x="501" y="325" width="4" height="4" fill="#80f040"/><rect x="505" y="325" width="4" height="4" fill="#98f040"/><rect x="509" y="325" width="4" height="4" fill="#acf040"/><rect x="513" y="325" width="4" height="4" fill="#bcf040"/><rect x="517" y="325" width="4" height="4" fill="#ccf040"/><rect x="521" y="325" width="72" height="4" fill="#d0f040"/><rect x="61" y="329" width="96" height="4" fill="#d0f040"/><rect x="157" y="329" width="24" height="4" fill="#ccf040"/><rect x="181" y="329" width="4" height="4" fill="#c0f040"/><rect x="185" y="329" width="4" height="4" fill="#b0f040"/><rect x="189" y="329" width="12" height="4" fill="#a0f040"/><rect x="201" y="329" width="4" height="4" fill="#90f040"/><rect x="205" y="329" width="4" height="4" fill="#78f040"/><rect x="209" y="329" width="4" height="4" fill="#58f040"/><rect x="213" y="329" width="4" height="4" fill="#40f054"/><rect x="217" y="329" width="4" height="4" fill="#40f09c"/><rect x="221" y="329" width="4" height="4" fill="#40f0c0"/><rect x="225" y="329" width="4" height="4" fill="#40f0d4"/><rect x="229" y="329" width="4" height="4" fill="#40f0e0"/><rect x="233" y="329" width="4" height="4" fill="#40ecec"/><rect x="237" y="329" width="4" height="4" fill="#40ecf8"/><rect x="241" y="329" width="20" height="4" fill="#40e8f8"/><rect x="261" y="329" width="48" height="4" fill="#40e4f8"/><rect x="309" y="329" width="4" height="4" fill="#40e8f8"/><rect x="313" y="329" width="4" height="4" fill="#40ecec"/><rect x="317" y="329" width="4" height="4" fill="#40f0e0"/><rect x="321" y="329" width="4" height="4" fill="#40f0d0"/><rect x="325" y="329" width="4" height="4" fill="#40f0b8"/><rect x="329" y="329" width="4" height="4" fill="#40f0a0"/><rect x="333" y="329" width="4" height="4" fill="#40f09c"/><rect x="337" y="329" width="4" height="4" fill="#40f098"/><rect x="341" y="329" width="4" height="4" fill="#40f060"/><rect x="345" y="329" width="4" height="4" fill="#50f040"/><rect x="349" y="329" width="20" height="4" fill="#70f040"/><rect x="369" y="329" width="4" height="4" fill="#6cf040"/><rect x="373" y="329" width="4" height="4" fill="#60f040"/><rect x="377" y="329" width="4" height="4" fill="#58f040"/><rect x="381" y="329" width="4" height="4" fill="#54f040"/><rect x="385" y="329" width="4" height="4" fill="#50f040"/><rect x="389" y="329" width="4" height="4" fill="#48f040"/><rect x="393" y="329" width="4" height="4" fill="#40f070"/><rect x="397" y="329" width="4" height="4" fill="#40f0a8"/><rect x="401" y="329" width="4" height="4" fill="#40f0c0"/><rect x="405" y="329" width="4" height="4" fill="#40f0d0"/><rect x="409" y="329" width="20" height="4" fill="#40f0d8"/><rect x="429" y="329" width="4" height="4" fill="#40f0dc"/><rect x="433" y="329" width="8" height="4" fill="#40f0d8"/><rect x="441" y="329" width="4" height="4" fill="#40f0d0"/><rect x="445" y="329" width="4" height="4" fill="#40f0b8"/><rect x="449" y="329" width="4" height="4" fill="#40f098"/><rect x="453" y="329" width="4" height="4" fill="#40f050"/><rect x="457" y="329" width="4" height="4" fill="#58f040"/><rect x="461" y="329" width="4" height="4" fill="#78f040"/><rect x="465" y="329" width="4" height="4" fill="#90f040"/><rect x="469" y="329" width="8" height="4" fill="#a4f040"/><rect x="477" y="329" width="4" height="4" fill="#a8f040"/><rect x="481" y="329" width="4" height="4" fill="#98f040"/><rect x="485" y="329" width="4" height="4" fill="#88f040"/><rect x="489" y="329" width="4" height="4" fill="#78f040"/><rect x="493" y="329" width="4" height="4" fill="#74f040"/><rect x="497" y="329" width="4" height="4" fill="#70f040"/><rect x="501" y="329" width="4" height="4" fill="#80f040"/><rect x="505" y="329" width="4" height="4" fill="#98f040"/><rect x="509" y="329" width="4" height="4" fill="#acf040"/><rect x="513" y="329" width="4" height="4" fill="#bcf040"/><rect x="517" y="329" width="4" height="4" fill="#ccf040"/><rect x="521" y="329" width="72" height="4" fill="#d0f040"/><rect x="61" y="333" width="92" height="4" fill="#d0f040"/><rect x="153" y="333" width="4" height="4" fill="#c8f040"/><rect x="157" y="333" width="4" height="4" fill="#c0f040"/><rect x="161" y="333" width="20" height="4" fill="#bcf040"/><rect x="181" y="333" width="4" height="4" fill="#b0f040"/><rect x="185" y="333" width="4" height="4" fill="#98f040"/><rect x="189" y="333" width="12" height="4" fill="#8cf040"/><rect x="201" y="333" width="4" height="4" fill="#70f040"/><rect x="205" y="333" width="4" height="4" fill="#54f040"/><rect x="209" y="333" width="4" height="4" fill="#40f054"/><rect x="213" y="333" width="4" height="4" fill="#40f09c"/><rect x="217" y="333" width="4" height="4" fill="#40f0d0"/><rect x="221" y="333" width="4" height="4" fill="#40f0e0"/><rect x="225" y="333" width="4" height="4" fill="#40ecf0"/><rect x="229" y="333" width="4" height="4" fill="#40ecf8"/><rect x="233" y="333" width="4" height="4" fill="#40e4f8"/><rect x="237" y="333" width="4" height="4" fill="#3ce0f8"/><rect x="241" y="333" width="4" height="4" fill="#3cd8f8"/><rect x="245" y="333" width="4" height="4" fill="#3cd4f8"/><rect x="249" y="333" width="12" height="4" fill="#38d0f8"/><rect x="261" y="333" width="4" height="4" fill="#38ccf8"/><rect x="265" y="333" width="4" height="4" fill="#38c8f8"/><rect x="269" y="333" width="32" height="4" fill="#38c4f8"/><rect x="301" y="333" width="4" height="4" fill="#38c8f8"/><rect x="305" y="333" width="4" height="4" fill="#38ccf8"/><rect x="309" y="333" width="4" height="4" fill="#3cd4f8"/><rect x="313" y="333" width="4" height="4" fill="#40e4f8"/><rect x="317" y="333" width="4" height="4" fill="#40ecec"/><rect x="321" y="333" width="4" height="4" fill="#40f0e0"/><rect x="325" y="333" width="4" height="4" fill="#40f0d0"/><rect x="329" y="333" width="4" height="4" fill="#40f0b8"/><rect x="333" y="333" width="4" height="4" fill="#40f09c"/><rect x="337" y="333" width="4" height="4" fill="#40f07c"/><rect x="341" y="333" width="4" height="4" fill="#40f044"/><rect x="345" y="333" width="4" height="4" fill="#58f040"/><rect x="349" y="333" width="20" height="4" fill="#70f040"/><rect x="369" y="333" width="4" height="4" fill="#60f040"/><rect x="373" y="333" width="4" height="4" fill="#40f058"/><rect x="377" y="333" width="4" height="4" fill="#40f0b0"/><rect x="381" y="333" width="4" height="4" fill="#40f0c8"/><rect x="385" y="333" width="4" height="4" fill="#40f0d4"/><rect x="389" y="333" width="4" height="4" fill="#40f0d8"/><rect x="393" y="333" width="4" height="4" fill="#40f0e0"/><rect x="397" y="333" width="4" height="4" fill="#40f0e8"/><rect x="401" y="333" width="4" height="4" fill="#40f0e4"/><rect x="405" y="333" width="4" height="4" fill="#40f0dc"/><rect x="409" y="333" width="12" height="4" fill="#40f0d8"/><rect x="421" y="333" width="4" height="4" fill="#40f0dc"/><rect x="425" y="333" width="4" height="4" fill="#40f0e4"/><rect x="429" y="333" width="4" height="4" fill="#40f0e8"/><rect x="433" y="333" width="4" height="4" fill="#40f0e0"/><rect x="437" y="333" width="4" height="4" fill="#40f0d8"/><rect x="441" y="333" width="4" height="4" fill="#40f0d4"/><rect x="445" y="333" width="4" height="4" fill="#40f0c8"/><rect x="449" y="333" width="4" height="4" fill="#40f0b4"/><rect x="453" y="333" width="4" height="4" fill="#40f08c"/><rect x="457" y="333" width="4" height="4" fill="#40f050"/><rect x="461" y="333" width="4" height="4" fill="#54f040"/><rect x="465" y="333" width="4" height="4" fill="#70f040"/><rect x="469" y="333" width="4" height="4" fill="#90f040"/><rect x="473" y="333" width="4" height="4" fill="#98f040"/><rect x="477" y="333" width="4" height="4" fill="#a4f040"/><rect x="481" y="333" width="4" height="4" fill="#a8f040"/><rect x="485" y="333" width="4" height="4" fill="#a4f040"/><rect x="489" y="333" width="4" height="4" fill="#9cf040"/><rect x="493" y="333" width="4" height="4" fill="#88f040"/><rect x="497" y="333" width="4" height="4" fill="#74f040"/><rect x="501" y="333" width="4" height="4" fill="#80f040"/><rect x="505" y="333" width="4" height="4" fill="#98f040"/><rect x="509" y="333" width="4" height="4" fill="#acf040"/><rect x="513" y="333" width="4" height="4" fill="#bcf040"/><rect x="517" y="333" width="4" height="4" fill="#ccf040"/><rect x="57" y="337" width="92" height="4" fill="#d0f040"/><rect x="149" y="337" width="4" height="4" fill="#ccf040"/><rect x="153" y="337" width="4" height="4" fill="#c0f040"/><rect x="157" y="337" width="4" height="4" fill="#b0f040"/><rect x="161" y="337" width="20" height="4" fill="#acf040"/><rect x="181" y="337" width="4" height="4" fill="#9cf040"/><rect x="185" y="337" width="4" height="4" fill="#84f040"/><rect x="189" y="337" width="12" height="4" fill="#74f040"/><rect x="201" y="337" width="4" height="4" fill="#58f040"/><rect x="205" y="337" width="4" height="4" fill="#40f058"/><rect x="209" y="337" width="4" height="4" fill="#40f09c"/><rect x="213" y="337" width="4" height="4" fill="#40f0d0"/><rect x="217" y="337" width="4" height="4" fill="#40ecec"/><rect x="221" y="337" width="4" height="4" fill="#40e8f8"/><rect x="225" y="337" width="4" height="4" fill="#3ce0f8"/><rect x="229" y="337" width="8" height="4" fill="#3cd4f8"/><rect x="237" y="337" width="4" height="4" fill="#38d0f8"/><rect x="241" y="337" width="4" height="4" fill="#38c8f8"/><rect x="245" y="337" width="4" height="4" fill="#38c4f8"/><rect x="249" y="337" width="12" height="4" fill="#34bcf8"/><rect x="261" y="337" width="4" height="4" fill="#34b8f8"/><rect x="265" y="337" width="4" height="4" fill="#30b0f8"/><rect x="269" y="337" width="32" height="4" fill="#2cacf8"/><rect x="301" y="337" width="4" height="4" fill="#30b0f8"/><rect x="305" y="337" width="4" height="4" fill="#34b8f8"/><rect x="309" y="337" width="4" height="4" fill="#38c0f8"/><rect x="313" y="337" width="4" height="4" fill="#3cd4f8"/><rect x="317" y="337" width="4" height="4" fill="#40e8f8"/><rect x="321" y="337" width="4" height="4" fill="#40ecec"/><rect x="325" y="337" width="4" height="4" fill="#40f0e0"/><rect x="329" y="337" width="4" height="4" fill="#40f0d0"/><rect x="333" y="337" width="4" height="4" fill="#40f09c"/><rect x="337" y="337" width="4" height="4" fill="#40f05c"/><rect x="341" y="337" width="4" height="4" fill="#48f040"/><rect x="345" y="337" width="4" height="4" fill="#5cf040"/><rect x="349" y="337" width="20" height="4" fill="#70f040"/><rect x="369" y="337" width="4" height="4" fill="#58f040"/><rect x="373" y="337" width="4" height="4" fill="#40f0b0"/><rect x="377" y="337" width="4" height="4" fill="#40ecf8"/><rect x="381" y="337" width="4" height="4" fill="#3cd8f8"/><rect x="385" y="337" width="4" height="4" fill="#38ccf8"/><rect x="389" y="337" width="4" height="4" fill="#38c8f8"/><rect x="393" y="337" width="4" height="4" fill="#38d0f8"/><rect x="397" y="337" width="4" height="4" fill="#3cd8f8"/><rect x="401" y="337" width="4" height="4" fill="#40e8f8"/><rect x="405" y="337" width="4" height="4" fill="#40f0e8"/><rect x="409" y="337" width="12" height="4" fill="#40f0d8"/><rect x="421" y="337" width="4" height="4" fill="#40f0e0"/><rect x="425" y="337" width="4" height="4" fill="#40ecec"/><rect x="429" y="337" width="4" height="4" fill="#40ecf0"/><rect x="433" y="337" width="4" height="4" fill="#40f0e8"/><rect x="437" y="337" width="4" height="4" fill="#40f0dc"/><rect x="441" y="337" width="8" height="4" fill="#40f0d8"/><rect x="449" y="337" width="4" height="4" fill="#40f0d0"/><rect x="453" y="337" width="4" height="4" fill="#40f0b4"/><rect x="457" y="337" width="4" height="4" fill="#40f098"/><rect x="461" y="337" width="4" height="4" fill="#40f058"/><rect x="465" y="337" width="4" height="4" fill="#58f040"/><rect x="469" y="337" width="4" height="4" fill="#78f040"/><rect x="473" y="337" width="4" height="4" fill="#90f040"/><rect x="477" y="337" width="4" height="4" fill="#a4f040"/><rect x="481" y="337" width="4" height="4" fill="#b0f040"/><rect x="485" y="337" width="4" height="4" fill="#bcf040"/><rect x="489" y="337" width="4" height="4" fill="#c0f040"/><rect x="493" y="337" width="4" height="4" fill="#9cf040"/><rect x="497" y="337" width="4" height="4" fill="#78f040"/><rect x="501" y="337" width="4" height="4" fill="#80f040"/><rect x="505" y="337" width="4" height="4" fill="#98f040"/><rect x="509" y="337" width="4" height="4" fill="#acf040"/><rect x="49" y="341" width="92" height="4" fill="#d0f040"/><rect x="141" y="341" width="4" height="4" fill="#ccf040"/><rect x="145" y="341" width="4" height="4" fill="#c8f040"/><rect x="149" y="341" width="4" height="4" fill="#c0f040"/><rect x="153" y="341" width="4" height="4" fill="#b8f040"/><rect x="157" y="341" width="4" height="4" fill="#acf040"/><rect x="161" y="341" width="20" height="4" fill="#a8f040"/><rect x="181" y="341" width="4" height="4" fill="#88f040"/><rect x="185" y="341" width="4" height="4" fill="#5cf040"/><rect x="189" y="341" width="4" height="4" fill="#44f040"/><rect x="193" y="341" width="4" height="4" fill="#40f044"/><rect x="197" y="341" width="4" height="4" fill="#40f050"/><rect x="201" y="341" width="4" height="4" fill="#40f080"/><rect x="205" y="341" width="4" height="4" fill="#40f0a8"/><rect x="209" y="341" width="4" height="4" fill="#40f0d0"/><rect x="213" y="341" width="4" height="4" fill="#40f0e8"/><rect x="217" y="341" width="4" height="4" fill="#40e8f8"/><rect x="221" y="341" width="4" height="4" fill="#3cdcf8"/><rect x="225" y="341" width="4" height="4" fill="#3cd4f8"/><rect x="229" y="341" width="4" height="4" fill="#38d0f8"/><rect x="233" y="341" width="4" height="4" fill="#38ccf8"/><rect x="237" y="341" width="4" height="4" fill="#38c8f8"/><rect x="241" y="341" width="4" height="4" fill="#38c0f8"/><rect x="245" y="341" width="4" height="4" fill="#34b8f8"/><rect x="249" y="341" width="12" height="4" fill="#30b4f8"/><rect x="261" y="341" width="4" height="4" fill="#30b0f8"/><rect x="265" y="341" width="4" height="4" fill="#2ca8f8"/><rect x="269" y="341" width="32" height="4" fill="#28a8f8"/><rect x="301" y="341" width="4" height="4" fill="#2ca8f8"/><rect x="305" y="341" width="4" height="4" fill="#30b0f8"/><rect x="309" y="341" width="4" height="4" fill="#30b8f8"/><rect x="313" y="341" width="4" height="4" fill="#38c4f8"/><rect x="317" y="341" width="4" height="4" fill="#3cd8f8"/><rect x="321" y="341" width="4" height="4" fill="#40e0f8"/><rect x="325" y="341" width="4" height="4" fill="#40e8f8"/><rect x="329" y="341" width="4" height="4" fill="#40ecf0"/><rect x="333" y="341" width="4" height="4" fill="#40f0e4"/><rect x="337" y="341" width="4" height="4" fill="#40f0d4"/><rect x="341" y="341" width="4" height="4" fill="#40f0cc"/><rect x="345" y="341" width="4" height="4" fill="#40f0c4"/><rect x="349" y="341" width="20" height="4" fill="#40f0bc"/><rect x="369" y="341" width="4" height="4" fill="#40f0d4"/><rect x="373" y="341" width="4" height="4" fill="#3ce0f8"/><rect x="377" y="341" width="4" height="4" fill="#34bcf8"/><rect x="381" y="341" width="4" height="4" fill="#30b0f8"/><rect x="385" y="341" width="8" height="4" fill="#2ca8f8"/><rect x="393" y="341" width="4" height="4" fill="#30b0f8"/><rect x="397" y="341" width="4" height="4" fill="#34b8f8"/><rect x="401" y="341" width="4" height="4" fill="#38c4f8"/><rect x="405" y="341" width="4" height="4" fill="#3cd8f8"/><rect x="409" y="341" width="4" height="4" fill="#40e8f8"/><rect x="413" y="341" width="16" height="4" fill="#40ecf8"/><rect x="429" y="341" width="4" height="4" fill="#40ecf4"/><rect x="433" y="341" width="4" height="4" fill="#40f0e8"/><rect x="437" y="341" width="4" height="4" fill="#40f0dc"/><rect x="441" y="341" width="12" height="4" fill="#40f0d8"/><rect x="453" y="341" width="4" height="4" fill="#40f0c8"/><rect x="457" y="341" width="4" height="4" fill="#40f0b8"/><rect x="461" y="341" width="4" height="4" fill="#40f080"/><rect x="465" y="341" width="4" height="4" fill="#4cf040"/><rect x="469" y="341" width="4" height="4" fill="#74f040"/><rect x="473" y="341" width="4" height="4" fill="#8cf040"/><rect x="477" y="341" width="4" height="4" fill="#a0f040"/><rect x="481" y="341" width="4" height="4" fill="#b4f040"/><rect x="485" y="341" width="4" height="4" fill="#c4f040"/><rect x="489" y="341" width="4" height="4" fill="#c8f040"/><rect x="493" y="341" width="4" height="4" fill="#b0f040"/><rect x="497" y="341" width="8" height="4" fill="#94f040"/><rect x="145" y="345" width="4" height="4" fill="#bcf040"/><rect x="149" y="345" width="4" height="4" fill="#b4f040"/><rect x="153" y="345" width="4" height="4" fill="#b0f040"/><rect x="157" y="345" width="24" height="4" fill="#a8f040"/><rect x="181" y="345" width="4" height="4" fill="#70f040"/><rect x="185" y="345" width="4" height="4" fill="#40f050"/><rect x="189" y="345" width="4" height="4" fill="#40f0a8"/><rect x="193" y="345" width="4" height="4" fill="#40f0bc"/><rect x="197" y="345" width="4" height="4" fill="#40f0d0"/><rect x="201" y="345" width="4" height="4" fill="#40f0d8"/><rect x="205" y="345" width="4" height="4" fill="#40f0e0"/><rect x="209" y="345" width="4" height="4" fill="#40f0e8"/><rect x="213" y="345" width="4" height="4" fill="#40ecf8"/><rect x="217" y="345" width="4" height="4" fill="#3cdcf8"/><rect x="221" y="345" width="4" height="4" fill="#3cd4f8"/><rect x="225" y="345" width="4" height="4" fill="#38d0f8"/><rect x="229" y="345" width="4" height="4" fill="#38ccf8"/><rect x="233" y="345" width="4" height="4" fill="#38c8f8"/><rect x="237" y="345" width="4" height="4" fill="#38c0f8"/><rect x="241" y="345" width="4" height="4" fill="#34b8f8"/><rect x="245" y="345" width="4" height="4" fill="#30b0f8"/><rect x="249" y="345" width="12" height="4" fill="#2cacf8"/><rect x="261" y="345" width="8" height="4" fill="#2ca8f8"/><rect x="269" y="345" width="32" height="4" fill="#28a8f8"/><rect x="301" y="345" width="8" height="4" fill="#2ca8f8"/><rect x="309" y="345" width="4" height="4" fill="#30b0f8"/><rect x="313" y="345" width="4" height="4" fill="#34b8f8"/><rect x="317" y="345" width="4" height="4" fill="#38c4f8"/><rect x="321" y="345" width="8" height="4" fill="#38c8f8"/><rect x="329" y="345" width="8" height="4" fill="#38ccf8"/><rect x="337" y="345" width="8" height="4" fill="#38c8f8"/><rect x="345" y="345" width="4" height="4" fill="#38c0f8"/><rect x="349" y="345" width="20" height="4" fill="#34c0f8"/><rect x="369" y="345" width="4" height="4" fill="#34b8f8"/><rect x="373" y="345" width="4" height="4" fill="#2ca8f8"/><rect x="377" y="345" width="4" height="4" fill="#2098f8"/><rect x="381" y="345" width="4" height="4" fill="#1c90f8"/><rect x="385" y="345" width="8" height="4" fill="#188cf8"/><rect x="393" y="345" width="4" height="4" fill="#2098f8"/><rect x="397" y="345" width="4" height="4" fill="#24a0f8"/><rect x="401" y="345" width="4" height="4" fill="#2ca8f8"/><rect x="405" y="345" width="4" height="4" fill="#30b4f8"/><rect x="409" y="345" width="4" height="4" fill="#34c0f8"/><rect x="413" y="345" width="4" height="4" fill="#38c4f8"/><rect x="417" y="345" width="4" height="4" fill="#38c8f8"/><rect x="421" y="345" width="4" height="4" fill="#3cd8f8"/><rect x="425" y="345" width="4" height="4" fill="#40e0f8"/><rect x="429" y="345" width="4" height="4" fill="#40ecf4"/><rect x="433" y="345" width="4" height="4" fill="#40f0e8"/><rect x="437" y="345" width="4" height="4" fill="#40f0dc"/><rect x="441" y="345" width="12" height="4" fill="#40f0d8"/><rect x="453" y="345" width="4" height="4" fill="#40f0d4"/><rect x="457" y="345" width="4" height="4" fill="#40f0d0"/><rect x="461" y="345" width="4" height="4" fill="#40f098"/><rect x="465" y="345" width="4" height="4" fill="#48f040"/><rect x="469" y="345" width="4" height="4" fill="#74f040"/><rect x="473" y="345" width="4" height="4" fill="#8cf040"/><rect x="477" y="345" width="4" height="4" fill="#a0f040"/><rect x="481" y="345" width="4" height="4" fill="#b4f040"/><rect x="485" y="345" width="4" height="4" fill="#c4f040"/><rect x="489" y="345" width="4" height="4" fill="#ccf040"/><rect x="493" y="345" width="4" height="4" fill="#c0f040"/><rect x="149" y="349" width="24" height="4" fill="#a8f040"/><rect x="173" y="349" width="4" height="4" fill="#9cf040"/><rect x="177" y="349" width="4" height="4" fill="#94f040"/><rect x="181" y="349" width="4" height="4" fill="#58f040"/><rect x="185" y="349" width="4" height="4" fill="#40f098"/><rect x="189" y="349" width="4" height="4" fill="#40f0dc"/><rect x="193" y="349" width="4" height="4" fill="#40f0e8"/><rect x="197" y="349" width="4" height="4" fill="#40ecf4"/><rect x="201" y="349" width="8" height="4" fill="#40ecf8"/><rect x="209" y="349" width="4" height="4" fill="#40e8f8"/><rect x="213" y="349" width="4" height="4" fill="#3ce0f8"/><rect x="217" y="349" width="8" height="4" fill="#38d0f8"/><rect x="225" y="349" width="4" height="4" fill="#38ccf8"/><rect x="229" y="349" width="4" height="4" fill="#38c8f8"/><rect x="233" y="349" width="4" height="4" fill="#34c0f8"/><rect x="237" y="349" width="4" height="4" fill="#30b8f8"/><rect x="241" y="349" width="4" height="4" fill="#30b0f8"/><rect x="245" y="349" width="4" height="4" fill="#2ca8f8"/><rect x="249" y="349" width="8" height="4" fill="#28a4f8"/><rect x="257" y="349" width="52" height="4" fill="#28a8f8"/><rect x="309" y="349" width="4" height="4" fill="#2ca8f8"/><rect x="313" y="349" width="4" height="4" fill="#30b0f8"/><rect x="317" y="349" width="12" height="4" fill="#30b4f8"/><rect x="329" y="349" width="4" height="4" fill="#30b0f8"/><rect x="333" y="349" width="4" height="4" fill="#2ca8f8"/><rect x="337" y="349" width="4" height="4" fill="#28a4f8"/><rect x="341" y="349" width="4" height="4" fill="#209cf8"/><rect x="345" y="349" width="4" height="4" fill="#1c90f8"/><rect x="349" y="349" width="20" height="4" fill="#1888f8"/><rect x="369" y="349" width="4" height="4" fill="#1884f8"/><rect x="373" y="349" width="4" height="4" fill="#1078f8"/><rect x="377" y="349" width="4" height="4" fill="#1068f8"/><rect x="381" y="349" width="8" height="4" fill="#1464f4"/><rect x="389" y="349" width="4" height="4" fill="#1068f8"/><rect x="393" y="349" width="4" height="4" fill="#107cf8"/><rect x="397" y="349" width="4" height="4" fill="#1888f8"/><rect x="401" y="349" width="4" height="4" fill="#2098f8"/><rect x="405" y="349" width="4" height="4" fill="#28a0f8"/><rect x="409" y="349" width="4" height="4" fill="#2ca8f8"/><rect x="413" y="349" width="4" height="4" fill="#30b0f8"/><rect x="417" y="349" width="4" height="4" fill="#34b8f8"/><rect x="421" y="349" width="4" height="4" fill="#38c8f8"/><rect x="425" y="349" width="4" height="4" fill="#3cdcf8"/><rect x="429" y="349" width="4" height="4" fill="#40ecf4"/><rect x="433" y="349" width="4" height="4" fill="#40f0e8"/><rect x="437" y="349" width="4" height="4" fill="#40f0dc"/><rect x="441" y="349" width="20" height="4" fill="#40f0d8"/><rect x="461" y="349" width="4" height="4" fill="#40f0a8"/><rect x="465" y="349" width="4" height="4" fill="#40f04c"/><rect x="469" y="349" width="4" height="4" fill="#64f040"/><rect x="473" y="349" width="4" height="4" fill="#84f040"/><rect x="477" y="349" width="4" height="4" fill="#a0f040"/><rect x="481" y="349" width="4" height="4" fill="#b4f040"/><rect x="485" y="349" width="4" height="4" fill="#c4f040"/><rect x="149" y="353" width="20" height="4" fill="#a8f040"/><rect x="169" y="353" width="4" height="4" fill="#9cf040"/><rect x="173" y="353" width="4" height="4" fill="#70f040"/><rect x="177" y="353" width="4" height="4" fill="#48f040"/><rect x="181" y="353" width="4" height="4" fill="#40f07c"/><rect x="185" y="353" width="4" height="4" fill="#40f0b8"/><rect x="189" y="353" width="4" height="4" fill="#40f0dc"/><rect x="193" y="353" width="4" height="4" fill="#40f0e8"/><rect x="197" y="353" width="4" height="4" fill="#40ecf4"/><rect x="201" y="353" width="8" height="4" fill="#40ecf8"/><rect x="209" y="353" width="4" height="4" fill="#40e8f8"/><rect x="213" y="353" width="4" height="4" fill="#3ce0f8"/><rect x="217" y="353" width="4" height="4" fill="#38d0f8"/><rect x="221" y="353" width="4" height="4" fill="#38ccf8"/><rect x="225" y="353" width="4" height="4" fill="#38c8f8"/><rect x="229" y="353" width="4" height="4" fill="#34c0f8"/><rect x="233" y="353" width="4" height="4" fill="#30b4f8"/><rect x="237" y="353" width="4" height="4" fill="#28a8f8"/><rect x="241" y="353" width="4" height="4" fill="#28a0f8"/><rect x="245" y="353" width="4" height="4" fill="#249cf8"/><rect x="249" y="353" width="4" height="4" fill="#209cf8"/><rect x="253" y="353" width="4" height="4" fill="#28a0f8"/><rect x="257" y="353" width="4" height="4" fill="#28a4f8"/><rect x="261" y="353" width="52" height="4" fill="#28a8f8"/><rect x="313" y="353" width="8" height="4" fill="#28a4f8"/><rect x="321" y="353" width="4" height="4" fill="#28a0f8"/><rect x="325" y="353" width="4" height="4" fill="#249cf8"/><rect x="329" y="353" width="4" height="4" fill="#2098f8"/><rect x="333" y="353" width="4" height="4" fill="#2094f8"/><rect x="337" y="353" width="4" height="4" fill="#1c90f8"/><rect x="341" y="353" width="4" height="4" fill="#1884f8"/><rect x="345" y="353" width="4" height="4" fill="#1078f8"/><rect x="349" y="353" width="20" height="4" fill="#1468f8"/><rect x="369" y="353" width="4" height="4" fill="#1468f4"/><rect x="373" y="353" width="16" height="4" fill="#1464f4"/><rect x="389" y="353" width="4" height="4" fill="#1068f8"/><rect x="393" y="353" width="4" height="4" fill="#107cf8"/><rect x="397" y="353" width="4" height="4" fill="#1888f8"/><rect x="401" y="353" width="4" height="4" fill="#2098f8"/><rect x="405" y="353" width="4" height="4" fill="#28a8f8"/><rect x="409" y="353" width="4" height="4" fill="#30b0f8"/><rect x="413" y="353" width="4" height="4" fill="#34b8f8"/><rect x="417" y="353" width="4" height="4" fill="#38c0f8"/><rect x="421" y="353" width="4" height="4" fill="#38d0f8"/><rect x="425" y="353" width="4" height="4" fill="#3ce0f8"/><rect x="429" y="353" width="4" height="4" fill="#40ecf4"/><rect x="433" y="353" width="4" height="4" fill="#40f0e8"/><rect x="437" y="353" width="4" height="4" fill="#40f0dc"/><rect x="441" y="353" width="20" height="4" fill="#40f0d8"/><rect x="461" y="353" width="4" height="4" fill="#40f0c0"/><rect x="465" y="353" width="4" height="4" fill="#40f098"/><rect x="469" y="353" width="4" height="4" fill="#40f058"/><rect x="473" y="353" width="4" height="4" fill="#60f040"/><rect x="177" y="357" width="4" height="4" fill="#40f0ac"/><rect x="181" y="357" width="4" height="4" fill="#40f0d0"/><rect x="185" y="357" width="4" height="4" fill="#40f0d4"/><rect x="189" y="357" width="4" height="4" fill="#40f0dc"/><rect x="193" y="357" width="4" height="4" fill="#40f0e8"/><rect x="197" y="357" width="4" height="4" fill="#40ecf4"/><rect x="201" y="357" width="8" height="4" fill="#40ecf8"/><rect x="209" y="357" width="4" height="4" fill="#40e8f8"/><rect x="213" y="357" width="4" height="4" fill="#3ce0f8"/><rect x="217" y="357" width="4" height="4" fill="#38d0f8"/><rect x="221" y="357" width="4" height="4" fill="#38c8f8"/><rect x="225" y="357" width="4" height="4" fill="#38c0f8"/><rect x="229" y="357" width="4" height="4" fill="#30b8f8"/><rect x="233" y="357" width="4" height="4" fill="#28a8f8"/><rect x="237" y="357" width="4" height="4" fill="#2098f8"/><rect x="241" y="357" width="12" height="4" fill="#1c90f8"/><rect x="253" y="357" width="4" height="4" fill="#209cf8"/><rect x="257" y="357" width="4" height="4" fill="#28a4f8"/><rect x="261" y="357" width="48" height="4" fill="#28a8f8"/><rect x="309" y="357" width="4" height="4" fill="#28a4f8"/><rect x="313" y="357" width="4" height="4" fill="#249cf8"/><rect x="317" y="357" width="4" height="4" fill="#2094f8"/><rect x="321" y="357" width="4" height="4" fill="#1888f8"/><rect x="325" y="357" width="4" height="4" fill="#1480f8"/><rect x="329" y="357" width="8" height="4" fill="#1074f8"/><rect x="337" y="357" width="4" height="4" fill="#1070f8"/><rect x="341" y="357" width="4" height="4" fill="#1460f4"/><rect x="345" y="357" width="4" height="4" fill="#1848f0"/><rect x="349" y="357" width="20" height="4" fill="#2038ec"/><rect x="369" y="357" width="4" height="4" fill="#1c3cf0"/><rect x="373" y="357" width="4" height="4" fill="#184cf0"/><rect x="377" y="357" width="4" height="4" fill="#1460f4"/><rect x="381" y="357" width="8" height="4" fill="#1464f4"/><rect x="389" y="357" width="4" height="4" fill="#1068f8"/><rect x="393" y="357" width="4" height="4" fill="#107cf8"/><rect x="397" y="357" width="4" height="4" fill="#1888f8"/><rect x="401" y="357" width="4" height="4" fill="#209cf8"/><rect x="405" y="357" width="4" height="4" fill="#2cacf8"/><rect x="409" y="357" width="4" height="4" fill="#34b8f8"/><rect x="413" y="357" width="4" height="4" fill="#38c0f8"/><rect x="417" y="357" width="4" height="4" fill="#38c8f8"/><rect x="421" y="357" width="4" height="4" fill="#3cd8f8"/><rect x="425" y="357" width="4" height="4" fill="#40e0f8"/><rect x="429" y="357" width="4" height="4" fill="#40ecf4"/><rect x="433" y="357" width="4" height="4" fill="#40f0e8"/><rect x="437" y="357" width="4" height="4" fill="#40f0dc"/><rect x="441" y="357" width="20" height="4" fill="#40f0d8"/><rect x="461" y="357" width="4" height="4" fill="#40f0d4"/><rect x="193" y="361" width="4" height="4" fill="#40f0e8"/><rect x="197" y="361" width="4" height="4" fill="#40ecf4"/><rect x="201" y="361" width="8" height="4" fill="#40e8f8"/><rect x="209" y="361" width="4" height="4" fill="#40e0f8"/><rect x="213" y="361" width="4" height="4" fill="#3cd8f8"/><rect x="217" y="361" width="4" height="4" fill="#38d0f8"/><rect x="221" y="361" width="4" height="4" fill="#38c8f8"/><rect x="225" y="361" width="4" height="4" fill="#34c0f8"/><rect x="229" y="361" width="4" height="4" fill="#30b4f8"/><rect x="233" y="361" width="4" height="4" fill="#28a4f8"/><rect x="237" y="361" width="4" height="4" fill="#1c90f8"/><rect x="241" y="361" width="8" height="4" fill="#188cf8"/><rect x="249" y="361" width="4" height="4" fill="#1c90f8"/><rect x="253" y="361" width="4" height="4" fill="#2098f8"/><rect x="257" y="361" width="4" height="4" fill="#28a4f8"/><rect x="261" y="361" width="40" height="4" fill="#28a8f8"/><rect x="301" y="361" width="4" height="4" fill="#28a4f8"/><rect x="305" y="361" width="4" height="4" fill="#28a0f8"/><rect x="309" y="361" width="4" height="4" fill="#24a0f8"/><rect x="313" y="361" width="4" height="4" fill="#2098f8"/><rect x="317" y="361" width="4" height="4" fill="#1c8cf8"/><rect x="321" y="361" width="4" height="4" fill="#1484f8"/><rect x="325" y="361" width="4" height="4" fill="#1078f8"/><rect x="329" y="361" width="12" height="4" fill="#1464f4"/><rect x="341" y="361" width="4" height="4" fill="#1458f4"/><rect x="345" y="361" width="4" height="4" fill="#1848f0"/><rect x="349" y="361" width="12" height="4" fill="#1c3cf0"/><rect x="361" y="361" width="4" height="4" fill="#1840f0"/><rect x="365" y="361" width="4" height="4" fill="#1848f0"/><rect x="369" y="361" width="4" height="4" fill="#1454f4"/><rect x="373" y="361" width="4" height="4" fill="#1460f4"/><rect x="377" y="361" width="4" height="4" fill="#1070f8"/><rect x="381" y="361" width="4" height="4" fill="#1078f8"/><rect x="385" y="361" width="4" height="4" fill="#1480f8"/><rect x="389" y="361" width="4" height="4" fill="#1484f8"/><rect x="393" y="361" width="4" height="4" fill="#188cf8"/><rect x="397" y="361" width="4" height="4" fill="#1c94f8"/><rect x="401" y="361" width="4" height="4" fill="#28a0f8"/><rect x="405" y="361" width="4" height="4" fill="#30b0f8"/><rect x="409" y="361" width="4" height="4" fill="#34bcf8"/><rect x="413" y="361" width="4" height="4" fill="#38c4f8"/><rect x="417" y="361" width="4" height="4" fill="#38ccf8"/><rect x="421" y="361" width="4" height="4" fill="#3cd4f8"/><rect x="425" y="361" width="4" height="4" fill="#3cdcf8"/><rect x="429" y="361" width="4" height="4" fill="#40e8f8"/><rect x="433" y="361" width="4" height="4" fill="#40ecec"/><rect x="437" y="361" width="4" height="4" fill="#40f0dc"/><rect x="441" y="361" width="28" height="4" fill="#40f0d8"/><rect x="209" y="365" width="4" height="4" fill="#3cd8f8"/><rect x="213" y="365" width="4" height="4" fill="#3cd4f8"/><rect x="217" y="365" width="4" height="4" fill="#38d0f8"/><rect x="221" y="365" width="4" height="4" fill="#38c8f8"/><rect x="225" y="365" width="4" height="4" fill="#34c0f8"/><rect x="229" y="365" width="4" height="4" fill="#30b4f8"/><rect x="233" y="365" width="4" height="4" fill="#28a4f8"/><rect x="237" y="365" width="4" height="4" fill="#1c90f8"/><rect x="241" y="365" width="8" height="4" fill="#188cf8"/><rect x="249" y="365" width="4" height="4" fill="#1c90f8"/><rect x="253" y="365" width="4" height="4" fill="#2098f8"/><rect x="257" y="365" width="4" height="4" fill="#28a4f8"/><rect x="261" y="365" width="40" height="4" fill="#28a8f8"/><rect x="301" y="365" width="4" height="4" fill="#28a0f8"/><rect x="305" y="365" width="4" height="4" fill="#209cf8"/><rect x="309" y="365" width="4" height="4" fill="#2094f8"/><rect x="313" y="365" width="4" height="4" fill="#1c90f8"/><rect x="317" y="365" width="4" height="4" fill="#188cf8"/><rect x="321" y="365" width="4" height="4" fill="#1484f8"/><rect x="325" y="365" width="4" height="4" fill="#1078f8"/><rect x="329" y="365" width="12" height="4" fill="#1464f4"/><rect x="341" y="365" width="4" height="4" fill="#1460f4"/><rect x="345" y="365" width="4" height="4" fill="#1458f4"/><rect x="349" y="365" width="12" height="4" fill="#1450f4"/><rect x="361" y="365" width="4" height="4" fill="#1460f4"/><rect x="365" y="365" width="4" height="4" fill="#1070f8"/><rect x="369" y="365" width="4" height="4" fill="#107cf8"/><rect x="373" y="365" width="8" height="4" fill="#1480f8"/><rect x="381" y="365" width="4" height="4" fill="#1888f8"/><rect x="385" y="365" width="4" height="4" fill="#1c90f8"/><rect x="389" y="365" width="4" height="4" fill="#2098f8"/><rect x="393" y="365" width="4" height="4" fill="#249cf8"/><rect x="397" y="365" width="4" height="4" fill="#24a0f8"/><rect x="401" y="365" width="4" height="4" fill="#28a8f8"/><rect x="405" y="365" width="4" height="4" fill="#30b0f8"/><rect x="409" y="365" width="4" height="4" fill="#34bcf8"/><rect x="413" y="365" width="4" height="4" fill="#38c4f8"/><rect x="417" y="365" width="4" height="4" fill="#38ccf8"/><rect x="421" y="365" width="4" height="4" fill="#38d0f8"/><rect x="425" y="365" width="4" height="4" fill="#3cd4f8"/><rect x="429" y="365" width="4" height="4" fill="#3cdcf8"/><rect x="229" y="369" width="4" height="4" fill="#30b4f8"/><rect x="233" y="369" width="4" height="4" fill="#28a4f8"/><rect x="237" y="369" width="4" height="4" fill="#1c90f8"/><rect x="241" y="369" width="8" height="4" fill="#188cf8"/><rect x="249" y="369" width="4" height="4" fill="#1c90f8"/><rect x="253" y="369" width="4" height="4" fill="#2098f8"/><rect x="257" y="369" width="4" height="4" fill="#28a4f8"/><rect x="261" y="369" width="40" height="4" fill="#28a8f8"/><rect x="301" y="369" width="4" height="4" fill="#24a0f8"/><rect x="305" y="369" width="4" height="4" fill="#2094f8"/><rect x="309" y="369" width="12" height="4" fill="#188cf8"/><rect x="321" y="369" width="4" height="4" fill="#1484f8"/><rect x="325" y="369" width="4" height="4" fill="#1078f8"/><rect x="329" y="369" width="32" height="4" fill="#1464f4"/><rect x="361" y="369" width="4" height="4" fill="#1078f8"/><rect x="365" y="369" width="4" height="4" fill="#1484f8"/><rect x="369" y="369" width="12" height="4" fill="#188cf8"/><rect x="381" y="369" width="4" height="4" fill="#2094f8"/><rect x="385" y="369" width="4" height="4" fill="#24a0f8"/><rect x="389" y="369" width="12" height="4" fill="#28a8f8"/><rect x="401" y="369" width="4" height="4" fill="#2cacf8"/><rect x="405" y="369" width="4" height="4" fill="#30b4f8"/><rect x="409" y="369" width="4" height="4" fill="#34bcf8"/></g><path d="M203,332.5 L225,340 L245,346 L260,351.5 L285,359 L311,364.5 L328,368" fill="none" stroke="#78f048" stroke-width="3.2" stroke-linejoin="round" filter="url(#bl1)"/></g>
<path d="M186.37,350.6 186.97,350.09 187.61,349.59 188.28,349.1 188.98,348.61 189.71,348.14 190.47,347.66 191.26,347.2 192.09,346.74 192.94,346.29 193.82,345.84 194.73,345.4 195.66,344.97 196.63,344.54 197.62,344.13 198.63,343.71 199.67,343.31 200.74,342.91 201.83,342.51 202.95,342.13 204.09,341.75 205.25,341.37 206.44,341 207.65,340.64 208.88,340.29 210.13,339.94 211.41,339.6 212.7,339.26 214.02,338.93 215.36,338.6 216.71,338.29 218.09,337.97 219.48,337.67 220.9,337.37 222.33,337.07 223.78,336.78 225.25,336.5 226.73,336.23 228.23,335.95 229.75,335.69 231.28,335.43 232.83,335.18 234.39,334.93 235.97,334.69 237.56,334.45 239.17,334.22 240.79,333.99 242.43,333.77 244.08,333.56 245.74,333.35 247.41,333.14 249.1,332.95 250.8,332.75 252.51,332.57 254.23,332.38 255.96,332.21 257.7,332.03 259.45,331.87 261.21,331.71 262.99,331.55 264.77,331.4 266.56,331.25 268.35,331.11 270.16,330.98 271.98,330.85 273.8,330.72 275.63,330.6 277.47,330.49 279.31,330.38 281.16,330.27 283.02,330.17 284.88,330.08 286.75,329.99 288.62,329.9 290.5,329.82 292.39,329.75 294.27,329.67 296.17,329.61 298.06,329.55 299.96,329.49 301.86,329.44 303.77,329.4 305.68,329.35 307.59,329.32 309.5,329.29 311.41,329.26 313.33,329.24 315.25,329.22 317.16,329.21 319.08,329.2 321,329.2 322.92,329.2 324.84,329.21 326.75,329.22 328.67,329.24 330.59,329.26 332.5,329.29 334.41,329.32 336.32,329.35 338.23,329.4 340.14,329.44 342.04,329.49 343.94,329.55 345.83,329.61 347.73,329.67 349.61,329.75 351.5,329.82 353.38,329.9 355.25,329.99 357.12,330.08 358.98,330.17 360.84,330.27 362.69,330.38 364.53,330.49 366.37,330.6 368.2,330.72 370.02,330.85 371.84,330.98 373.65,331.11 375.44,331.25 377.23,331.4 379.01,331.55 380.79,331.71 382.55,331.87 384.3,332.03 386.04,332.21 387.77,332.38 389.49,332.57 391.2,332.75 392.9,332.95 394.59,333.14 396.26,333.35 397.92,333.56 399.57,333.77 401.21,333.99 402.83,334.22 404.44,334.45 406.03,334.69 407.61,334.93 409.17,335.18 410.72,335.43 412.25,335.69 413.77,335.95 415.27,336.23 416.75,336.5 418.22,336.78 419.67,337.07 421.1,337.37 422.52,337.67 423.91,337.97 425.29,338.29 426.64,338.6 427.98,338.93 429.3,339.26 430.59,339.6 431.87,339.94 433.12,340.29 434.35,340.64 435.56,341 436.75,341.37 437.91,341.75 439.05,342.13 440.17,342.51 441.26,342.91 442.33,343.31 443.37,343.71 444.38,344.13 445.37,344.54 446.34,344.97 447.27,345.4 448.18,345.84 449.06,346.29 449.91,346.74 450.74,347.2 451.53,347.66 452.29,348.14 453.02,348.61 453.72,349.1 454.39,349.59 455.03,350.09 455.63,350.6 M87.81,301.32 89.59,300.81 91.39,300.32 93.23,299.84 95.1,299.37 97,298.91 98.92,298.46 100.87,298.02 102.85,297.59 104.86,297.17 106.89,296.76 108.94,296.36 111.03,295.97 113.13,295.58 115.26,295.21 117.42,294.84 119.6,294.48 121.8,294.13 124.02,293.79 126.26,293.45 128.53,293.13 130.82,292.81 133.13,292.49 135.46,292.19 137.8,291.89 140.17,291.6 142.56,291.31 144.97,291.03 147.39,290.76 149.84,290.49 152.3,290.23 154.78,289.98 157.27,289.73 159.79,289.49 162.32,289.25 164.86,289.02 167.43,288.8 170,288.58 172.6,288.37 175.2,288.16 177.82,287.95 180.46,287.76 183.11,287.56 185.78,287.37 188.45,287.19 191.14,287.01 193.85,286.84 196.56,286.67 199.29,286.51 202.03,286.35 204.78,286.19 207.54,286.04 210.32,285.9 213.1,285.76 215.89,285.62 218.7,285.49 221.51,285.36 224.34,285.23 227.17,285.11 230.01,285 232.86,284.89 235.72,284.78 238.59,284.67 241.46,284.57 244.34,284.48 247.23,284.39 250.13,284.3 253.03,284.21 255.94,284.13 258.86,284.06 261.78,283.98 264.71,283.91 267.64,283.85 270.58,283.79 273.52,283.73 276.46,283.67 279.41,283.62 282.37,283.57 285.33,283.53 288.29,283.49 291.25,283.45 294.22,283.42 297.19,283.39 300.16,283.36 303.13,283.34 306.11,283.32 309.09,283.31 312.06,283.29 315.04,283.29 318.02,283.28 321,283.28 323.98,283.28 326.96,283.29 329.94,283.29 332.91,283.31 335.89,283.32 338.87,283.34 341.84,283.36 344.81,283.39 347.78,283.42 350.75,283.45 353.71,283.49 356.67,283.53 359.63,283.57 362.59,283.62 365.54,283.67 368.48,283.73 371.42,283.79 374.36,283.85 377.29,283.91 380.22,283.98 383.14,284.06 386.06,284.13 388.97,284.21 391.87,284.3 394.77,284.39 397.66,284.48 400.54,284.57 403.41,284.67 406.28,284.78 409.14,284.89 411.99,285 414.83,285.11 417.66,285.23 420.49,285.36 423.3,285.49 426.11,285.62 428.9,285.76 431.68,285.9 434.46,286.04 437.22,286.19 439.97,286.35 442.71,286.51 445.44,286.67 448.15,286.84 450.86,287.01 453.55,287.19 456.22,287.37 458.89,287.56 461.54,287.76 464.18,287.95 466.8,288.16 469.4,288.37 472,288.58 474.57,288.8 477.14,289.02 479.68,289.25 482.21,289.49 484.73,289.73 487.22,289.98 489.7,290.23 492.16,290.49 494.61,290.76 497.03,291.03 499.44,291.31 501.83,291.6 504.2,291.89 506.54,292.19 508.87,292.49 511.18,292.81 513.47,293.13 515.74,293.45 517.98,293.79 520.2,294.13 522.4,294.48 524.58,294.84 526.74,295.21 528.87,295.58 530.97,295.97 533.06,296.36 535.11,296.76 537.14,297.17 539.15,297.59 541.13,298.02 543.08,298.46 545,298.91 546.9,299.37 548.77,299.84 550.61,300.32 552.41,300.81 554.19,301.32 M51.73,234 54.09,234 56.47,234 58.87,234 61.3,234 63.74,234 66.2,234 68.67,234 71.17,234 73.69,234 76.23,234 78.78,234 81.35,234 83.95,234 86.56,234 89.18,234 91.83,234 94.49,234 97.17,234 99.87,234 102.58,234 105.31,234 108.06,234 110.82,234 113.6,234 116.4,234 119.21,234 122.03,234 124.87,234 127.73,234 130.6,234 133.49,234 136.38,234 139.3,234 142.23,234 145.17,234 148.12,234 151.09,234 154.07,234 157.06,234 160.07,234 163.08,234 166.11,234 169.16,234 172.21,234 175.27,234 178.35,234 181.44,234 184.53,234 187.64,234 190.76,234 193.89,234 197.02,234 200.17,234 203.33,234 206.49,234 209.66,234 212.85,234 216.04,234 219.24,234 222.44,234 225.66,234 228.88,234 232.1,234 235.34,234 238.58,234 241.83,234 245.08,234 248.34,234 251.6,234 254.87,234 258.15,234 261.43,234 264.71,234 268,234 271.3,234 274.59,234 277.89,234 281.2,234 284.5,234 287.81,234 291.12,234 294.44,234 297.75,234 301.07,234 304.39,234 307.71,234 311.03,234 314.35,234 317.68,234 321,234 324.32,234 327.65,234 330.97,234 334.29,234 337.61,234 340.93,234 344.25,234 347.56,234 350.88,234 354.19,234 357.5,234 360.8,234 364.11,234 367.41,234 370.7,234 374,234 377.29,234 380.57,234 383.85,234 387.13,234 390.4,234 393.66,234 396.92,234 400.17,234 403.42,234 406.66,234 409.9,234 413.12,234 416.34,234 419.56,234 422.76,234 425.96,234 429.15,234 432.34,234 435.51,234 438.67,234 441.83,234 444.98,234 448.11,234 451.24,234 454.36,234 457.47,234 460.56,234 463.65,234 466.73,234 469.79,234 472.84,234 475.89,234 478.92,234 481.93,234 484.94,234 487.93,234 490.91,234 493.88,234 496.83,234 499.77,234 502.7,234 505.62,234 508.51,234 511.4,234 514.27,234 517.13,234 519.97,234 522.79,234 525.6,234 528.4,234 531.18,234 533.94,234 536.69,234 539.42,234 542.13,234 544.83,234 547.51,234 550.17,234 552.82,234 555.44,234 558.05,234 560.65,234 563.22,234 565.77,234 568.31,234 570.83,234 573.33,234 575.8,234 578.26,234 580.7,234 583.13,234 585.53,234 587.91,234 590.27,234 M87.81,166.68 89.59,167.19 91.39,167.68 93.23,168.16 95.1,168.63 97,169.09 98.92,169.54 100.87,169.98 102.85,170.41 104.86,170.83 106.89,171.24 108.94,171.64 111.03,172.03 113.13,172.42 115.26,172.79 117.42,173.16 119.6,173.52 121.8,173.87 124.02,174.21 126.26,174.55 128.53,174.87 130.82,175.19 133.13,175.51 135.46,175.81 137.8,176.11 140.17,176.4 142.56,176.69 144.97,176.97 147.39,177.24 149.84,177.51 152.3,177.77 154.78,178.02 157.27,178.27 159.79,178.51 162.32,178.75 164.86,178.98 167.43,179.2 170,179.42 172.6,179.63 175.2,179.84 177.82,180.05 180.46,180.24 183.11,180.44 185.78,180.63 188.45,180.81 191.14,180.99 193.85,181.16 196.56,181.33 199.29,181.49 202.03,181.65 204.78,181.81 207.54,181.96 210.32,182.1 213.1,182.24 215.89,182.38 218.7,182.51 221.51,182.64 224.34,182.77 227.17,182.89 230.01,183 232.86,183.11 235.72,183.22 238.59,183.33 241.46,183.43 244.34,183.52 247.23,183.61 250.13,183.7 253.03,183.79 255.94,183.87 258.86,183.94 261.78,184.02 264.71,184.09 267.64,184.15 270.58,184.21 273.52,184.27 276.46,184.33 279.41,184.38 282.37,184.43 285.33,184.47 288.29,184.51 291.25,184.55 294.22,184.58 297.19,184.61 300.16,184.64 303.13,184.66 306.11,184.68 309.09,184.69 312.06,184.71 315.04,184.71 318.02,184.72 321,184.72 323.98,184.72 326.96,184.71 329.94,184.71 332.91,184.69 335.89,184.68 338.87,184.66 341.84,184.64 344.81,184.61 347.78,184.58 350.75,184.55 353.71,184.51 356.67,184.47 359.63,184.43 362.59,184.38 365.54,184.33 368.48,184.27 371.42,184.21 374.36,184.15 377.29,184.09 380.22,184.02 383.14,183.94 386.06,183.87 388.97,183.79 391.87,183.7 394.77,183.61 397.66,183.52 400.54,183.43 403.41,183.33 406.28,183.22 409.14,183.11 411.99,183 414.83,182.89 417.66,182.77 420.49,182.64 423.3,182.51 426.11,182.38 428.9,182.24 431.68,182.1 434.46,181.96 437.22,181.81 439.97,181.65 442.71,181.49 445.44,181.33 448.15,181.16 450.86,180.99 453.55,180.81 456.22,180.63 458.89,180.44 461.54,180.24 464.18,180.05 466.8,179.84 469.4,179.63 472,179.42 474.57,179.2 477.14,178.98 479.68,178.75 482.21,178.51 484.73,178.27 487.22,178.02 489.7,177.77 492.16,177.51 494.61,177.24 497.03,176.97 499.44,176.69 501.83,176.4 504.2,176.11 506.54,175.81 508.87,175.51 511.18,175.19 513.47,174.87 515.74,174.55 517.98,174.21 520.2,173.87 522.4,173.52 524.58,173.16 526.74,172.79 528.87,172.42 530.97,172.03 533.06,171.64 535.11,171.24 537.14,170.83 539.15,170.41 541.13,169.98 543.08,169.54 545,169.09 546.9,168.63 548.77,168.16 550.61,167.68 552.41,167.19 554.19,166.68 M186.37,117.4 186.97,117.91 187.61,118.41 188.28,118.9 188.98,119.39 189.71,119.86 190.47,120.34 191.26,120.8 192.09,121.26 192.94,121.71 193.82,122.16 194.73,122.6 195.66,123.03 196.63,123.46 197.62,123.87 198.63,124.29 199.67,124.69 200.74,125.09 201.83,125.49 202.95,125.87 204.09,126.25 205.25,126.63 206.44,127 207.65,127.36 208.88,127.71 210.13,128.06 211.41,128.4 212.7,128.74 214.02,129.07 215.36,129.4 216.71,129.71 218.09,130.03 219.48,130.33 220.9,130.63 222.33,130.93 223.78,131.22 225.25,131.5 226.73,131.77 228.23,132.05 229.75,132.31 231.28,132.57 232.83,132.82 234.39,133.07 235.97,133.31 237.56,133.55 239.17,133.78 240.79,134.01 242.43,134.23 244.08,134.44 245.74,134.65 247.41,134.86 249.1,135.05 250.8,135.25 252.51,135.43 254.23,135.62 255.96,135.79 257.7,135.97 259.45,136.13 261.21,136.29 262.99,136.45 264.77,136.6 266.56,136.75 268.35,136.89 270.16,137.02 271.98,137.15 273.8,137.28 275.63,137.4 277.47,137.51 279.31,137.62 281.16,137.73 283.02,137.83 284.88,137.92 286.75,138.01 288.62,138.1 290.5,138.18 292.39,138.25 294.27,138.33 296.17,138.39 298.06,138.45 299.96,138.51 301.86,138.56 303.77,138.6 305.68,138.65 307.59,138.68 309.5,138.71 311.41,138.74 313.33,138.76 315.25,138.78 317.16,138.79 319.08,138.8 321,138.8 322.92,138.8 324.84,138.79 326.75,138.78 328.67,138.76 330.59,138.74 332.5,138.71 334.41,138.68 336.32,138.65 338.23,138.6 340.14,138.56 342.04,138.51 343.94,138.45 345.83,138.39 347.73,138.33 349.61,138.25 351.5,138.18 353.38,138.1 355.25,138.01 357.12,137.92 358.98,137.83 360.84,137.73 362.69,137.62 364.53,137.51 366.37,137.4 368.2,137.28 370.02,137.15 371.84,137.02 373.65,136.89 375.44,136.75 377.23,136.6 379.01,136.45 380.79,136.29 382.55,136.13 384.3,135.97 386.04,135.79 387.77,135.62 389.49,135.43 391.2,135.25 392.9,135.05 394.59,134.86 396.26,134.65 397.92,134.44 399.57,134.23 401.21,134.01 402.83,133.78 404.44,133.55 406.03,133.31 407.61,133.07 409.17,132.82 410.72,132.57 412.25,132.31 413.77,132.05 415.27,131.77 416.75,131.5 418.22,131.22 419.67,130.93 421.1,130.63 422.52,130.33 423.91,130.03 425.29,129.71 426.64,129.4 427.98,129.07 429.3,128.74 430.59,128.4 431.87,128.06 433.12,127.71 434.35,127.36 435.56,127 436.75,126.63 437.91,126.25 439.05,125.87 440.17,125.49 441.26,125.09 442.33,124.69 443.37,124.29 444.38,123.87 445.37,123.46 446.34,123.03 447.27,122.6 448.18,122.16 449.06,121.71 449.91,121.26 450.74,120.8 451.53,120.34 452.29,119.86 453.02,119.39 453.72,118.9 454.39,118.41 455.03,117.91 455.63,117.4 M321,368.63 311.96,367.95 303.02,367.11 294.17,366.12 285.44,364.98 276.82,363.71 268.32,362.28 259.96,360.73 251.74,359.03 243.66,357.21 235.74,355.26 227.97,353.19 220.38,350.99 212.95,348.68 205.7,346.25 198.63,343.71 191.75,341.07 185.06,338.32 178.57,335.47 172.28,332.53 166.2,329.5 160.32,326.37 154.66,323.16 149.22,319.87 143.99,316.5 138.99,313.06 134.21,309.54 129.66,305.96 125.35,302.31 121.26,298.61 117.42,294.84 113.81,291.03 110.44,287.16 107.32,283.25 104.44,279.29 101.8,275.3 99.41,271.27 97.27,267.21 95.38,263.12 93.74,259.01 92.35,254.87 91.21,250.72 90.32,246.55 89.69,242.37 89.31,238.19 89.18,234 89.31,229.81 89.69,225.63 90.32,221.45 91.21,217.28 92.35,213.13 93.74,208.99 95.38,204.88 97.27,200.79 99.41,196.73 101.8,192.7 104.44,188.71 107.32,184.75 110.44,180.84 113.81,176.97 117.42,173.16 121.26,169.39 125.35,165.69 129.66,162.04 134.21,158.46 138.99,154.94 143.99,151.5 149.22,148.13 154.66,144.84 160.32,141.63 166.2,138.5 172.28,135.47 178.57,132.53 185.06,129.68 191.75,126.93 198.63,124.29 205.7,121.75 212.95,119.32 220.38,117.01 227.97,114.81 235.74,112.74 243.66,110.79 251.74,108.97 259.96,107.27 268.32,105.72 276.82,104.29 285.44,103.02 294.17,101.88 303.02,100.89 311.96,100.05 321,99.37 M321,368.63 312.93,367.39 305.01,366.02 297.24,364.53 289.62,362.91 282.16,361.18 274.86,359.34 267.72,357.38 260.74,355.33 253.93,353.17 247.3,350.91 240.83,348.56 234.54,346.12 228.42,343.59 222.48,340.98 216.71,338.29 211.13,335.52 205.72,332.67 200.5,329.75 195.46,326.77 190.6,323.72 185.93,320.61 181.44,317.44 177.14,314.21 173.03,310.92 169.1,307.59 165.36,304.2 161.81,300.77 158.45,297.3 155.28,293.79 152.3,290.23 149.51,286.65 146.91,283.02 144.5,279.37 142.28,275.69 140.26,271.98 138.42,268.25 136.78,264.5 135.33,260.73 134.08,256.94 133.02,253.14 132.15,249.32 131.47,245.5 130.99,241.67 130.7,237.84 130.6,234 130.7,230.16 130.99,226.33 131.47,222.5 132.15,218.68 133.02,214.86 134.08,211.06 135.33,207.27 136.78,203.5 138.42,199.75 140.26,196.02 142.28,192.31 144.5,188.63 146.91,184.98 149.51,181.35 152.3,177.77 155.28,174.21 158.45,170.7 161.81,167.23 165.36,163.8 169.1,160.41 173.03,157.08 177.14,153.79 181.44,150.56 185.93,147.39 190.6,144.28 195.46,141.23 200.5,138.25 205.72,135.33 211.13,132.48 216.71,129.71 222.48,127.02 228.42,124.41 234.54,121.88 240.83,119.44 247.3,117.09 253.93,114.83 260.74,112.67 267.72,110.62 274.86,108.66 282.16,106.82 289.62,105.09 297.24,103.47 305.01,101.98 312.93,100.61 321,99.37 M321,368.63 314.44,366.92 308.03,365.11 301.79,363.21 295.72,361.21 289.8,359.13 284.04,356.96 278.44,354.72 272.99,352.39 267.7,350 262.56,347.53 257.58,344.99 252.75,342.39 248.07,339.73 243.55,337 239.17,334.22 234.95,331.38 230.87,328.49 226.94,325.55 223.16,322.55 219.52,319.52 216.03,316.43 212.69,313.31 209.49,310.14 206.44,306.94 203.53,303.7 200.77,300.42 198.15,297.12 195.67,293.78 193.33,290.41 191.14,287.01 189.09,283.59 187.19,280.15 185.42,276.68 183.8,273.2 182.32,269.69 180.98,266.17 179.78,262.63 178.72,259.08 177.81,255.52 177.03,251.95 176.4,248.37 175.91,244.78 175.56,241.19 175.34,237.6 175.27,234 175.34,230.4 175.56,226.81 175.91,223.22 176.4,219.63 177.03,216.05 177.81,212.48 178.72,208.92 179.78,205.37 180.98,201.83 182.32,198.31 183.8,194.8 185.42,191.32 187.19,187.85 189.09,184.41 191.14,180.99 193.33,177.59 195.67,174.22 198.15,170.88 200.77,167.58 203.53,164.3 206.44,161.06 209.49,157.86 212.69,154.69 216.03,151.57 219.52,148.48 223.16,145.45 226.94,142.45 230.87,139.51 234.95,136.62 239.17,133.78 243.55,131 248.07,128.27 252.75,125.61 257.58,123.01 262.56,120.47 267.7,118 272.99,115.61 278.44,113.28 284.04,111.04 289.8,108.87 295.72,106.79 301.79,104.79 308.03,102.89 314.44,101.08 321,99.37 M321,368.63 316.37,366.56 311.88,364.42 307.52,362.22 303.3,359.95 299.2,357.62 295.23,355.23 291.38,352.78 287.66,350.28 284.05,347.73 280.55,345.12 277.18,342.47 273.91,339.77 270.75,337.02 267.71,334.23 264.77,331.4 261.93,328.53 259.2,325.62 256.58,322.67 254.06,319.68 251.64,316.66 249.32,313.61 247.1,310.53 244.98,307.41 242.96,304.27 241.03,301.1 239.21,297.9 237.48,294.68 235.84,291.44 234.31,288.17 232.86,284.89 231.51,281.58 230.26,278.26 229.1,274.92 228.03,271.56 227.06,268.19 226.18,264.81 225.4,261.41 224.7,258.01 224.1,254.6 223.6,251.18 223.18,247.75 222.86,244.32 222.63,240.88 222.49,237.44 222.44,234 222.49,230.56 222.63,227.12 222.86,223.68 223.18,220.25 223.6,216.82 224.1,213.4 224.7,209.99 225.4,206.59 226.18,203.19 227.06,199.81 228.03,196.44 229.1,193.08 230.26,189.74 231.51,186.42 232.86,183.11 234.31,179.83 235.84,176.56 237.48,173.32 239.21,170.1 241.03,166.9 242.96,163.73 244.98,160.59 247.1,157.47 249.32,154.39 251.64,151.34 254.06,148.32 256.58,145.33 259.2,142.38 261.93,139.47 264.77,136.6 267.71,133.77 270.75,130.98 273.91,128.23 277.18,125.53 280.55,122.88 284.05,120.27 287.66,117.72 291.38,115.22 295.23,112.77 299.2,110.38 303.3,108.05 307.52,105.78 311.88,103.58 316.37,101.44 321,99.37 M321,368.63 318.61,366.34 316.29,364 314.06,361.61 311.89,359.17 309.8,356.7 307.78,354.18 305.82,351.61 303.93,349.01 302.1,346.37 300.33,343.69 298.63,340.97 296.98,338.21 295.39,335.42 293.86,332.6 292.39,329.75 290.96,326.86 289.6,323.94 288.28,320.99 287.02,318.01 285.81,315.01 284.66,311.98 283.55,308.92 282.49,305.84 281.48,302.73 280.53,299.61 279.62,296.46 278.76,293.29 277.95,290.1 277.18,286.9 276.46,283.67 275.79,280.43 275.17,277.18 274.6,273.91 274.07,270.63 273.59,267.34 273.15,264.04 272.76,260.72 272.42,257.4 272.12,254.07 271.87,250.74 271.66,247.4 271.5,244.05 271.39,240.7 271.32,237.35 271.3,234 271.32,230.65 271.39,227.3 271.5,223.95 271.66,220.6 271.87,217.26 272.12,213.93 272.42,210.6 272.76,207.28 273.15,203.96 273.59,200.66 274.07,197.37 274.6,194.09 275.17,190.82 275.79,187.57 276.46,184.33 277.18,181.1 277.95,177.9 278.76,174.71 279.62,171.54 280.53,168.39 281.48,165.27 282.49,162.16 283.55,159.08 284.66,156.02 285.81,152.99 287.02,149.99 288.28,147.01 289.6,144.06 290.96,141.14 292.39,138.25 293.86,135.4 295.39,132.58 296.98,129.79 298.63,127.03 300.33,124.31 302.1,121.63 303.93,118.99 305.82,116.39 307.78,113.82 309.8,111.3 311.89,108.83 314.06,106.39 316.29,104 318.61,101.66 321,99.37 M321,368.63 321,366.26 321,363.85 321,361.4 321,358.91 321,356.39 321,353.82 321,351.22 321,348.59 321,345.91 321,343.21 321,340.47 321,337.7 321,334.9 321,332.06 321,329.2 321,326.31 321,323.39 321,320.44 321,317.47 321,314.47 321,311.44 321,308.4 321,305.33 321,302.23 321,299.12 321,295.99 321,292.84 321,289.67 321,286.48 321,283.28 321,280.06 321,276.83 321,273.59 321,270.33 321,267.06 321,263.79 321,260.5 321,257.2 321,253.9 321,250.59 321,247.28 321,243.96 321,240.64 321,237.32 321,234 321,230.68 321,227.36 321,224.04 321,220.72 321,217.41 321,214.1 321,210.8 321,207.5 321,204.21 321,200.94 321,197.67 321,194.41 321,191.17 321,187.94 321,184.72 321,181.52 321,178.33 321,175.16 321,172.01 321,168.88 321,165.77 321,162.67 321,159.6 321,156.56 321,153.53 321,150.53 321,147.56 321,144.61 321,141.69 321,138.8 321,135.94 321,133.1 321,130.3 321,127.53 321,124.79 321,122.09 321,119.41 321,116.78 321,114.18 321,111.61 321,109.09 321,106.6 321,104.15 321,101.74 321,99.37 M321,368.63 323.39,366.34 325.71,364 327.94,361.61 330.11,359.17 332.2,356.7 334.22,354.18 336.18,351.61 338.07,349.01 339.9,346.37 341.67,343.69 343.37,340.97 345.02,338.21 346.61,335.42 348.14,332.6 349.61,329.75 351.04,326.86 352.4,323.94 353.72,320.99 354.98,318.01 356.19,315.01 357.34,311.98 358.45,308.92 359.51,305.84 360.52,302.73 361.47,299.61 362.38,296.46 363.24,293.29 364.05,290.1 364.82,286.9 365.54,283.67 366.21,280.43 366.83,277.18 367.4,273.91 367.93,270.63 368.41,267.34 368.85,264.04 369.24,260.72 369.58,257.4 369.88,254.07 370.13,250.74 370.34,247.4 370.5,244.05 370.61,240.7 370.68,237.35 370.7,234 370.68,230.65 370.61,227.3 370.5,223.95 370.34,220.6 370.13,217.26 369.88,213.93 369.58,210.6 369.24,207.28 368.85,203.96 368.41,200.66 367.93,197.37 367.4,194.09 366.83,190.82 366.21,187.57 365.54,184.33 364.82,181.1 364.05,177.9 363.24,174.71 362.38,171.54 361.47,168.39 360.52,165.27 359.51,162.16 358.45,159.08 357.34,156.02 356.19,152.99 354.98,149.99 353.72,147.01 352.4,144.06 351.04,141.14 349.61,138.25 348.14,135.4 346.61,132.58 345.02,129.79 343.37,127.03 341.67,124.31 339.9,121.63 338.07,118.99 336.18,116.39 334.22,113.82 332.2,111.3 330.11,108.83 327.94,106.39 325.71,104 323.39,101.66 321,99.37 M321,368.63 325.63,366.56 330.12,364.42 334.48,362.22 338.7,359.95 342.8,357.62 346.77,355.23 350.62,352.78 354.34,350.28 357.95,347.73 361.45,345.12 364.82,342.47 368.09,339.77 371.25,337.02 374.29,334.23 377.23,331.4 380.07,328.53 382.8,325.62 385.42,322.67 387.94,319.68 390.36,316.66 392.68,313.61 394.9,310.53 397.02,307.41 399.04,304.27 400.97,301.1 402.79,297.9 404.52,294.68 406.16,291.44 407.69,288.17 409.14,284.89 410.49,281.58 411.74,278.26 412.9,274.92 413.97,271.56 414.94,268.19 415.82,264.81 416.6,261.41 417.3,258.01 417.9,254.6 418.4,251.18 418.82,247.75 419.14,244.32 419.37,240.88 419.51,237.44 419.56,234 419.51,230.56 419.37,227.12 419.14,223.68 418.82,220.25 418.4,216.82 417.9,213.4 417.3,209.99 416.6,206.59 415.82,203.19 414.94,199.81 413.97,196.44 412.9,193.08 411.74,189.74 410.49,186.42 409.14,183.11 407.69,179.83 406.16,176.56 404.52,173.32 402.79,170.1 400.97,166.9 399.04,163.73 397.02,160.59 394.9,157.47 392.68,154.39 390.36,151.34 387.94,148.32 385.42,145.33 382.8,142.38 380.07,139.47 377.23,136.6 374.29,133.77 371.25,130.98 368.09,128.23 364.82,125.53 361.45,122.88 357.95,120.27 354.34,117.72 350.62,115.22 346.77,112.77 342.8,110.38 338.7,108.05 334.48,105.78 330.12,103.58 325.63,101.44 321,99.37 M321,368.63 327.56,366.92 333.97,365.11 340.21,363.21 346.28,361.21 352.2,359.13 357.96,356.96 363.56,354.72 369.01,352.39 374.3,350 379.44,347.53 384.42,344.99 389.25,342.39 393.93,339.73 398.45,337 402.83,334.22 407.05,331.38 411.13,328.49 415.06,325.55 418.84,322.55 422.48,319.52 425.97,316.43 429.31,313.31 432.51,310.14 435.56,306.94 438.47,303.7 441.23,300.42 443.85,297.12 446.33,293.78 448.67,290.41 450.86,287.01 452.91,283.59 454.81,280.15 456.58,276.68 458.2,273.2 459.68,269.69 461.02,266.17 462.22,262.63 463.28,259.08 464.19,255.52 464.97,251.95 465.6,248.37 466.09,244.78 466.44,241.19 466.66,237.6 466.73,234 466.66,230.4 466.44,226.81 466.09,223.22 465.6,219.63 464.97,216.05 464.19,212.48 463.28,208.92 462.22,205.37 461.02,201.83 459.68,198.31 458.2,194.8 456.58,191.32 454.81,187.85 452.91,184.41 450.86,180.99 448.67,177.59 446.33,174.22 443.85,170.88 441.23,167.58 438.47,164.3 435.56,161.06 432.51,157.86 429.31,154.69 425.97,151.57 422.48,148.48 418.84,145.45 415.06,142.45 411.13,139.51 407.05,136.62 402.83,133.78 398.45,131 393.93,128.27 389.25,125.61 384.42,123.01 379.44,120.47 374.3,118 369.01,115.61 363.56,113.28 357.96,111.04 352.2,108.87 346.28,106.79 340.21,104.79 333.97,102.89 327.56,101.08 321,99.37 M321,368.63 329.07,367.39 336.99,366.02 344.76,364.53 352.38,362.91 359.84,361.18 367.14,359.34 374.28,357.38 381.26,355.33 388.07,353.17 394.7,350.91 401.17,348.56 407.46,346.12 413.58,343.59 419.52,340.98 425.29,338.29 430.87,335.52 436.28,332.67 441.5,329.75 446.54,326.77 451.4,323.72 456.07,320.61 460.56,317.44 464.86,314.21 468.97,310.92 472.9,307.59 476.64,304.2 480.19,300.77 483.55,297.3 486.72,293.79 489.7,290.23 492.49,286.65 495.09,283.02 497.5,279.37 499.72,275.69 501.74,271.98 503.58,268.25 505.22,264.5 506.67,260.73 507.92,256.94 508.98,253.14 509.85,249.32 510.53,245.5 511.01,241.67 511.3,237.84 511.4,234 511.3,230.16 511.01,226.33 510.53,222.5 509.85,218.68 508.98,214.86 507.92,211.06 506.67,207.27 505.22,203.5 503.58,199.75 501.74,196.02 499.72,192.31 497.5,188.63 495.09,184.98 492.49,181.35 489.7,177.77 486.72,174.21 483.55,170.7 480.19,167.23 476.64,163.8 472.9,160.41 468.97,157.08 464.86,153.79 460.56,150.56 456.07,147.39 451.4,144.28 446.54,141.23 441.5,138.25 436.28,135.33 430.87,132.48 425.29,129.71 419.52,127.02 413.58,124.41 407.46,121.88 401.17,119.44 394.7,117.09 388.07,114.83 381.26,112.67 374.28,110.62 367.14,108.66 359.84,106.82 352.38,105.09 344.76,103.47 336.99,101.98 329.07,100.61 321,99.37 M321,368.63 330.04,367.95 338.98,367.11 347.83,366.12 356.56,364.98 365.18,363.71 373.68,362.28 382.04,360.73 390.26,359.03 398.34,357.21 406.26,355.26 414.03,353.19 421.62,350.99 429.05,348.68 436.3,346.25 443.37,343.71 450.25,341.07 456.94,338.32 463.43,335.47 469.72,332.53 475.8,329.5 481.68,326.37 487.34,323.16 492.78,319.87 498.01,316.5 503.01,313.06 507.79,309.54 512.34,305.96 516.65,302.31 520.74,298.61 524.58,294.84 528.19,291.03 531.56,287.16 534.68,283.25 537.56,279.29 540.2,275.3 542.59,271.27 544.73,267.21 546.62,263.12 548.26,259.01 549.65,254.87 550.79,250.72 551.68,246.55 552.31,242.37 552.69,238.19 552.82,234 552.69,229.81 552.31,225.63 551.68,221.45 550.79,217.28 549.65,213.13 548.26,208.99 546.62,204.88 544.73,200.79 542.59,196.73 540.2,192.7 537.56,188.71 534.68,184.75 531.56,180.84 528.19,176.97 524.58,173.16 520.74,169.39 516.65,165.69 512.34,162.04 507.79,158.46 503.01,154.94 498.01,151.5 492.78,148.13 487.34,144.84 481.68,141.63 475.8,138.5 469.72,135.47 463.43,132.53 456.94,129.68 450.25,126.93 443.37,124.29 436.3,121.75 429.05,119.32 421.62,117.01 414.03,114.81 406.26,112.74 398.34,110.79 390.26,108.97 382.04,107.27 373.68,105.72 365.18,104.29 356.56,103.02 347.83,101.88 338.98,100.89 330.04,100.05 321,99.37" fill="none" stroke="#a0a0a0" stroke-opacity="0.6" stroke-width="1"/>
<g clip-path="url(#ec)"><path d="M212.7 114L215.7 113.7L218.5 114.1L222.4 112.6L224.6 111.4L231.3 110.8L234.9 110.6L239.1 110.4L238.3 111.6L237.5 112.8L238.1 113.6L237.6 114.5L237.3 115.3L238.8 115.7L240.3 115.8L243.7 115.8L243.7 116.9L244.2 117.9L245.2 118.8L243.7 120L246.3 120.6L248.5 120.7L249.9 121.6L252.3 122.4L254.8 122L259.8 120L265.2 117.9L262.5 119.8L261.1 121.6L263.6 121.5L265.2 121.2L265.5 122.1L261.8 124.5L258.2 125.6L256 125.4L251.2 127.7L247.3 128.5L238.7 131.6L233.3 134.7L230.9 137.6L232.8 139.2L234.1 141.1L236.2 141.7L232.6 144.8L231.5 147.5L233.9 146.9L238.5 142.9L242.1 141.5L245.6 138.7L246.6 136.7L250.5 134.4L253.5 131.8L255.7 132.3L257 133.4L257.7 134.4L255.6 136.5L255.4 138.4L259.1 136.9L261.2 135.8L259.4 139L258 142L258 143.7L259.2 145.5L258.8 148L256.4 149.4L252.5 150.9L249.7 150.9L245.1 150.7L241.9 151.8L237.7 153.9L235.4 155.2L238.2 153.9L241 152.8L245.1 152.2L245.4 152.8L243 154L242.4 155.9L242.5 157L245 157.8L247.4 157L247.2 157.6L244.3 158.8L240.6 159.7L237.6 160.6L238.1 159.2L241 158.2L239.1 158.3L237.2 159.1L234.9 159.6L232.5 160.3L230.4 162L230.3 163.3L229.3 163.7L228 163.8L224.9 164.4L223.9 164.9L222.5 166.6L220.6 167.7L219 168.9L217.3 170.5L216.3 173L214.2 174.3L211.7 175.3L209.5 176.2L206.3 177.9L204.2 179.7L202.9 181.7L202.5 184.5L201.6 187.6L200.1 189.9L199 189.7L199 187.9L199.1 185L200.3 182.9L199.8 181.5L197.6 181.9L196.3 180.6L193.6 180.4L191.9 180.7L191.3 182.6L189.5 182.5L188 181.5L185.3 181.3L183.6 181.9L180.2 183.5L178.3 185.2L177 187.2L174.6 190.7L173 194.3L172.6 196.4L172.9 199.3L174.3 200.7L177.7 200.6L180.1 200.2L181.2 198.8L182.4 196.7L185.5 196L187.6 195.9L186.1 198.1L184.7 200.5L183.7 201.2L182.8 204.4L181.6 205.8L183.4 205.8L185.7 205.7L187.9 206L189.4 207.4L188.1 211L187.3 213.6L187 214.5L187.7 216.3L188.6 218.1L189.6 218.4L191.8 217.8L193 217.1L194.4 217.4L196 218.7L196.5 219.6M194.8 221.3L194.1 219.6L192.8 218.3L191.3 219.5L190.8 221.1L189.4 220.2L187.5 219.5L186.2 218.5L184.6 216.4L183.7 215.3L183.9 213.9L182 211L179.2 209.8L176.6 209L175.2 207.7L173.9 205.2L170.8 205.6L168.1 204.6L165.8 203L164 201.5L161.7 200.5L160.1 198L160.6 196.1L162 194.4L162.2 191.8L161.7 189L161.2 186.3L161.3 182.8L160.7 180.5L162.6 176.7L161.3 175.4L159.4 178.5L159.5 180.8L158.4 183.7L158.1 185.9L157.3 189.2L157.8 191.1L156.6 191.6L155.9 188.6L156.8 186.2L156.2 184.4L156.3 182.4L157.7 181L158.2 177.6L158.8 175.4L159.6 173.7L160.1 171.3L158.7 169.6L160.7 165.9L162.2 163.8L164.6 160.2L167.5 157.2L170.6 154.7L177.6 149.9L182.5 146L183.2 146.5L185.8 144.4L184.3 144.3L184.5 142.5L187.5 140.6L193.2 136.2L195.8 134.1L199.4 131.3L201.5 129.2L201.7 128.3L203.2 126.7L203.3 125.7L202.6 125L202.9 124.1L199.7 124.7L197.2 124.8L194.9 125L200.6 123.2L199.2 123.2L194.4 124.5L189.8 125.9L186.3 126.4L180.6 127.6L177.4 128L174.3 128.4L171.8 128.4L174.8 127.7L178.6 127.1L185.2 125.6L189.2 124.8L190.1 124L188.8 123.7L188.1 123.4L192.3 121.7L193.8 120.5L197.2 119.1L201.2 118L204.2 117.3L206.6 117.4L209.8 116.8L211.6 116.2L210.2 116.1L209.4 115.5L211.1 114.8L212.7 114M196 218.7L197.4 218.5L199.2 216.1L200.5 214.7L203.1 214.3L205.4 212.6L206.6 212.8L205.6 214.8L205.1 216.2L205.9 217.1L206.2 215.2L208 213.8L209.5 214L210.7 215.6L214 215.7L216.5 216.4L219 215.6L220.9 215.6L220 216.6L221.9 217.5L223 219.4L224.7 221.1L226.1 222.7L227.7 223.7L230.4 223.9L233.2 224.4L235.5 226.2L236.6 226.8L237.8 230.6L238.6 232.6L237.3 234L239.4 234.3L241 235.4L242.6 235L245.1 235.9L247.6 238.1L250 238.2L252.5 238.9L255.8 239.1L257.9 240.4L260 242.2L262.8 242.9L263.7 246.1L263.4 249.1L262.4 250.5L260.4 253L258.7 255.9L258.1 258.4L258.5 261.7L258.5 264.2L258 267.2L257.4 270.6L256 272.4L254 272.4L251.8 273.2L249.4 274.4L247.7 276.4L247.4 278.6L248.2 281.5L247.2 283.6L246.8 286.1L245.9 287.7L245.8 290.4L245 291.6L243.6 292.6L241.8 292.7L239.7 292.1L238.1 291.8L240.7 293.4L241.8 295.3L242.5 297.9L240.5 299L237.8 299.6L237.9 300.9L238.8 302.2L237.4 303.3L235.6 303L237.5 304.9L239.2 305.8L237.9 306L239.1 308.6L238.2 309.5L238.6 311.6L240.9 312.9L242.3 313.8L242.4 316.2L242.5 317.8L244 320L245.6 320.8L244.9 321.4L246.8 322.3L248.4 323.3L251.2 324.5L250 325.4L247.6 325.2L243.9 323.7L240.3 322.1L237.1 319.8L234 317.2L231.5 314.4L230.5 312L228.8 310.2L227.7 307.7L226.1 305L223.5 302.1L222.3 299.7L220.7 297.6L220 294.8L219.6 292.2L218.7 289.6L216.5 285.6L215.5 283.1L215.1 280.5L214.4 277.1L213.2 274.6L212.5 271.2L211.3 267.8L210.6 265.7L208.3 264.1L205.2 262.6L202 260.6L199.4 258.2L197.7 255.4L195.2 252L192.8 248.1L191.5 246L189.4 244.4L189.2 241.8L190.5 240L191 238.6L189.6 237.5L189.4 235.8L190.6 234L190.8 232.6L192.3 231.7L193 230.1L194.9 227.8L195.3 225.7L195.4 223.1L194.8 221.3M279.2 137.8L277.7 136.6L276.9 135.2L277.3 133.3L278 131.6L278.7 129.5L279.5 128L282 125.7L284.4 124.8L286.3 123.4L285.3 122.4L286.9 120.9L288.2 119.2L290.1 117.3L291.2 115.9L291.3 114.9L290.2 114.6L288.4 114.7L288.4 114L289.6 112.8L291 111.8L293.1 111.3L295.9 110.7L298.5 109.7L301.8 108.6L304.3 108L306.1 108L308 107.9L310.6 107L312.7 106.8L314.1 107.2L314.9 108L315 108.7L314 109.4L315.9 109.4L317.1 109.8L315.4 110.9L314.2 111.5L313 112.8L312.4 114.7L311.2 116L310.9 117.7L309.1 118.9L307.4 121.2L306.1 123.2L304.1 123.8L305.5 124.5L303 125.8L300.8 126.6L298.3 126.9L296.1 127.5L293.4 129L290.8 129.9L288.1 130.8L286.6 132.1L284.7 133.5L282.3 135.6L280.9 136.8L279.2 137.8M263.8 133.1L262.1 132.6L260.4 131.8L260.3 130.5L258.5 129.5L258.1 128.7L261 128.4L263.2 127.7L264.6 126.5L267.3 125.5L268.3 124.2L267.2 123.6L268.6 122.1L267.6 121.6L266.1 121.5L265.4 120.9L265.2 119.9L266.7 118.7L269 117.4L271.6 116.4L274.1 116.1L275.2 116.7L276.7 116.7L275.6 118.3L276.3 119L276.2 120.6L276 121.8L274.5 123.3L273.1 124.8L273.7 126.1L273.6 127.3L271.2 128.6L269.1 129L267.1 130L266.7 131.2L263.8 133.1M254.8 129.6L253.1 129L249.6 129.8L250.7 128.3L254.1 126.8L256.4 126.2L255.8 127.2L255.4 128.5L254.8 129.6M254.4 120.1L251.6 120.3L251.4 119.7L248.9 119.9L245.9 119.8L246.2 118.2L249 116.9L252.5 116.7L253.2 115.7L256.4 114.5L260.3 114.2L259.3 115.3L262.5 115L261.9 115.9L258.4 117.6L257.5 118.6L254.4 120.1M252.3 115.4L249.3 115.6L251.8 114.2L257.4 112.7L260 111.8L262.1 112L260.3 113.6L256.6 114.6L252.3 115.4M271.4 112.6L268.1 112.7L265 112.9L267.5 111.2L271 110.6L272.6 111.1L273 111.7L271.4 112.6M264.5 117.4L262.4 117.5L263.4 116.1L265.6 115.5L268.3 114.8L269.4 115.1L267.3 116.2L264.5 117.4M266.5 117.4L267.2 116.5L270.7 115.2L272.3 115.5L271.4 116.2L268.9 116.5L266.5 117.4M278.9 115.6L275 115.3L274.3 114.5L274.1 113.4L277.8 112.8L279.9 112.9L281.9 113.3L281.8 114.2L278.9 115.6M273.7 114.4L273.6 113.7L274.2 112.7L275.7 111.8L277.7 111.8L276.7 112.6L273.7 114.4M285 113L282.4 113L280.3 112.6L282.6 111.6L283.1 110.3L286.3 109.8L287.8 108.4L291.1 107.5L293.4 107.3L296.5 106.8L300.1 106.2L301.9 106.4L303.3 106.8L303.8 107.4L301.2 108.3L297.8 109.2L294.8 110.1L291.5 110.8L289.7 111.7L285 113M284.3 110.7L282.9 110.5L286.6 109L290.2 108.1L291 108.3L287.9 109.7L284.3 110.7M249.7 155.1L251.9 153.4L255.2 150.6L258.4 149.2L256.4 151.2L256.3 152.4L258.1 152.9L257.5 154.4L257.3 155.7L256.1 156.9L255.3 156.2L253.4 156.4L253.5 155.3L249.7 155.1M191.1 195.3L194.3 193.7L196.9 193.4L199.4 194.4L201.7 196.3L203.8 197.4L205.7 198.8L203.6 199.3L200.3 199.4L201.4 197.8L200.2 196.4L197.6 195.4L195.6 194.8L195.1 194.1L192.5 195.2L191.1 195.3M204.4 201.9L207.3 199.4L209.6 199.5L211.7 199.9L213.6 201.7L212.8 202.5L210.2 202.4L208.3 203.3L206.7 202.5L204.4 201.9M198.6 201.7L200.9 201.6L201.5 202.5L199.9 202.8L198.6 201.7M215.4 202.1L217.8 202.3L217.4 203L215.1 202.9L215.4 202.1M301.7 132.9L302.9 133.1L304.9 133.7L307.8 132.7L309.7 131.5L309.4 129.9L308 129.5L306.2 130L305 129.9L303.3 129.5L301.4 130.7L302.7 131.4L301 131.6L301.7 132.9M314.3 153.4L316.3 153.1L317.5 152.5L319.8 152.3L321.6 152.3L322.6 151.7L322 150.8L322.9 149.6L321.3 149L321.1 148.2L320.5 147L319.6 146.5L319.2 145.2L318.4 144.6L318.7 143.1L319.2 142.3L317.5 142.1L317.9 140.8L316 140.8L315.2 142.4L315.2 143.9L314.5 144.1L315.4 145.2L315.8 146.4L317.4 146.2L317.5 147.4L317.7 148.4L316 148.6L316.2 150.1L315.1 150.8L317 151.4L315.8 151.9L314.3 153.4M314.2 150.2L314.3 148.3L314.8 146.5L313.2 145.6L311.9 146L310.1 147.2L310.4 148.7L309.3 150.6L310.1 151.2L311.9 150.8L314.2 150.2M417.5 108.3L415 108.3L413.2 108.6L411 109.2L412.7 110.5L410.9 111L405.9 110.3L403.6 110.7L403.3 111.5L400.3 111.3L396 111.1L393.3 111.3L393.5 112L395.5 113.2L395.5 114.2L392.5 113.9L388.5 112.9L385.3 112.4L385.6 113.2L384 113.7L380.6 113.7L378.6 113.6L377.5 113.7L373.5 111.9L371.2 110.9L368.4 110.9L363.6 110.3L365.9 111.9L365.6 112.7L365.2 113.5L364.9 114.4L366.6 115.5L366.5 116.5L365.8 117L368.9 118.6L367.1 118.5L365.8 118.7L368.5 120.5L370.9 122.6L373.6 124.6L376.1 126.5L376.1 127.1L374.3 126.5L370.4 124.5L368.1 123.2L365.1 122L363.1 120.4L361.4 118.7L361.2 118.1L362.8 118.5L366.3 120L367.9 121.2L370.2 122.2M365.1 122L367 123.5L365.6 123.5L362.4 123.1L363.8 124.4L362.5 124.9L361 125.6L359.3 125L360.7 125.9L358 126.3L355.6 126.6L353.6 125.7L352.6 125.8L354.6 127.7L355.2 128.8L353.7 128.9L354.3 130.7L353.4 131.2L352.7 132L351.3 131.2L350.2 131.7L349 130.2L347.4 129.4L347 128.6L349.2 128.7L353.1 128.6L352.2 127.6L350.9 126.8L348.5 125.8L345.9 125.2L344.3 125L342.5 124.6L340.1 123.4L338.2 123.1L336.8 123.6L335.7 124.3L334.1 124.5L332.8 125.7L331.7 127L331 128.5L331.1 130.2L330.2 131.8L329.5 132.8L328.4 133.6L326.8 135.1L325.6 136.2L325.7 138.1L326.2 139.8L326.8 140.9L328 141.7L329.2 141.5L330.4 140.3L331.2 139.6L332 140.3L333 142L334 143.6L334.6 145.2L336.1 145.4L337.6 144.3L338 143L337.6 140.8L338.8 139.5L338.6 138.2L337.1 137.2L336.6 135.2L337.4 133.7L338.8 132.7L338.7 131.2L339.4 130.3L340.9 130.4L342.1 131.5L341.6 132L340.7 133.4L339.9 134.5L340.7 136.5L341.3 137.7L342.9 138.6L344.7 138L346.5 137.6L349 138L348.3 139L346.1 139.1L343.9 139.6L344.3 140.6L345.4 141.2L345.7 142.5L344.8 142.8L343 142.3L342.9 143.6L343.3 144.8L342.7 145.8L342.2 146.6L341.2 146.8L339.8 146.2L338.4 146.8L336.6 147.6L334.6 146.9L333 147.5L332.7 146.7L331.8 146.3L332.1 145.3L331.9 143.8L331.7 142.1L330.7 142.8L329.5 143.4L329.6 145.2L330.4 146.2L330.6 147.5L330.1 148.3L328.7 148.3L327.1 148.4L326.4 149.2L325.9 150.5L325 151.3L323.9 151.9L322.9 152.2L322.8 153.2L321.2 154L319.7 154.4L319.3 154L318.7 154L319.1 155.5L317.4 155.3L315.3 155.9L315.8 156.9L317.9 157.6L318.4 158.4L319.5 159.6L319.5 161.8L319.1 163.4L316.5 163.4L313.5 163.3L310.6 163.1L308.9 164.2L309.2 166L309.3 168.1L307.9 170.9L308.8 171.8L308.7 173.5L310.7 173.2L312.2 174.2L313.1 175.1L314.7 174L317.5 174.1L318.9 172.8L320.2 171.9L321.3 170.9L320.6 169.7L322.2 167.6L323.9 166.7L325.2 165.9L325 164.2L326.4 163.4L328.2 163.9L330.1 163.3L331.6 162.8L332.3 162L334.2 162.8L334.7 164.2L335.7 165.1L337.4 166.1L339.4 166.9L341.2 168.3L342.2 168.7L342.9 170.6L342.7 171.9L343.3 172L343.8 171.1L344.5 170.3L343.5 169.2L344 167.9L346 168.5L345.2 167.8L343 166.9L342.3 166.4L341.2 165.6L339.7 165L338.6 163.3L336.8 162.1L336.6 160.6L337.6 160L338.3 160.1L338.7 161.3L339.8 160.9L340.6 162.2L342.3 163.3L344 164L345.3 164.8L346.6 165.7L347.1 168.1L348.2 169.3L349.4 170.5L350.1 171.3L351.1 172.9L351.5 173.7L352.5 174.3L352.9 173.6L353.6 174.3L352.9 172.5L353.5 171.7L354.1 171.4L352.3 170.3L352.3 169.4L351.4 168.1L352.4 168.3L352.9 167.5L353.8 167.1L355.8 167.3L356.3 168.2L356.9 167.9L357.7 167.1L359.7 167.8L360.2 166.7M356.3 168.4L356.9 169.4L357.8 170.7L358.7 172.1L359 173L360.4 173.7L362.1 174.3L363.7 173.9L365 173.4L367.1 174.5L368.7 174.1L370.6 173.6L371.6 174.5L371.8 176.1L372 177.7L371.7 179.2L371.6 181.3L371.2 182.1L369.8 182.5L368.4 182.2M368.4 182.2L366.4 181.7L365.1 182.2L363.8 182.9L360.7 182.1L357.6 181.7L354.8 180.6L352.2 179.9L350.2 181L350.5 182.9L349.2 184.1L346.8 183L344.2 182.2L343.2 180.9L339.9 180L337.7 179.7L335.7 178.6L336.5 177.3L336.6 176.1L335.8 174.6L336.4 173.5L334.9 173.1L332.9 173.7L330.1 173.4L328 173.9L325.2 173.9L322.4 174.4L319.6 175.6L317.9 176.6L315.3 176.4L313.4 175.3L312.2 175.9L311.1 178.3L308.7 179.4L307.4 180.7L306.5 183.1L306.5 185L305.2 186.3L303.6 187.6L301.3 188.4L298.8 190.8L297.9 192.4L296.2 194.3L295.6 196.3L294.2 198.9L295 201.3L295.1 204.1L294.4 207.4L292.8 209.6L293.7 211.1L293.8 213.2L295.7 214.7L296.9 216.2L298.8 218L299.7 220.4L302 222.4L303.6 223.7L305.6 225.2L308.4 226.7L311.1 225.9L313.5 225.4L316 225.5L317.7 226L319.3 225.4L321 224.5L323.5 223.9L325.1 223.5L326.8 223.4L328.4 223.7L329.6 224.7L330.6 226.9L332.3 226.7L334.3 226.5L335.4 226.4L336.8 227.5L337.3 229L337.3 230.7L336.9 232.3L336.4 233.7L335.9 235.3L336.8 237.3L338.4 239L340.2 241.5L341.2 243.6L341.6 245.6L342.7 248.3L343.3 251.5L343.6 253.1L341.5 255.9L340.4 258.9L339.9 262.7L340.9 265.5L342.1 268.4L343.5 271.2L343.5 275L344 278.2L344.9 280.2L345.9 281.6L346.6 284.2L347.7 286.3L347.5 288.7L347.6 290.2L348.9 291L349.7 291.1L351.8 290.5L353.5 289.9L355.5 290.1L357.8 290L359.2 289.5L361 288.6L362.7 287.3L364.5 285.6L366.2 284L367.6 282.4L369.2 281.3L370.3 278.9L371.2 277.3L372.3 276.5L374.9 275L376 273.2L376.3 270.8L376.1 268.3L377.2 266.6L378.9 265.5L381.2 263.9L384.2 262.2L386.1 260.1L386.6 257.6L386.8 254.2L386.6 251.7L386.1 248.3L385.6 245.8L384.9 244.1L385.6 242.1L386.7 240.4L387.6 238.7L389.6 237L390.7 235L392.8 232.3L395.3 230.6L397.6 228.4L399.6 225.9L401.1 223.3L402.3 220.4L403.5 217.3L404 213.9L402.9 213.8L400.6 214.8L397.5 215.5L394.3 216.2L392.3 215.6L391.4 214.2L390.1 212.7L388.4 210.9L386.2 208.8L384.8 207.8L383.4 206.1L382.3 203.8L380.3 201.3L379.4 198.9L378.5 197.2L376.3 194.8L375.6 193.5L374.3 191.5L372.6 189.6L371.5 188L370 185.9L369.4 184.4L370 185.1L371.4 187.1L372.6 187.8L372.7 186.6L372.9 185M372.9 185L374.1 187.4L376 189.8L378.1 192.3L380 194.2L381.8 196.7L382.7 198.8L384.4 200.8L386.1 202.9L387.8 205.4L389.2 207.4L390 209.4L391.2 212.6L393.1 212.5L394.6 212L396.9 211L399.2 210.3L401.3 208.7L403.5 208L404.5 206.5L406.2 205.4L408.8 204.4L410.1 203.5L410.6 202.1L411.9 201.8L411.5 199.6L412.5 198.7L413.4 197.5L413.4 195.6L411.9 194.8L410.6 193.8L408.9 193.4L407.4 192.4L406.6 190.7L406.1 189.4L405.5 190.8L404.5 192.7L403.1 193.2L401.2 193.4L400.2 192.9L399.2 191.3L399.3 190.1L398.6 190.8L398.4 192L397.4 190.8L396.6 189.2L395.3 188.2L394 186.9L393.2 185.8L392.1 184.7L392.3 183.7L393.1 183.2L394.7 183.4L396.2 184.9L397.6 186.8L399.9 187.8L402 188.9L404 188.8L405.3 188.3L407.3 189.9L408 190.7L409.8 190.5L411.7 190.8L414.5 191.2L416.6 190.9L418.8 190.7L421.7 190.4L423.1 191.4L424.1 192.9L425.5 193.4L426.8 194.7L428.5 194.6L429.2 195.5L427.7 195.5L427.6 196.4L430.4 198L432 198.1L433.1 196.7L434.2 198.4L434.8 201L436 203.2L437.2 206.1L438.5 207.8L439.9 210.1L441 212.1L442.3 213.9L443.4 216.1L444.6 218.2L446.3 219.7L447.2 218.3L448.4 217.6L448.5 215.8L449 214.2L448.8 212L448.9 210.2L448 207.6L448.9 206.1L450.4 204.7L451.5 202.5L452.6 200.4L453.3 199.1L454.4 198L454.4 196.2L455.6 195.5L456.8 195L458.2 194.8L458.5 193.5L459.8 193.5L460.9 194.7L462.1 196.4L463.3 197.8L465.2 199.3L467.3 201.6L468.6 204.2L468.4 205.1L470.3 205.4L471.5 204.1L472.3 203.5L473.4 205L474.4 207.1L475.7 209.6L477 212.1L477.7 214.8L478 217.6L478.1 219.4L478.8 219L480.6 221.6L481.7 223L482.1 225.2L482.8 226.8L483.7 228.9L485.3 230.3L487 231.6L488.2 231.4L487.5 229.4L486.8 227.2L486.5 225L485.3 223.3L484.3 222.6L482.8 221.3L481.5 220.6L480.5 218.6L479.4 216.6L478.6 214.8L478.6 212.6L478.6 210.6L478.4 209.5L479.7 209.5L480.1 210.8L481.9 211.6L483.4 212.7L484.9 214.5L486.4 214.8L487.7 217.4L487.6 218.1L488.5 217.7L489.7 216.4L489.9 214.9L491.2 214.3L492.3 213.1L492.7 211.6L491.7 208.9L490 205.6L488.2 204L486.3 202.2L484.4 200.4L483 199.2L482.4 197.6L482.9 196.2L483.5 194.9L484.3 194.1L485.8 194.2L486.5 194.4L488.1 196.1L488.1 195.2L488.4 194.1L489.8 193.4L490.6 192.8L491.4 192.3L491.7 191.7L493.4 191.1L494.3 189.7L494.4 187.9L494.5 186.6L494.6 185L493.7 183.6L493.5 182.2L493.3 180.7L493.4 179.7L492.3 177.9L490.9 177.1L490.7 175.9L489.1 174.7L487.5 173.5L486.3 172.5L483.9 170.7L481.4 169.4L480.5 168.3L480.5 167.2L480.5 166.2L481.3 165.1L480.5 164.4L479.2 164.4L477.7 164.2L477.5 165.4L476 164.7L474.4 163.5L472.9 163.1L471.9 162.1L472.8 162L473 161.2L473.1 160L473 158.6L474.4 159.2L475 160.5L476.2 161.9L476.7 161.8L476.4 160.7L477.1 160.2L477.7 159.9L479.5 160.4L481.1 161.6L481.8 162.9L483.4 163.4L484.7 163.5L486.6 165.4L489 167.8L490.4 169L491 168.4L491.6 167.7L492.1 167.2L490.5 165.4L488.7 163.9L485.7 162.1L483.4 160.8L481.3 159.5L481.3 158.5L481.1 157.1L479.4 155.8L478.7 154.5L478.9 154L478.8 153L480.6 153.5L480.6 152.7L480.2 151.3L478.4 149L477.1 147.4L475.1 145.6L473.2 143.9L472.5 142.9L469.5 141L466.4 139.3L463 137L459.6 135.4L458.2 135.3L456.1 135L456.1 135.7L452.7 134.4L451.8 133.5L449.6 132L448.1 130.8L445.4 129.1L442.7 127.3L441.9 126.4L443 126L443.8 125.7L444.8 125.3L445 124.7L448.1 125.1L448 124.3L446.2 123.4L443.9 122.7L441.2 121.3L440.4 120.5L440.9 119.9L441.6 119.9L444.5 120.9L444 120.2L440.4 118.6L442.3 118.8L444.7 119.8L447.7 120.8L449 121.8L450.8 123L453.8 124.3L455.6 125.5L457.4 126.8L460.7 128.5L465.2 130.6L470.9 133L475.8 134.9L477.3 135.4L475.9 134.4L472.3 132.2L471.7 131.3L468.8 129.9L467.1 128.4L463.3 126.8L460 125L457.4 124.1L456.4 124.3L452 122.1L451 121.3L449.6 120.4L450.9 120.3L452.8 119.9L450.9 118.9L448.2 117.6L446.4 116.4L445 115.4L445.9 115L443.1 114.2L437.4 113L435.5 112.8L433.6 112.1L434.8 112M207.2 112L209.6 111.8L206.6 113L205.8 113.7L206 114.3L208.6 113.7L211.5 113L212.7 113.1L214.3 113.1L216.7 112L217.4 111.2L219.2 110.4L222 109.5L223.9 108.8L224.5 108.3M495.6 168.5L495.6 167.7L495.6 166.3L496.8 165.9L498 165.5L497.5 164.3L496.6 162.6L497.7 163L497.7 161.8L496.8 160L494.7 157.8L491.9 155.8L491.1 154.9L491.9 154.7L493.8 155.8L496.6 157.4L497.8 158.7L498.5 159.9L501 162L503.2 164.2L503.9 165.6L502.9 165.5L503.7 166.7L502.3 166.9L502.1 167.6L502.6 169.2L500.8 168.4L499.8 167.3L498.3 167.3L497.7 168L497.5 169.1L495.6 168.5M495.8 169.9L496.4 169.2L498.7 170.3L501.1 173.5L501 174.5L499.6 173.7L498.4 172.2L496.7 171.2L495.8 169.9M498.1 169L498.5 168.1L499.9 168.1L500.7 168.8L500.3 169.5L500.5 170.9L499.2 170.1L498.1 169M490.1 154.4L490.5 153.7L488.9 152.3L491.9 152.9L490.6 151L490.8 150.2L488.2 149.3L486.4 149L481.9 147.4L482.7 148.1L485 149.6L487.1 151.1L486.1 151.3L487.7 152.7L490.1 154.4M480.7 146.5L479.3 145.3L481.5 145.9L477.5 143.9L472.7 141L474.4 141.3L466.5 137.7L460.8 134.8L457.7 133.6L459.8 134.9L464.2 137.1L468.4 139.4L472.7 141.7L476.6 144.2L480.7 146.5M499.3 191.2L500.9 192.4L500.3 189.8L498.9 186.6L497.6 186.1L498.2 189.3L499.3 191.2M486.8 198.4L488 196.7L489.8 197.5L489.9 200L488.4 200L486.8 198.4M505.1 203.1L503.9 199.2L504.7 198.5L506.1 198.6L507.4 201.4L507.6 203.8L508.7 206.6L510.1 207.1L512.8 208.5L512.2 209.3L510.1 207.7L508.3 207.8L507.2 206.5L505.1 203.1M513.1 220.5L514.9 218.7L515.7 217.5L516.9 215.2L518.8 217.8L519.4 220.4L519 221.7L518.3 223.1L516.4 221.8L515 219.5L513.1 220.5M511.5 213.6L512.4 211.8L514.5 211.8L516.1 212.3L516 214.6L514.1 215.5L512.8 215.7L511.5 213.6M495.3 231.2L496.1 234L496.8 236.8L498.1 239.6L501 240L503.1 241.4L505.3 240.8L506.1 237.8L507.8 232.5L509.6 232.1L508.5 231.1L508.2 228.3L508.8 225.4L509.7 223.9L507.1 221.6L505.6 220.7L504.3 224.1L502.2 225.5L498.9 228.9L496.8 230.8L495.3 231.2M474.2 223.8L477.6 224.5L479.7 227.1L482.3 229.8L484.2 231.6L487.2 235.3L488.6 238.3L490.7 240.1L489.9 244.8L488 244.9L485.1 241.4L483.1 236.8L480.4 231.3L478 229.4L474.2 223.8M488.8 246.6L490.2 245.1L493.7 246.1L496.5 246.9L499.4 247L502.1 248.6L501.6 250.4L496.8 249.4L492.6 248.5L489.8 247.7L488.8 246.6M509.5 239.7L510 244.5L511.2 244.7L511.9 239.8L513 243.2L514.9 242.7L513.1 238.8L516.1 235.7L513.1 235.2L511.5 233L512.8 231.5L518.2 231.1L518.8 231.7L516.4 233.2L512.1 233.4L511.4 235L509.5 239.7M513.8 253.9L516.3 252.2L520 250.4L518 250.9L515.1 252.4L513.8 253.9M502.4 250.6L504.7 249.9L508.2 250.4L513.7 249.8L509.5 251L504.4 251.1L502.4 250.6M522 230.5L523.4 231.1L522.8 233L523.9 235.2L522.5 235L522 230.5M522.5 240.5L526 240.1L526.3 241.5L523.2 241.1L522.5 240.5M527 236.8L529.1 234.8L531.2 235.8L532.3 240.6L535.9 237L540.6 239.3L545.1 241.8L546.4 244.7L548.5 246.7L547.1 249.5L548.1 251.9L549.5 255.5L546.3 254.9L545.5 250.7L543 249.8L541.1 252.4L538.4 252.5L536.2 250.3L534.7 250.9L535.3 244.7L533.4 243L530.2 241.8L528.9 239.8L528.1 238.6L527 236.8M549.9 245.4L551.9 245.5L554 244.3L554.9 242.9L553.8 245.8L551.6 247L549.9 245.4M491 275.1L492.1 274.8L496.7 272.8L500.4 271.9L503.6 271.1L507.1 267.5L509.6 265.7L513.2 262L516.3 261.2L517.2 263.2L519 263.1L521.3 259.9L523 258L525.6 256.7L527.2 257.8L529.2 257.9L530.8 258.6L528.8 260.9L527 263.8L528.6 266.4L529.6 269.1L531.7 269L534.8 264.3L536.9 259.6L539.4 255.8L539.5 259.5L538.5 263L539.7 264.7L538.2 269.8L538 273.6L538.4 276.2L537.5 280.4L536.6 285.7L531.8 292L525.9 297.3L522.3 300L517.7 302.5L513 305.6L508.9 308.7L506.3 308.8L501.9 310.5L502.8 308.5L499.7 309.6L498.8 308.4L499 306.7L501.6 303.9L501.6 302.9L503.4 300.6L501.3 302.2L500.4 302L505.2 298.6L503.9 299.2L500.3 301.2L500 301.1L500.4 300.2L502 297.3L500.9 295.5L498.1 294.3L493.4 295.2L489.9 296.1L486.1 297.4L482.5 297.8L479.6 298.8L477.5 298.1L477.3 297L481.5 293.2L484.2 288.7L487 283.3L487.2 281.4L489.7 277.8L491 275.1M496.4 313.2L499.3 314.3L493.2 318.1L491.1 318.5L493.2 315.8L496.4 313.2M536.9 308.3L534.5 311.6L532.6 313.8L532.9 315.9L528.2 318.5L526.3 318.9L520.6 321.7L519.3 321.8L519.6 321.3L524 319L525.3 317.4L529.3 315.4L531.8 313.5L534.6 310.3L536.9 308.3M520.6 319.4L518.2 321.9L515.4 323.2L511 325L507.5 325.9L503.1 327.9L499.7 328.9L499.6 327.1L502.3 325.9L507.1 324.3L511.6 323.2L515.9 321.4L520.6 319.4M400.9 254.4L401.9 260.3L400.3 262.8L399.2 265.3L396.7 270.3L393.3 275.7L390 276.8L388.3 275.1L388.5 271L390.6 267.7L391.1 263.2L395.5 260.7L398.4 257.7L400.9 254.4M450.3 222.5L449.7 216.7L452 219L453.3 221.6L451.6 223.6L450.3 222.5M325.7 113.5L328.8 115.9L329.7 114.7L329.9 113.4L331.6 112L328.5 110.8L327 111.5L325.3 112.1L325.7 113.5M354.5 121.6L358.2 122.3L358.8 122L355.4 119.8L352.9 116.7L352.6 115.4L352.7 113.8L351.3 113.7L350 114.8L351.7 117.6L352.6 119.3L354.5 121.6M356.7 109.6L360 110.1L360 109.2L354.5 107.8L351.3 107.5L356.7 109.6M383 109.7L388 110.2L384.5 109L385.3 107.9L382.2 107.8L379.3 108.2L383 109.7M408.1 106.9L406.4 106.3M381.9 157.4L383.6 156.5L385.8 156.7L387.3 158.7L385.1 159.1L386 160.7L389.9 164.2L391.9 167.3L393.8 168.9L395.2 171.3L392.4 172.5L390 171.8L387.8 169.9L387.2 167.2L384.6 164.8L382.4 162.9L381.2 160.6L379.7 159.1L380.2 157.8L381.9 157.4M358.3 165.9L359.7 166.5L362.3 166.6L365.1 165.1L367 165.1L369.4 166.1L372.3 166.7L374.2 166.4L375.8 165.6L375.1 164L372.5 162.5L369.3 161.1L367.6 160L366.9 159.9L365.9 160.4L364.9 161.2L363.7 161.3L361.9 159.9L362.8 159.1L360 158.1L358.9 158.6L358.5 160.2L357.7 161.7L357.4 163.8L358.3 165.9M364.9 159.7L365.7 159.9L367.5 159.9L368.6 158L369 156.9L367 157.2L365 158.3L364.9 159.7M211.7 153.4L217.1 151.7L221.5 150.9L220 153.7L216.3 154.2L211.7 153.4M208.9 161.8L211.1 158.9L214.7 155.8L217.4 155.5L213 159.1L210.8 161.1L208.9 161.8M218.6 155.5L221.1 156.7L221.7 158.1L217.9 160L217.8 159L217.4 158.1L218.6 155.5M213.8 162.2L217.1 162L220.6 160.9L219.6 161.3L216.6 161.1L213.8 162.2M220.3 160L224.7 160L225.4 158.9L221.8 159.5L220.3 160M373.7 235.7L375.6 233.5L377.6 234L378.1 235.7L375.9 238.2L374 237.7L373.7 235.7M369.3 239.7L369.7 244L371.1 248.2L371.9 247.9L371 244.1L369.8 239.9L369.3 239.7M376.7 249.9L377.2 253.3L377.9 258L377.6 254.1L377.1 250.8L376.7 249.9M393.1 157.6L395.3 157.1L398.3 159.7L397.5 161.4L394.7 159.9L393.1 157.6M433.1 144.3L433.4 142.6L431.1 139.2L428.6 137.4L430.7 139.3L431.9 141.9L433.1 144.3M410.6 155.6L413.9 155.1L416.6 155.4L412.5 154.9L410.6 155.6M266.9 365.9L266.7 365.3L266.6 364.6L268.5 364.2L270.3 363.9L268.1 363.2L264.1 362.2L263.8 361.8L262.6 361.1L260 360.1L258.9 359.2L258 358.2L257.2 357.3L258.4 356.8L257.9 355.8L259.3 355.3L261.8 355.2L264 354.8L266.4 354.9L268.6 354.7L269.3 354L267.1 352.7L268.3 352.1L269.9 351.6L271.8 351.3L274.5 351.3L276 350.7L276.3 349.9L275.2 348.5L275.9 347.9L279.4 349L278.8 348L276.5 346.3L273.9 344.3L272.4 343L270.7 340.8L270.1 339.1L270 337.5L270.9 336.4L272.1 335.8L272.2 337.2L271.9 338.4L273.3 340.3L274.3 341.7L275.7 343.4L279 345.3L282.3 347.2L285.2 349.1L287.4 350.9L288.4 352.1L290.5 352.6L293.6 352.8L296.8 353.6L299.8 354.5L302.6 354.9L304.1 354.1L305.5 354.2L306.1 353.2L306.8 351.8L307.2 350.6L308.4 348.8L310.3 347.7L311.7 346.6L313.2 345.3L314.4 344.6L317 344.3L319.6 344L322.4 343.6L325.1 343.5L327.9 343.3L330.6 343.6L333.5 343.4L336 343.9L338.6 344.2L341.8 343.4L345.1 342.9L346.9 343.3L349.8 342.4L353.6 341.5L356.4 341L359.2 340.5L362.8 339.3L365.1 340.2L366.7 341.6L369 342.3L370.6 342.8L369.7 344.2L368.7 345.6L368.2 346.7L370.4 345.7L371.6 345.7L373.7 345.3L376.9 344.3L381.2 343.2L384.7 343L387.8 343.2L390.9 343.3L393.7 343.7L396 343.6L399 343.6L399.8 344.9L401.5 345.1L401.2 346.2L402.5 346.7L403.8 347.2L406.3 347.3L408.5 347.5L411.5 347.7L413.8 348.2L414.2 349L414.6 350.2L415.1 350.9L414.1 352.1L412.1 353.4L411.9 354.5L411.3 355.5L410.5 356.4L407.5 357.7L407 358.5L405.5 359.4L403.7 360.3L398.5 361.2L393.8 361.6L390.7 361.6L385.2 362.3L379.9 363L376.5 363.7L375.1 364.3L375.5 364.7L375.3 365.3L375.1 365.9M229.3 122.1L234.5 120.8L237.7 120.6L236.3 121.7L232.1 122.7L229.1 122.9L229.3 122.1M221.6 128.8L227.5 127.2L230.3 127.4L227.1 128.1L223.2 128.8L221.6 128.8M218.8 133.1L224 132.2L225 132.7L221.4 133L218.8 133.1M213.4 146.9L215.9 145.4L217.4 143L218.2 141.6L216 143.6L214 145.7L213.4 146.9M201 240L204.5 239.5L209 239L212.8 234.6L216.6 234.8L220.3 236.7L222.2 239L226 238.6L230.6 237.7L234.4 236.3L237.2 234.6L241.9 235.8M347.5 239L349 236L350.6 233.3L353.7 230.7L357.4 230.2L361 232.8M366.2 115.3L368.1 119L373.8 120L377.5 124.7L372.8 126.6L373.8 129.4L379.4 132.2L385 134L392.5 135L398 136.5L405.6 139.2M397 110.6L398 115.3L404.7 118.1L411.2 120.9L416 122.5L419 123L425 125.3L423.4 130L418.8 130.8M342.4 211.2L344.5 210.6L346 212.2L344.2 213L342.4 211.2" fill="none" stroke="#000" stroke-width="0.9" stroke-linejoin="round"/></g>
<path d="M590.27,234 590.23,231.65 590.1,229.3 589.9,226.95 589.61,224.61 589.24,222.27 588.79,219.93 588.26,217.59 587.65,215.26 586.95,212.94 586.18,210.62 585.32,208.31 584.38,206.01 583.36,203.71 582.27,201.43 581.09,199.15 579.84,196.89 578.5,194.64 577.09,192.4 575.6,190.17 574.03,187.95 572.38,185.75 570.66,183.57 568.86,181.39 566.99,179.24 565.04,177.1 563.01,174.98 560.92,172.88 558.75,170.79 556.51,168.73 554.19,166.68 551.81,164.66 549.35,162.66 546.83,160.67 544.23,158.71 541.57,156.78 538.84,154.86 536.05,152.98 533.18,151.11 530.26,149.27 527.27,147.46 524.22,145.67 521.1,143.91 517.93,142.18 514.69,140.48 511.4,138.8 508.05,137.15 504.64,135.54 501.17,133.95 497.65,132.39 494.08,130.87 490.45,129.37 486.78,127.91 483.05,126.48 479.27,125.08 475.44,123.71 471.57,122.38 467.65,121.09 463.69,119.82 459.68,118.6 455.63,117.4 451.54,116.25 447.41,115.13 443.24,114.04 439.04,112.99 434.8,111.98 430.52,111.01 426.21,110.07 421.87,109.17 417.5,108.31 413.09,107.49 408.66,106.7 404.21,105.96 399.73,105.25 395.22,104.58 390.69,103.95 386.14,103.37 381.57,102.82 376.98,102.31 372.38,101.84 367.76,101.41 363.12,101.02 358.47,100.68 353.82,100.37 349.15,100.1 344.47,99.88 339.78,99.69 335.09,99.55 330.4,99.45 325.7,99.39 321,99.37 316.3,99.39 311.6,99.45 306.91,99.55 302.22,99.69 297.53,99.88 292.85,100.1 288.18,100.37 283.53,100.68 278.88,101.02 274.24,101.41 269.62,101.84 265.02,102.31 260.43,102.82 255.86,103.37 251.31,103.95 246.78,104.58 242.27,105.25 237.79,105.96 233.34,106.7 228.91,107.49 224.5,108.31 220.13,109.17 215.79,110.07 211.48,111.01 207.2,111.98 202.96,112.99 198.76,114.04 194.59,115.13 190.46,116.25 186.37,117.4 182.32,118.6 178.31,119.82 174.35,121.09 170.43,122.38 166.56,123.71 162.73,125.08 158.95,126.48 155.22,127.91 151.55,129.37 147.92,130.87 144.35,132.39 140.83,133.95 137.36,135.54 133.95,137.15 130.6,138.8 127.31,140.48 124.07,142.18 120.9,143.91 117.78,145.67 114.73,147.46 111.74,149.27 108.82,151.11 105.95,152.98 103.16,154.86 100.43,156.78 97.77,158.71 95.17,160.67 92.65,162.66 90.19,164.66 87.81,166.68 85.49,168.73 83.25,170.79 81.08,172.88 78.99,174.98 76.96,177.1 75.01,179.24 73.14,181.39 71.34,183.57 69.62,185.75 67.97,187.95 66.4,190.17 64.91,192.4 63.5,194.64 62.16,196.89 60.91,199.15 59.73,201.43 58.64,203.71 57.62,206.01 56.68,208.31 55.82,210.62 55.05,212.94 54.35,215.26 53.74,217.59 53.21,219.93 52.76,222.27 52.39,224.61 52.1,226.95 51.9,229.3 51.77,231.65 51.73,234 51.77,236.35 51.9,238.7 52.1,241.05 52.39,243.39 52.76,245.73 53.21,248.07 53.74,250.41 54.35,252.74 55.05,255.06 55.82,257.38 56.68,259.69 57.62,261.99 58.64,264.29 59.73,266.57 60.91,268.85 62.16,271.11 63.5,273.36 64.91,275.6 66.4,277.83 67.97,280.05 69.62,282.25 71.34,284.43 73.14,286.61 75.01,288.76 76.96,290.9 78.99,293.02 81.08,295.12 83.25,297.21 85.49,299.27 87.81,301.32 90.19,303.34 92.65,305.34 95.17,307.33 97.77,309.29 100.43,311.22 103.16,313.14 105.95,315.02 108.82,316.89 111.74,318.73 114.73,320.54 117.78,322.33 120.9,324.09 124.07,325.82 127.31,327.52 130.6,329.2 133.95,330.85 137.36,332.46 140.83,334.05 144.35,335.61 147.92,337.13 151.55,338.63 155.22,340.09 158.95,341.52 162.73,342.92 166.56,344.29 170.43,345.62 174.35,346.91 178.31,348.18 182.32,349.4 186.37,350.6 190.46,351.75 194.59,352.87 198.76,353.96 202.96,355.01 207.2,356.02 211.48,356.99 215.79,357.93 220.13,358.83 224.5,359.69 228.91,360.51 233.34,361.3 237.79,362.04 242.27,362.75 246.78,363.42 251.31,364.05 255.86,364.63 260.43,365.18 265.02,365.69 269.62,366.16 274.24,366.59 278.88,366.98 283.53,367.32 288.18,367.63 292.85,367.9 297.53,368.12 302.22,368.31 306.91,368.45 311.6,368.55 316.3,368.61 321,368.63 325.7,368.61 330.4,368.55 335.09,368.45 339.78,368.31 344.47,368.12 349.15,367.9 353.82,367.63 358.47,367.32 363.12,366.98 367.76,366.59 372.38,366.16 376.98,365.69 381.57,365.18 386.14,364.63 390.69,364.05 395.22,363.42 399.73,362.75 404.21,362.04 408.66,361.3 413.09,360.51 417.5,359.69 421.87,358.83 426.21,357.93 430.52,356.99 434.8,356.02 439.04,355.01 443.24,353.96 447.41,352.87 451.54,351.75 455.63,350.6 459.68,349.4 463.69,348.18 467.65,346.91 471.57,345.62 475.44,344.29 479.27,342.92 483.05,341.52 486.78,340.09 490.45,338.63 494.08,337.13 497.65,335.61 501.17,334.05 504.64,332.46 508.05,330.85 511.4,329.2 514.69,327.52 517.93,325.82 521.1,324.09 524.22,322.33 527.27,320.54 530.26,318.73 533.18,316.89 536.05,315.02 538.84,313.14 541.57,311.22 544.23,309.29 546.83,307.33 549.35,305.34 551.81,303.34 554.19,301.32 556.51,299.27 558.75,297.21 560.92,295.12 563.01,293.02 565.04,290.9 566.99,288.76 568.86,286.61 570.66,284.43 572.38,282.25 574.03,280.05 575.6,277.83 577.09,275.6 578.5,273.36 579.84,271.11 581.09,268.85 582.27,266.57 583.36,264.29 584.38,261.99 585.32,259.69 586.18,257.38 586.95,255.06 587.65,252.74 588.26,250.41 588.79,248.07 589.24,245.73 589.61,243.39 589.9,241.05 590.1,238.7 590.23,236.35 590.27,234Z" fill="none" stroke="#7d8590" stroke-width="1.3"/>
<path d="M179.37,117.4H186.37 M455.63,117.4H462.63 M80.81,166.68H87.81 M554.19,166.68H561.19 M44.73,234H51.73 M590.27,234H597.27 M80.81,301.32H87.81 M554.19,301.32H561.19 M179.37,350.6H186.37 M455.63,350.6H462.63" fill="none" stroke="#909090" stroke-width="1"/>
<g class="lab"><text x="169.17" y="122.8" text-anchor="end" textLength="15" lengthAdjust="spacing">60</text><circle cx="171.07" cy="114.5" r="1.05"/><text x="467.43" y="122.8" textLength="15" lengthAdjust="spacing">60</text><circle cx="484.83" cy="114.5" r="1.05"/><text x="70.61" y="172.08" text-anchor="end" textLength="15" lengthAdjust="spacing">30</text><circle cx="72.51" cy="163.78" r="1.05"/><text x="565.99" y="172.08" textLength="15" lengthAdjust="spacing">30</text><circle cx="583.39" cy="163.78" r="1.05"/><text x="34.53" y="239.4" text-anchor="end" textLength="7" lengthAdjust="spacing">0</text><circle cx="36.43" cy="231.1" r="1.05"/><text x="602.07" y="239.4" textLength="7" lengthAdjust="spacing">0</text><circle cx="611.47" cy="231.1" r="1.05"/><text x="70.61" y="306.72" text-anchor="end" textLength="23" lengthAdjust="spacing">−30</text><circle cx="72.51" cy="298.42" r="1.05"/><text x="565.99" y="306.72" textLength="23" lengthAdjust="spacing">−30</text><circle cx="591.39" cy="298.42" r="1.05"/><text x="169.17" y="356" text-anchor="end" textLength="23" lengthAdjust="spacing">−60</text><circle cx="171.07" cy="347.7" r="1.05"/><text x="467.43" y="356" textLength="23" lengthAdjust="spacing">−60</text><circle cx="492.83" cy="347.7" r="1.05"/></g>
<text class="b" x="17.2" y="33.8" font-size="18" textLength="227.5" lengthAdjust="spacing">GOME–2 / MetOp Forecast</text>
<text class="b" x="17.6" y="58.8" font-size="18"><tspan textLength="26.6" lengthAdjust="spacing">CH</tspan><tspan font-size="12" dy="4.4" x="44">4</tspan><tspan dy="-4.4" x="55.5" textLength="93.5" lengthAdjust="spacing">at 55.4 hPa</tspan></text>
<text class="b" x="415" y="33.6" font-size="18" textLength="208" lengthAdjust="spacing">Mar 19, 2013, 12:00 GMT</text>
<text class="b" x="17.6" y="416.8" font-size="13.6" textLength="227" lengthAdjust="spacing">4DVar Chemical Data Assimilation</text>
<text class="b" x="17.4" y="439.8" font-size="13.6" textLength="138.5" lengthAdjust="spacing">SACADA Version 2.4</text>
<text class="b" x="17.4" y="461.8" font-size="13.6" textLength="108.3" lengthAdjust="spacing">http://wdc.dlr.de</text>
<text class="b" x="336.7" y="415.5" font-size="13.6" textLength="188" lengthAdjust="spacing">Volume Mixing Ratio [ppmv]</text>
<rect x="331" y="425" width="1.05" height="16" fill="rgb(65,1,100)"/><rect x="332" y="425" width="1.05" height="16" fill="rgb(67,3,110)"/><rect x="333" y="425" width="1.05" height="16" fill="rgb(69,5,118)"/><rect x="334" y="425" width="1.05" height="16" fill="rgb(71,7,128)"/><rect x="335" y="425" width="1.05" height="16" fill="rgb(73,9,136)"/><rect x="336" y="425" width="1.05" height="16" fill="rgb(75,11,146)"/><rect x="337" y="425" width="1.05" height="16" fill="rgb(77,13,154)"/><rect x="338" y="425" width="1.05" height="16" fill="rgb(79,15,164)"/><rect x="339" y="425" width="1.05" height="16" fill="rgb(79,16,171)"/><rect x="340" y="425" width="1.05" height="16" fill="rgb(75,16,179)"/><rect x="341" y="425" width="1.05" height="16" fill="rgb(73,16,185)"/><rect x="342" y="425" width="1.05" height="16" fill="rgb(69,16,193)"/><rect x="343" y="425" width="1.05" height="16" fill="rgb(67,16,199)"/><rect x="344" y="425" width="1.05" height="16" fill="rgb(64,16,206)"/><rect x="345" y="425" width="1.05" height="16" fill="rgb(61,16,213)"/><rect x="346" y="425" width="1.05" height="16" fill="rgb(58,16,220)"/><rect x="347" y="425" width="1.05" height="16" fill="rgb(53,20,225)"/><rect x="348" y="425" width="1.05" height="16" fill="rgb(48,28,228)"/><rect x="349" y="425" width="1.05" height="16" fill="rgb(43,36,231)"/><rect x="350" y="425" width="1.05" height="16" fill="rgb(37,44,233)"/><rect x="351" y="425" width="1.05" height="16" fill="rgb(32,52,236)"/><rect x="352" y="425" width="1.05" height="16" fill="rgb(27,60,239)"/><rect x="353" y="425" width="1.05" height="16" fill="rgb(24,67,240)"/><rect x="354" y="425" width="1.05" height="16" fill="rgb(23,74,241)"/><rect x="355" y="425" width="1.05" height="16" fill="rgb(21,82,242)"/><rect x="356" y="425" width="1.05" height="16" fill="rgb(21,88,244)"/><rect x="357" y="425" width="1.05" height="16" fill="rgb(19,96,244)"/><rect x="358" y="425" width="1.05" height="16" fill="rgb(19,102,246)"/><rect x="359" y="425" width="1.05" height="16" fill="rgb(17,110,247)"/><rect x="360" y="425" width="1.05" height="16" fill="rgb(16,117,248)"/><rect x="361" y="425" width="1.05" height="16" fill="rgb(17,122,248)"/><rect x="362" y="425" width="1.05" height="16" fill="rgb(18,125,248)"/><rect x="363" y="425" width="1.05" height="16" fill="rgb(20,128,248)"/><rect x="364" y="425" width="1.05" height="16" fill="rgb(22,131,248)"/><rect x="365" y="425" width="1.05" height="16" fill="rgb(23,134,248)"/><rect x="366" y="425" width="1.05" height="16" fill="rgb(25,138,248)"/><rect x="367" y="425" width="1.05" height="16" fill="rgb(26,141,248)"/><rect x="368" y="425" width="1.05" height="16" fill="rgb(28,144,248)"/><rect x="369" y="425" width="1.05" height="16" fill="rgb(30,147,248)"/><rect x="370" y="425" width="1.05" height="16" fill="rgb(31,150,248)"/><rect x="371" y="425" width="1.05" height="16" fill="rgb(33,153,248)"/><rect x="372" y="425" width="1.05" height="16" fill="rgb(34,156,248)"/><rect x="373" y="425" width="1.05" height="16" fill="rgb(36,158,248)"/><rect x="374" y="425" width="1.05" height="16" fill="rgb(38,160,248)"/><rect x="375" y="425" width="1.05" height="16" fill="rgb(39,163,248)"/><rect x="376" y="425" width="1.05" height="16" fill="rgb(41,165,248)"/><rect x="377" y="425" width="1.05" height="16" fill="rgb(42,168,248)"/><rect x="378" y="425" width="1.05" height="16" fill="rgb(44,170,248)"/><rect x="379" y="425" width="1.05" height="16" fill="rgb(46,172,248)"/><rect x="380" y="425" width="1.05" height="16" fill="rgb(47,175,248)"/><rect x="381" y="425" width="1.05" height="16" fill="rgb(48,177,248)"/><rect x="382" y="425" width="1.05" height="16" fill="rgb(49,180,248)"/><rect x="383" y="425" width="1.05" height="16" fill="rgb(50,182,248)"/><rect x="384" y="425" width="1.05" height="16" fill="rgb(51,184,248)"/><rect x="385" y="425" width="1.05" height="16" fill="rgb(52,187,248)"/><rect x="386" y="425" width="1.05" height="16" fill="rgb(52,189,248)"/><rect x="387" y="425" width="1.05" height="16" fill="rgb(53,192,248)"/><rect x="388" y="425" width="1.05" height="16" fill="rgb(54,194,248)"/><rect x="389" y="425" width="1.05" height="16" fill="rgb(55,196,248)"/><rect x="390" y="425" width="1.05" height="16" fill="rgb(56,199,248)"/><rect x="391" y="425" width="1.05" height="16" fill="rgb(56,202,248)"/><rect x="392" y="425" width="1.05" height="16" fill="rgb(57,205,248)"/><rect x="393" y="425" width="1.05" height="16" fill="rgb(58,209,248)"/><rect x="394" y="425" width="1.05" height="16" fill="rgb(59,213,248)"/><rect x="395" y="425" width="1.05" height="16" fill="rgb(60,216,248)"/><rect x="396" y="425" width="1.05" height="16" fill="rgb(60,220,248)"/><rect x="397" y="425" width="1.05" height="16" fill="rgb(61,223,248)"/><rect x="398" y="425" width="1.05" height="16" fill="rgb(62,227,248)"/><rect x="399" y="425" width="1.05" height="16" fill="rgb(63,231,248)"/><rect x="400" y="425" width="1.05" height="16" fill="rgb(64,234,248)"/><rect x="401" y="425" width="1.05" height="16" fill="rgb(64,236,246)"/><rect x="402" y="425" width="1.05" height="16" fill="rgb(64,237,242)"/><rect x="403" y="425" width="1.05" height="16" fill="rgb(64,237,238)"/><rect x="404" y="425" width="1.05" height="16" fill="rgb(64,237,234)"/><rect x="405" y="425" width="1.05" height="16" fill="rgb(64,238,230)"/><rect x="406" y="425" width="1.05" height="16" fill="rgb(64,238,226)"/><rect x="407" y="425" width="1.05" height="16" fill="rgb(64,239,222)"/><rect x="408" y="425" width="1.05" height="16" fill="rgb(64,239,218)"/><rect x="409" y="425" width="1.05" height="16" fill="rgb(64,239,214)"/><rect x="410" y="425" width="1.05" height="16" fill="rgb(64,240,210)"/><rect x="411" y="425" width="1.05" height="16" fill="rgb(64,240,204)"/><rect x="412" y="425" width="1.05" height="16" fill="rgb(64,240,195)"/><rect x="413" y="425" width="1.05" height="16" fill="rgb(64,240,187)"/><rect x="414" y="425" width="1.05" height="16" fill="rgb(64,240,178)"/><rect x="415" y="425" width="1.05" height="16" fill="rgb(64,240,170)"/><rect x="416" y="425" width="1.05" height="16" fill="rgb(64,240,161)"/><rect x="417" y="425" width="1.05" height="16" fill="rgb(64,240,153)"/><rect x="418" y="425" width="1.05" height="16" fill="rgb(64,240,144)"/><rect x="419" y="425" width="1.05" height="16" fill="rgb(64,240,134)"/><rect x="420" y="425" width="1.05" height="16" fill="rgb(64,240,121)"/><rect x="421" y="425" width="1.05" height="16" fill="rgb(64,240,108)"/><rect x="422" y="425" width="1.05" height="16" fill="rgb(64,240,96)"/><rect x="423" y="425" width="1.05" height="16" fill="rgb(64,240,83)"/><rect x="424" y="425" width="1.05" height="16" fill="rgb(64,240,70)"/><rect x="425" y="425" width="1.05" height="16" fill="rgb(67,240,64)"/><rect x="426" y="425" width="1.05" height="16" fill="rgb(72,240,64)"/><rect x="427" y="425" width="1.05" height="16" fill="rgb(77,240,64)"/><rect x="428" y="425" width="1.05" height="16" fill="rgb(83,240,64)"/><rect x="429" y="425" width="1.05" height="16" fill="rgb(88,240,64)"/><rect x="430" y="425" width="1.05" height="16" fill="rgb(93,240,64)"/><rect x="431" y="425" width="1.05" height="16" fill="rgb(100,240,64)"/><rect x="432" y="425" width="1.05" height="16" fill="rgb(107,240,64)"/><rect x="433" y="425" width="1.05" height="16" fill="rgb(114,240,64)"/><rect x="434" y="425" width="1.05" height="16" fill="rgb(121,240,64)"/><rect x="435" y="425" width="1.05" height="16" fill="rgb(128,240,64)"/><rect x="436" y="425" width="1.05" height="16" fill="rgb(136,240,64)"/><rect x="437" y="425" width="1.05" height="16" fill="rgb(143,240,64)"/><rect x="438" y="425" width="1.05" height="16" fill="rgb(150,240,64)"/><rect x="439" y="425" width="1.05" height="16" fill="rgb(157,240,64)"/><rect x="440" y="425" width="1.05" height="16" fill="rgb(164,240,64)"/><rect x="441" y="425" width="1.05" height="16" fill="rgb(171,240,64)"/><rect x="442" y="425" width="1.05" height="16" fill="rgb(178,240,64)"/><rect x="443" y="425" width="1.05" height="16" fill="rgb(185,240,64)"/><rect x="444" y="425" width="1.05" height="16" fill="rgb(191,240,64)"/><rect x="445" y="425" width="1.05" height="16" fill="rgb(198,240,64)"/><rect x="446" y="425" width="1.05" height="16" fill="rgb(205,240,64)"/><rect x="447" y="425" width="1.05" height="16" fill="rgb(213,240,64)"/><rect x="448" y="425" width="1.05" height="16" fill="rgb(223,240,64)"/><rect x="449" y="425" width="1.05" height="16" fill="rgb(233,240,64)"/><rect x="450" y="425" width="1.05" height="16" fill="rgb(243,240,64)"/><rect x="451" y="425" width="1.05" height="16" fill="rgb(248,239,64)"/><rect x="452" y="425" width="1.05" height="16" fill="rgb(249,237,63)"/><rect x="453" y="425" width="1.05" height="16" fill="rgb(249,234,62)"/><rect x="454" y="425" width="1.05" height="16" fill="rgb(250,232,61)"/><rect x="455" y="425" width="1.05" height="16" fill="rgb(250,230,61)"/><rect x="456" y="425" width="1.05" height="16" fill="rgb(251,228,60)"/><rect x="457" y="425" width="1.05" height="16" fill="rgb(251,225,59)"/><rect x="458" y="425" width="1.05" height="16" fill="rgb(252,223,58)"/><rect x="459" y="425" width="1.05" height="16" fill="rgb(252,218,59)"/><rect x="460" y="425" width="1.05" height="16" fill="rgb(251,211,60)"/><rect x="461" y="425" width="1.05" height="16" fill="rgb(250,205,60)"/><rect x="462" y="425" width="1.05" height="16" fill="rgb(250,197,62)"/><rect x="463" y="425" width="1.05" height="16" fill="rgb(249,190,63)"/><rect x="464" y="425" width="1.05" height="16" fill="rgb(248,183,64)"/><rect x="465" y="425" width="1.05" height="16" fill="rgb(248,177,64)"/><rect x="466" y="425" width="1.05" height="16" fill="rgb(248,171,64)"/><rect x="467" y="425" width="1.05" height="16" fill="rgb(248,165,64)"/><rect x="468" y="425" width="1.05" height="16" fill="rgb(248,159,64)"/><rect x="469" y="425" width="1.05" height="16" fill="rgb(248,153,64)"/><rect x="470" y="425" width="1.05" height="16" fill="rgb(248,147,64)"/><rect x="471" y="425" width="1.05" height="16" fill="rgb(248,142,64)"/><rect x="472" y="425" width="1.05" height="16" fill="rgb(248,137,64)"/><rect x="473" y="425" width="1.05" height="16" fill="rgb(248,132,64)"/><rect x="474" y="425" width="1.05" height="16" fill="rgb(248,127,64)"/><rect x="475" y="425" width="1.05" height="16" fill="rgb(248,122,64)"/><rect x="476" y="425" width="1.05" height="16" fill="rgb(248,118,64)"/><rect x="477" y="425" width="1.05" height="16" fill="rgb(248,113,64)"/><rect x="478" y="425" width="1.05" height="16" fill="rgb(248,108,64)"/><rect x="479" y="425" width="1.05" height="16" fill="rgb(248,103,64)"/><rect x="480" y="425" width="1.05" height="16" fill="rgb(248,98,64)"/><rect x="481" y="425" width="1.05" height="16" fill="rgb(248,93,63)"/><rect x="482" y="425" width="1.05" height="16" fill="rgb(247,86,62)"/><rect x="483" y="425" width="1.05" height="16" fill="rgb(246,80,60)"/><rect x="484" y="425" width="1.05" height="16" fill="rgb(245,74,58)"/><rect x="485" y="425" width="1.05" height="16" fill="rgb(244,67,57)"/><rect x="486" y="425" width="1.05" height="16" fill="rgb(244,61,55)"/><rect x="487" y="425" width="1.05" height="16" fill="rgb(243,54,54)"/><rect x="488" y="425" width="1.05" height="16" fill="rgb(242,48,52)"/><rect x="489" y="425" width="1.05" height="16" fill="rgb(241,42,50)"/><rect x="490" y="425" width="1.05" height="16" fill="rgb(240,35,49)"/><rect x="491" y="425" width="1.05" height="16" fill="rgb(240,31,47)"/><rect x="492" y="425" width="1.05" height="16" fill="rgb(239,30,46)"/><rect x="493" y="425" width="1.05" height="16" fill="rgb(239,29,45)"/><rect x="494" y="425" width="1.05" height="16" fill="rgb(238,28,44)"/><rect x="495" y="425" width="1.05" height="16" fill="rgb(237,27,43)"/><rect x="496" y="425" width="1.05" height="16" fill="rgb(237,26,42)"/><rect x="497" y="425" width="1.05" height="16" fill="rgb(236,25,41)"/><rect x="498" y="425" width="1.05" height="16" fill="rgb(236,23,39)"/><rect x="499" y="425" width="1.05" height="16" fill="rgb(235,22,38)"/><rect x="500" y="425" width="1.05" height="16" fill="rgb(235,21,37)"/><rect x="501" y="425" width="1.05" height="16" fill="rgb(234,20,36)"/><rect x="502" y="425" width="1.05" height="16" fill="rgb(233,19,35)"/><rect x="503" y="425" width="1.05" height="16" fill="rgb(233,18,34)"/><rect x="504" y="425" width="1.05" height="16" fill="rgb(232,17,33)"/><rect x="505" y="425" width="1.05" height="16" fill="rgb(227,16,32)"/><rect x="506" y="425" width="1.05" height="16" fill="rgb(218,16,32)"/><rect x="507" y="425" width="1.05" height="16" fill="rgb(209,16,32)"/><rect x="508" y="425" width="1.05" height="16" fill="rgb(199,16,32)"/><rect x="509" y="425" width="1.05" height="16" fill="rgb(190,16,32)"/><rect x="510" y="425" width="1.05" height="16" fill="rgb(181,16,32)"/><rect x="511" y="425" width="1.05" height="16" fill="rgb(174,17,32)"/><rect x="512" y="425" width="1.05" height="16" fill="rgb(169,18,32)"/><rect x="513" y="425" width="1.05" height="16" fill="rgb(164,20,32)"/><rect x="514" y="425" width="1.05" height="16" fill="rgb(159,22,32)"/><rect x="515" y="425" width="1.05" height="16" fill="rgb(154,23,32)"/><rect x="516" y="425" width="1.05" height="16" fill="rgb(150,25,32)"/><rect x="517" y="425" width="1.05" height="16" fill="rgb(145,26,32)"/><rect x="518" y="425" width="1.05" height="16" fill="rgb(140,28,32)"/><rect x="519" y="425" width="1.05" height="16" fill="rgb(135,30,32)"/><rect x="520" y="425" width="1.05" height="16" fill="rgb(130,31,32)"/><rect x="521" y="425" width="1.05" height="16" fill="rgb(126,32,32)"/><rect x="522" y="425" width="1.05" height="16" fill="rgb(121,32,32)"/><rect x="523" y="425" width="1.05" height="16" fill="rgb(116,32,32)"/><rect x="524" y="425" width="1.05" height="16" fill="rgb(111,32,32)"/><rect x="525" y="425" width="1.05" height="16" fill="rgb(106,32,32)"/><rect x="526" y="425" width="1.05" height="16" fill="rgb(102,32,32)"/><rect x="527" y="425" width="1.05" height="16" fill="rgb(97,32,32)"/><rect x="528" y="425" width="1.05" height="16" fill="rgb(92,32,32)"/><rect x="529" y="425" width="1.05" height="16" fill="rgb(87,32,32)"/><rect x="530" y="425" width="1.05" height="16" fill="rgb(82,32,32)"/>
<path d="M331,424.5 L322.5,433 L331,441.5Z" fill="rgb(58,16,80)" stroke="#000" stroke-width="1.2" stroke-linejoin="miter"/>
<path d="M531,424.5 L539.5,433 L531,441.5Z" fill="rgb(72,32,32)" stroke="#000" stroke-width="1.2"/>
<rect x="331" y="424.5" width="200" height="17" fill="none" stroke="#000" stroke-width="1.2"/>
<path d="M331,442V446.5 M351,442V444 M371,442V446.5 M391,442V444 M411,442V446.5 M431,442V444 M451,442V446.5 M471,442V444 M491,442V446.5 M511,442V444 M531,442V446.5" stroke="#777" stroke-width="1.3" fill="none"/>
<text class="b" x="322.25" y="462.6" font-size="13.6" textLength="17.5" lengthAdjust="spacing">1.0</text><text class="b" x="362.25" y="462.6" font-size="13.6" textLength="17.5" lengthAdjust="spacing">1.2</text><text class="b" x="402.25" y="462.6" font-size="13.6" textLength="17.5" lengthAdjust="spacing">1.4</text><text class="b" x="442.25" y="462.6" font-size="13.6" textLength="17.5" lengthAdjust="spacing">1.6</text><text class="b" x="482.25" y="462.6" font-size="13.6" textLength="17.5" lengthAdjust="spacing">1.8</text><text class="b" x="522.25" y="462.6" font-size="13.6" textLength="17.5" lengthAdjust="spacing">2.0</text>
<path d="M560,400.2 C563,399.5 566,398 569,397.4" fill="none" stroke="#1515e0" stroke-width="1.6" stroke-linecap="round"/>
<path d="M577.5,396.3 C583,397.5 587,401.8 593,401.8 C601,401.8 610,398.5 622.8,396" fill="none" stroke="#1515e0" stroke-width="2.4" stroke-linecap="round"/>
<path d="M568.1,400.7 L568.1,392 L568.8,388 L569.6,381 L570.3,377.3 L571,381 L571.8,387 L572.3,389.5 L573.2,390.4 L574.2,389.5 L574.8,386 L575.3,380 L575.7,376.2 L576.2,380 L576.8,386 L577.5,390 L577.9,393 L577.9,400.7Z" fill="#7a7a7a"/>
<text x="580" y="394.6" font-size="25" font-weight="bold" font-style="italic" textLength="43" lengthAdjust="spacingAndGlyphs" fill="#000" stroke="#000" stroke-width="0.6">RIU</text>
<path d="M577.5,431.75 L617.4,431.75 L608.5,440.25 L568.6,440.25Z M604.8,416.3 L604.8,430.7 L581.5,455.5 L581.5,440.3Z" fill="none" stroke="#000" stroke-width="3" stroke-linejoin="miter" stroke-miterlimit="10"/>
<text class="b" x="596" y="462" font-size="12.6" textLength="27" lengthAdjust="spacing">DLR</text>

</svg>
</body></html>
